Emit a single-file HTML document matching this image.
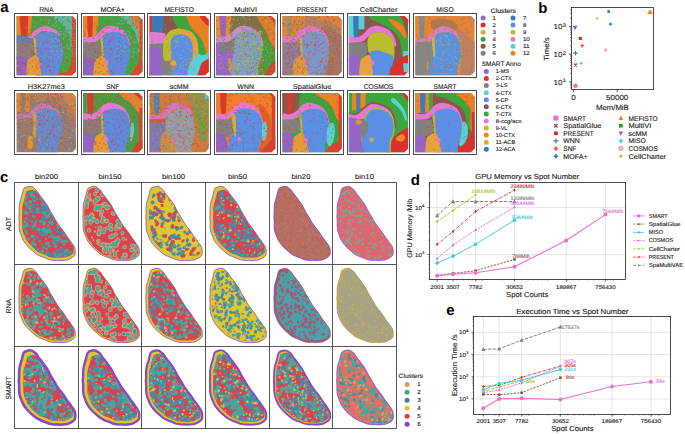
<!DOCTYPE html>
<html><head><meta charset="utf-8"><style>
html,body{margin:0;padding:0;background:#fff;width:685px;height:434px;overflow:hidden}
svg text{font-family:"Liberation Sans",sans-serif;text-rendering:geometricPrecision}
</style></head><body>
<svg width="685" height="434" viewBox="0 0 685 434" style="display:block">
<defs><clipPath id="octo"><path d="M0,0H56L60,4V56L56,60H0Z"/></clipPath></defs>
<text x="0.20" y="11.50" font-size="15.00" font-weight="bold" fill="#000">a</text>
<text x="46.30" y="11.60" font-size="6.97" text-anchor="middle" fill="#1a1a1a" stroke="#1a1a1a" stroke-width="0.12" textLength="14.25" lengthAdjust="spacingAndGlyphs">RNA</text>
<svg x="16.60" y="15.90" width="59.3" height="59.4" viewBox="17.6 19.7 402.1 402.8" preserveAspectRatio="none"><path d="M-20,-20H460V460H-20Z" fill="#46a447"/><path d="M230,-20C253,-35 422,-78 460,-20C498,38 471,287 460,330C449,373 410,272 395,240C380,208 382,168 370,140C358,112 343,97 320,70C297,43 207,-5 230,-20Z" fill="#5cb89c"/><path d="M392,-20 L460,-20 L460,460 L392,460Z" fill="#d84a30"/><path d="M330,460C315,447 358,402 370,380C382,358 385,338 400,330C415,322 450,308 460,330C470,352 482,438 460,460C438,482 345,473 330,460Z" fill="#d84a30"/><path d="M150,408 L460,400 L460,460 L150,460Z" fill="#d84a30"/><path d="M-20,-20C2,-47 90,-43 112,-20C134,3 114,93 112,120C110,147 105,135 100,140C95,145 88,148 80,150C72,152 67,152 50,150C33,148 -8,168 -20,140C-32,112 -42,7 -20,-20Z" fill="#e8862c"/><path d="M44,-20C52,-45 84,-45 92,-20C100,5 94,100 92,130C90,160 85,157 80,162C75,167 66,167 60,162C54,157 49,160 46,130C43,100 36,5 44,-20Z" fill="#d53c2c"/><path d="M-20,150 L110,160 L130,175 L140,200 L-20,205Z" fill="#6c78b8"/><path d="M100,160C102,151 124,129 140,118C156,107 178,96 195,92C212,88 229,91 245,96C261,101 279,111 290,120C301,129 311,142 312,148C313,154 308,157 298,154C288,151 270,133 255,128C240,123 220,120 205,122C190,124 178,130 165,138C152,146 141,166 130,170C119,174 98,169 100,160Z" fill="#e07ad0"/><path d="M150,170C152,155 151,153 160,146C169,139 188,133 205,130C222,127 244,127 260,130C276,133 290,140 300,150C310,160 317,172 322,188C327,204 329,224 330,245C331,266 330,293 326,315C322,337 312,351 306,375C300,399 313,446 290,460C267,474 191,477 170,460C149,443 164,387 162,360C160,333 158,321 156,300C154,279 149,257 148,235C147,213 148,185 150,170Z" fill="#6289db"/><path d="M-20,200 L140,200 L146,290 L110,298 L90,318 L-20,318Z" fill="#8a7c7e"/><path d="M-20,310C-8,283 36,298 55,300C74,302 86,307 92,320C98,333 91,357 92,380C93,403 115,447 96,460C77,473 -1,485 -20,460C-39,435 -32,337 -20,310Z" fill="#8d64c2"/><path d="M92,330C97,303 111,307 120,300C129,293 138,286 146,288C154,290 163,298 168,312C173,326 176,345 178,370C180,395 196,445 182,460C168,475 107,482 92,460C77,438 87,357 92,330Z" fill="#e29b3c"/><path d="M132,178C134,169 144,159 147,168C150,177 150,211 151,230C152,249 154,270 153,282C152,294 148,305 146,302C144,299 140,279 139,265C138,251 138,234 137,220C136,206 130,187 132,178Z" fill="#c9b23a"/><path d="M166,345a9,10 0 1,0 18,0a9,10 0 1,0 -18,0Z" fill="#d87ab8"/><path d="M141,274h0M79,266h0M121,284h0M341,216h0M285,188h0M20,30h0M180,259h0M380,379h0M312,232h0M393,173h0M148,135h0M408,49h0M242,328h0M24,379h0M407,395h0M369,148h0M364,325h0M369,265h0M96,139h0M404,116h0M270,24h0M116,142h0M121,132h0M192,30h0M48,347h0M321,397h0M148,237h0M385,197h0M259,54h0M221,345h0M302,245h0M233,198h0M260,225h0M228,360h0M146,163h0M156,45h0M144,280h0M44,377h0M296,140h0M253,46h0M399,375h0M53,262h0M76,350h0M237,317h0M318,179h0M57,378h0M350,102h0M329,33h0M196,60h0M301,213h0M332,140h0M46,415h0M72,220h0M350,258h0M90,57h0M204,345h0M267,211h0M125,27h0M374,221h0M152,356h0M285,298h0M192,379h0M179,332h0M91,309h0M228,64h0M316,381h0M46,33h0M394,87h0M22,387h0M158,240h0M252,32h0M260,302h0M262,328h0M359,363h0M128,272h0M312,182h0M354,202h0M329,111h0M331,299h0M414,400h0M383,235h0M50,327h0M185,310h0M178,89h0M133,118h0M209,251h0M317,196h0M52,54h0M329,69h0M398,286h0M138,39h0M163,245h0M157,261h0M335,180h0M357,287h0M27,380h0M358,165h0M418,298h0M347,249h0M128,207h0M162,418h0M354,259h0M247,136h0M196,208h0M36,139h0M353,322h0M216,110h0M205,60h0M245,165h0M368,44h0M257,30h0M364,120h0M62,185h0M226,199h0M292,260h0M404,319h0M304,30h0M45,300h0M158,109h0M137,159h0M55,408h0M273,160h0M187,71h0M137,111h0M401,49h0M328,222h0M188,107h0M339,321h0M344,299h0M247,390h0M316,268h0M38,40h0M98,267h0M390,179h0M294,166h0M25,336h0M394,71h0M304,330h0M361,203h0M263,211h0M244,365h0M325,188h0M369,248h0M63,209h0M117,138h0M43,238h0M95,210h0M379,59h0M384,166h0M98,381h0M158,171h0M327,213h0M159,41h0M202,199h0M197,328h0M235,278h0M22,345h0M394,335h0M101,118h0M46,370h0M131,80h0M271,416h0M94,402h0M285,244h0M71,342h0M400,130h0M185,270h0M131,215h0M367,58h0M243,26h0M74,347h0M52,264h0M403,38h0M93,197h0M231,366h0M181,330h0M139,276h0M56,339h0M343,92h0M387,204h0M342,340h0M225,309h0M343,257h0M175,364h0M293,92h0M143,313h0M257,407h0M34,388h0M219,184h0M154,370h0M116,153h0M242,391h0M157,346h0M277,274h0M221,368h0M335,249h0M390,310h0M221,242h0M366,33h0M324,197h0M205,65h0M194,366h0M304,405h0M272,46h0M125,325h0M119,257h0M341,24h0M42,217h0M292,45h0M75,39h0M122,274h0M209,398h0M162,376h0M265,102h0M65,341h0M24,249h0M267,71h0M56,134h0M86,225h0M107,341h0M64,49h0M416,26h0M373,173h0M304,63h0M290,205h0M355,331h0M59,107h0M125,365h0M213,28h0M189,128h0M245,246h0M316,420h0M310,250h0M327,110h0M294,44h0M41,399h0M303,205h0M24,389h0M268,367h0M190,276h0M233,353h0M168,327h0M167,196h0M207,141h0M243,266h0M333,149h0" stroke="#d83a30" stroke-width="5.5" stroke-linecap="square"/><path d="M258,61h0M273,174h0M240,51h0M402,174h0M280,72h0M264,258h0M329,42h0M347,20h0M250,300h0M365,229h0M239,113h0M277,283h0M318,57h0M257,138h0M319,285h0M387,98h0M302,132h0M278,45h0M353,152h0M401,258h0M401,225h0M231,127h0M354,108h0M263,217h0M363,214h0M266,83h0M309,246h0M287,89h0M415,205h0M356,126h0M335,171h0M249,84h0M352,299h0M313,213h0M375,246h0M290,180h0M267,229h0M315,146h0M381,199h0M414,278h0M383,108h0M364,243h0M314,261h0M375,240h0M379,227h0M377,35h0M285,54h0M372,177h0M262,222h0M319,125h0M331,18h0M389,43h0M285,229h0M321,254h0M287,27h0M285,22h0M310,30h0M250,255h0M307,185h0M352,159h0M234,63h0M341,149h0M300,296h0M278,38h0M259,24h0M289,261h0M400,243h0M270,93h0M390,88h0M236,125h0M333,180h0M346,120h0M295,188h0M315,105h0M319,68h0M331,256h0M249,262h0M328,267h0M400,108h0M395,69h0M381,290h0M318,59h0M404,44h0M247,232h0M264,195h0M293,256h0M245,160h0M407,88h0M396,272h0M291,62h0M372,131h0M405,187h0M324,214h0M381,227h0M388,255h0M297,74h0M242,47h0M238,18h0M338,143h0M311,186h0M233,71h0M364,222h0M375,19h0M385,215h0M284,171h0M376,71h0M291,228h0M303,100h0M393,140h0M253,175h0M323,143h0M339,143h0M299,127h0M274,225h0" stroke="#5ccfd6" stroke-width="5.5" stroke-linecap="square"/><path d="M315,53h0M313,172h0M337,210h0M339,107h0M274,230h0M316,213h0M289,101h0M307,164h0M412,28h0M355,205h0M330,187h0M314,122h0M389,287h0M303,173h0M362,44h0M296,38h0M326,109h0M231,162h0M237,81h0M239,159h0M328,58h0M360,90h0M263,149h0M301,169h0M414,130h0M259,64h0M372,263h0M373,279h0M283,186h0M375,293h0M327,110h0M287,111h0M262,50h0M342,163h0M355,273h0M402,278h0M379,72h0M348,257h0M306,235h0M363,51h0M301,135h0M268,138h0M256,94h0M238,79h0M410,23h0M328,101h0M318,172h0M344,183h0M250,85h0M265,98h0M261,162h0M411,112h0M233,250h0M251,149h0M382,128h0M383,151h0M377,56h0M383,113h0M374,170h0M364,227h0M346,252h0M402,139h0M374,118h0M334,125h0M273,225h0M318,242h0M295,69h0M314,188h0" stroke="#3ca63c" stroke-width="5.5" stroke-linecap="square"/><path d="M151,317h0M27,356h0M364,136h0M232,304h0M351,245h0M97,383h0M313,124h0M22,320h0M134,335h0M398,283h0M82,99h0M120,92h0M90,267h0M363,52h0M98,261h0M22,269h0M335,383h0M208,284h0M244,215h0M287,84h0M185,202h0M341,167h0M213,20h0M148,181h0M288,239h0M346,332h0M92,317h0M95,327h0M139,189h0M213,260h0M360,237h0M60,376h0M365,265h0M28,385h0M115,325h0M148,386h0M185,211h0M336,230h0M352,62h0M382,160h0M115,82h0M140,90h0M363,213h0M394,122h0M128,227h0M223,217h0M397,325h0M95,397h0M50,373h0M279,94h0M404,298h0M348,395h0" stroke="#ef8a2a" stroke-width="5.5" stroke-linecap="square"/></svg>
<path d="M71.90,15.40H76.40V19.90Z M76.40,71.30V75.80H71.90Z" fill="#fff"/>
<rect x="14.5" y="13.5" width="63.0" height="64.0" fill="none" stroke="#4a4a4a" stroke-width="1"/>
<text x="112.75" y="11.60" font-size="6.97" text-anchor="middle" fill="#1a1a1a" stroke="#1a1a1a" stroke-width="0.12" textLength="24.49" lengthAdjust="spacingAndGlyphs">MOFA+</text>
<svg x="83.05" y="15.90" width="59.3" height="59.4" viewBox="13.9 19.7 402.1 402.8" preserveAspectRatio="none"><path d="M-20,-20H460V460H-20Z" fill="#46a447"/><path d="M250,-20C275,-33 425,-73 460,-20C495,33 471,260 460,300C449,340 411,248 395,220C379,192 379,157 365,130C351,103 329,85 310,60C291,35 225,-7 250,-20Z" fill="#62b89a"/><path d="M330,-20C346,-37 438,-77 460,-20C482,37 470,275 460,320C450,365 412,278 400,250C388,222 396,178 390,150C384,122 375,108 365,80C355,52 314,-3 330,-20Z" fill="#e07a34"/><path d="M398,-20 L460,-20 L460,460 L398,460Z" fill="#d84a30"/><path d="M320,460C305,445 356,393 370,370C384,347 390,328 405,320C420,312 451,297 460,320C469,343 483,437 460,460C437,483 335,475 320,460Z" fill="#d84a30"/><path d="M-20,-20C1,-48 87,-45 108,-20C129,5 111,101 108,130C105,159 100,147 92,152C84,157 79,160 60,160C41,160 -7,180 -20,150C-33,120 -41,8 -20,-20Z" fill="#e8862c"/><path d="M44,-20C49,-45 72,-45 78,-20C84,5 79,100 78,130C77,160 74,155 70,160C66,165 59,165 55,160C51,155 48,160 46,130C44,100 39,5 44,-20Z" fill="#d53c2c"/><path d="M-20,150C-7,144 39,165 60,165C81,165 90,158 105,148C120,138 136,112 150,102C164,92 177,87 192,86C207,85 225,89 242,95C259,101 279,110 292,122C305,134 315,152 322,168C329,184 335,211 334,220C333,229 322,230 316,222C310,214 309,185 300,172C291,159 277,149 262,142C247,135 228,130 212,130C196,130 178,135 165,142C152,149 147,161 135,170C123,179 121,191 95,196C69,201 -1,210 -20,202C-39,194 -33,156 -20,150Z" fill="#e07ad0"/><path d="M142,170C145,155 150,153 160,146C170,139 188,133 205,130C222,127 244,127 260,130C276,133 290,140 300,150C310,160 317,172 322,188C327,204 329,224 330,245C331,266 330,293 326,315C322,337 312,351 306,375C300,399 313,446 290,460C267,474 191,477 170,460C149,443 166,387 162,360C158,333 152,321 148,300C144,279 141,257 140,235C139,213 139,185 142,170Z" fill="#6289db"/><path d="M-20,200 L130,200 L140,285 L110,298 L80,310 L-20,300Z" fill="#867f80"/><path d="M-20,300 L72,300 L96,332 L96,460 L-20,460Z" fill="#9060c4"/><path d="M92,335C96,309 109,310 118,302C127,294 137,287 146,290C155,293 164,303 170,318C176,333 180,354 184,378C188,402 207,446 192,460C177,474 109,481 92,460C75,439 88,361 92,335Z" fill="#e39b3a"/><path d="M132,178C134,169 144,159 147,168C150,177 150,211 151,230C152,249 154,270 153,282C152,294 148,305 146,302C144,299 140,279 139,265C138,251 138,234 137,220C136,206 130,187 132,178Z" fill="#c9b23a"/><path d="M161,337a13,16 0 1,0 26,0a13,16 0 1,0 -26,0Z" fill="#e07ad0"/><path d="M408,164h0M276,220h0M162,298h0M124,266h0M391,407h0M343,88h0M328,28h0M93,74h0M330,227h0M404,281h0M240,312h0M323,75h0M40,200h0M408,101h0M257,248h0M371,294h0M89,321h0M197,332h0M197,195h0M152,295h0M365,108h0M298,68h0M264,200h0M129,246h0M288,147h0M64,82h0M147,185h0M148,33h0M372,391h0M89,238h0M263,110h0M269,351h0M180,26h0M272,108h0M185,211h0M393,132h0M154,82h0M305,421h0M121,406h0M73,313h0M152,212h0M177,410h0M312,397h0M271,222h0M38,97h0M178,392h0M24,143h0M407,186h0M317,397h0M205,239h0M124,215h0M84,220h0M130,87h0M393,67h0M150,249h0M20,276h0M77,65h0M347,129h0M333,371h0M132,309h0M336,324h0M273,289h0M383,364h0M252,305h0M66,327h0M71,143h0M182,400h0M191,242h0M268,243h0M224,368h0M337,226h0M97,259h0M109,205h0M322,171h0M279,175h0M124,155h0M334,343h0M396,173h0M30,290h0M63,221h0M327,137h0M260,192h0M49,36h0M333,196h0M251,329h0M159,174h0M398,143h0M56,249h0M328,46h0M167,269h0M353,72h0M130,210h0M363,370h0M178,365h0M171,75h0M360,129h0M179,146h0M119,268h0M346,317h0M172,102h0M197,391h0M355,365h0M88,211h0M366,47h0M377,92h0M333,196h0M211,141h0M86,173h0M106,112h0M305,152h0M137,105h0M110,127h0M362,390h0M149,129h0M23,180h0M184,276h0M46,71h0M373,355h0M290,37h0M269,320h0M189,193h0M23,154h0M214,422h0M206,278h0M357,220h0M50,330h0M206,397h0M172,58h0M352,141h0M310,342h0M299,134h0M189,98h0M352,126h0M15,394h0M242,271h0M222,174h0M269,148h0M400,191h0M333,379h0M45,357h0M127,345h0M312,156h0M105,92h0M220,404h0M99,396h0M415,404h0M78,84h0M156,419h0M20,159h0M48,168h0M290,186h0M258,51h0M321,109h0M242,43h0M332,291h0M269,310h0M45,35h0M18,124h0M147,129h0M37,223h0M256,163h0M148,355h0M389,156h0M229,241h0M221,62h0M76,203h0M232,21h0M81,344h0M354,75h0M383,321h0M403,396h0M99,267h0M365,238h0M153,416h0M256,227h0M93,247h0M188,62h0M135,398h0M83,327h0M35,270h0M334,85h0M307,53h0M233,107h0M170,133h0M290,20h0M220,119h0M350,58h0M33,84h0M117,371h0M378,104h0M287,90h0M215,155h0M94,406h0M97,263h0M344,21h0M50,403h0M148,354h0M125,192h0M293,129h0M341,410h0M305,130h0M16,299h0M393,334h0M251,58h0M218,266h0M85,291h0M348,158h0M27,137h0M77,421h0M145,270h0M110,300h0M161,241h0M151,97h0M260,105h0M294,72h0M374,28h0M317,140h0M416,112h0M339,66h0M97,324h0M317,213h0M111,99h0M377,93h0M198,180h0M48,108h0M232,318h0M377,189h0M102,329h0M392,251h0M396,365h0M77,380h0M273,378h0M299,121h0M120,338h0M210,182h0M309,132h0M207,246h0M375,297h0M115,305h0M249,279h0M188,61h0M135,317h0M301,207h0M243,30h0M379,311h0M298,256h0" stroke="#d83a30" stroke-width="5.5" stroke-linecap="square"/><path d="M355,198h0M268,134h0M253,74h0M256,59h0M233,295h0M327,136h0M390,105h0M350,260h0M273,49h0M230,269h0M386,135h0M320,224h0M284,119h0M392,261h0M241,67h0M332,67h0M342,159h0M361,61h0M269,220h0M340,297h0M360,44h0M330,137h0M298,38h0M280,52h0M268,223h0M391,251h0M252,290h0M390,253h0M292,119h0M280,257h0M302,233h0M313,69h0M332,265h0M386,243h0M273,77h0M361,240h0M319,252h0M374,153h0M363,264h0M400,220h0M251,212h0M255,161h0M414,103h0M359,271h0M376,34h0M362,199h0M383,276h0M290,206h0M245,88h0M355,298h0M403,45h0M380,57h0M326,154h0M335,164h0M337,44h0M280,121h0M338,174h0M282,164h0M386,72h0M288,222h0M268,126h0M288,35h0M385,259h0M259,73h0M285,262h0M380,172h0M388,117h0M266,249h0M299,57h0M396,145h0M397,57h0M375,194h0M246,241h0M282,141h0M299,262h0M323,122h0M372,196h0M380,85h0M293,185h0M300,226h0M278,170h0M273,70h0M253,71h0M283,250h0M355,263h0M292,70h0M248,18h0M408,186h0M330,71h0M230,244h0M309,129h0" stroke="#5ccfd6" stroke-width="5.5" stroke-linecap="square"/><path d="M341,21h0M389,295h0M408,85h0M343,42h0M241,54h0M326,231h0M281,64h0M297,107h0M378,208h0M328,85h0M261,169h0M312,269h0M377,51h0M365,181h0M392,39h0M289,300h0M310,47h0M405,35h0M244,32h0M306,253h0M251,173h0M335,300h0M282,246h0M390,51h0M313,243h0M289,24h0M241,64h0M260,115h0M280,250h0M288,269h0M355,91h0M357,170h0M348,153h0M257,84h0M379,60h0M371,140h0M243,41h0M341,209h0M395,282h0M230,231h0M353,264h0M300,132h0M379,239h0M356,166h0M331,50h0M324,234h0M297,93h0M415,262h0M336,255h0M318,118h0M297,111h0M364,85h0M343,80h0M378,142h0M328,240h0M315,51h0M315,241h0" stroke="#3ca63c" stroke-width="5.5" stroke-linecap="square"/></svg>
<path d="M138.35,15.40H142.85V19.90Z M142.85,71.30V75.80H138.35Z" fill="#fff"/>
<rect x="81.5" y="13.5" width="63.0" height="64.0" fill="none" stroke="#4a4a4a" stroke-width="1"/>
<text x="179.20" y="11.60" font-size="6.97" text-anchor="middle" fill="#1a1a1a" stroke="#1a1a1a" stroke-width="0.12" textLength="29.46" lengthAdjust="spacingAndGlyphs">MEFISTO</text>
<svg x="149.50" y="15.90" width="59.3" height="59.4" viewBox="17.0 19.7 402.1 402.8" preserveAspectRatio="none"><path d="M-20,-20H460V460H-20Z" fill="#f07d22"/><path d="M350,-20C362,-34 442,-40 460,-20C478,0 472,86 460,100C448,114 403,82 385,62C367,42 338,-6 350,-20Z" fill="#d8312f"/><path d="M158,-20C168,-32 222,-32 241,-20C260,-8 266,31 275,50C284,69 289,82 298,95C307,108 320,119 330,130C340,141 347,148 355,160C363,172 373,185 380,200C387,215 391,233 395,250C399,267 404,286 405,300C406,314 408,329 400,335C392,341 367,347 358,338C349,329 350,301 345,280C340,259 338,229 330,212C322,195 309,189 300,180C291,171 286,167 276,158C266,149 251,136 240,125C229,114 219,107 209,95C199,83 188,74 180,55C172,36 148,-8 158,-20Z" fill="#3ca63c"/><path d="M100,-20C110,-49 146,-32 160,-20C174,-8 174,36 182,55C190,74 199,83 209,95C219,107 235,118 242,126C249,134 259,145 252,142C245,139 217,112 200,110C183,108 162,121 152,128C142,135 149,146 140,150C131,154 107,180 100,152C93,124 90,9 100,-20Z" fill="#8c564b"/><path d="M32,-20C44,-45 94,-45 106,-20C118,5 108,103 106,130C104,157 106,141 95,143C84,145 50,145 40,143C30,141 33,157 32,130C31,103 20,5 32,-20Z" fill="#3a7ab8"/><path d="M-20,-20H32V152H-20Z" fill="#d8312f"/><path d="M-20,136C2,122 88,132 112,136C136,140 124,147 125,160C126,173 144,202 120,212C96,222 3,230 -20,217C-43,204 -42,150 -20,136Z" fill="#e27ad0"/><path d="M-20,212 L125,206 L125,300 L160,322 L172,365 L172,460 L-20,460Z" fill="#808080"/><path d="M-20,238 L95,238 L100,460 L-20,460Z" fill="#9565c8"/><path d="M200,108C208,103 245,110 262,113C279,116 288,119 300,128C312,137 324,151 332,168C340,185 346,209 348,230C350,251 350,280 344,292C338,304 317,312 312,302C307,292 315,252 312,232C309,212 304,195 296,182C288,169 276,159 262,152C248,145 225,149 215,142C205,135 192,113 200,108Z" fill="#eda035"/><path d="M112,310C108,294 109,255 110,232C111,209 113,189 120,172C127,155 138,139 150,128C162,117 178,111 190,108C202,105 217,102 222,108C227,114 228,135 222,142C216,149 195,144 186,150C177,156 172,167 168,180C164,193 162,208 161,230C160,252 165,296 161,312C157,328 144,326 136,326C128,326 116,326 112,310Z" fill="#bcbd2e"/><path d="M165,180C171,166 184,156 198,150C212,144 234,142 250,146C266,150 282,162 292,176C302,190 307,212 310,230C313,248 313,265 310,282C307,299 297,315 292,332C287,349 282,361 278,382C274,403 286,447 268,460C250,473 187,476 172,460C157,444 177,389 176,362C175,335 168,322 166,300C164,278 162,252 162,232C162,212 159,194 165,180Z" fill="#5b8fe3"/><path d="M158,340a20,20 0 1,0 40,0a20,20 0 1,0 -40,0Z" fill="#e8a23c"/><path d="M270,460C261,445 279,393 285,370C291,347 296,336 305,320C314,304 328,281 340,275C352,269 360,288 380,285C400,282 447,258 460,260C473,262 473,288 460,300C447,312 397,317 380,330C363,343 367,358 360,380C353,402 355,447 340,460C325,473 279,475 270,460Z" fill="#5ccfd6"/><path d="M345,460C328,445 353,392 360,370C367,348 368,342 385,330C402,318 448,278 460,300C472,322 479,433 460,460C441,487 362,475 345,460Z" fill="#d8312f"/><path d="M179,145h0M127,364h0M327,263h0M184,214h0M398,130h0M197,400h0M221,387h0M417,293h0M296,262h0M330,281h0M108,297h0M66,273h0M143,208h0M329,83h0M294,310h0M270,68h0M203,169h0M25,332h0M324,138h0M414,23h0M296,289h0M172,354h0M306,106h0M43,56h0M164,187h0M251,339h0M279,273h0M97,111h0M271,45h0M151,253h0M129,235h0M247,328h0M315,204h0M127,277h0M268,124h0M38,197h0M284,133h0M122,78h0M271,258h0M171,223h0M350,277h0M85,225h0M260,183h0M203,337h0M42,254h0M394,88h0M212,137h0M101,300h0M66,250h0M371,164h0M365,287h0M322,374h0M316,384h0M35,380h0M344,142h0M210,293h0M134,180h0M370,231h0M239,22h0M59,224h0M116,393h0M322,195h0M366,154h0M37,31h0M192,417h0M43,385h0M192,313h0M139,230h0M247,319h0M353,103h0M124,113h0M314,152h0M145,412h0M43,114h0M376,71h0M302,20h0M210,340h0M328,72h0M45,232h0M403,240h0M381,221h0M99,350h0M163,221h0M168,369h0M178,33h0M32,196h0M86,175h0M107,294h0M269,387h0M291,260h0M215,414h0M271,362h0M200,261h0M307,189h0M160,38h0M278,315h0M372,137h0M170,332h0M148,352h0M314,152h0M378,224h0M90,380h0M148,422h0M299,365h0M64,320h0" stroke="#8a8a8a" stroke-width="5.5" stroke-linecap="square"/><path d="M174,381h0M185,379h0M178,238h0M229,413h0M278,397h0M188,191h0M233,164h0M194,230h0M236,410h0M266,206h0M199,411h0M248,333h0M244,255h0M264,348h0M206,202h0M207,185h0M274,211h0M202,196h0M164,371h0M203,350h0M292,310h0M221,373h0M226,361h0M229,287h0M163,258h0M269,194h0M188,189h0M229,353h0M285,339h0M249,154h0M265,383h0M196,365h0M260,315h0M247,160h0M208,173h0M246,359h0M290,313h0M292,362h0M166,267h0M235,310h0M278,243h0M297,254h0M172,279h0M203,281h0M223,306h0M240,375h0M290,413h0M209,203h0M160,403h0M213,405h0M204,223h0M308,358h0" stroke="#c8c040" stroke-width="5.5" stroke-linecap="square"/></svg>
<path d="M204.80,15.40H209.30V19.90Z M209.30,71.30V75.80H204.80Z" fill="#fff"/>
<rect x="147.5" y="13.5" width="63.0" height="64.0" fill="none" stroke="#4a4a4a" stroke-width="1"/>
<text x="245.65" y="11.60" font-size="6.97" text-anchor="middle" fill="#1a1a1a" stroke="#1a1a1a" stroke-width="0.12" textLength="22.94" lengthAdjust="spacingAndGlyphs">MultiVI</text>
<svg x="215.95" y="15.90" width="59.3" height="59.4" viewBox="13.2 19.7 402.1 402.8" preserveAspectRatio="none"><path d="M-20,-20H460V460H-20Z" fill="#68883e"/><path d="M110,-20C142,-42 283,-38 320,-20C357,-2 333,65 330,90C327,115 322,129 300,130C278,131 228,98 200,95C172,92 145,129 130,110C115,91 78,2 110,-20Z" fill="#7e7048"/><path d="M290,-20C315,-33 432,-67 460,-20C488,27 472,223 460,260C448,297 402,222 385,200C368,178 368,153 355,130C342,107 321,85 310,60C299,35 265,-7 290,-20Z" fill="#e27a32"/><path d="M327,-20 L460,-20 L460,119Z" fill="#d84030"/><path d="M318,200C322,178 349,186 362,196C375,206 392,231 398,262C404,293 406,357 400,380C394,403 370,408 360,400C350,392 345,363 338,330C331,297 314,222 318,200Z" fill="#44a040"/><path d="M330,460C315,447 358,402 370,380C382,358 385,338 400,330C415,322 450,308 460,330C470,352 482,438 460,460C438,482 345,473 330,460Z" fill="#d84030"/><path d="M-20,-20C1,-48 84,-48 105,-20C126,8 109,119 105,150C101,181 91,163 80,165C69,167 57,162 40,160C23,158 -10,180 -20,150C-30,120 -41,8 -20,-20Z" fill="#e98a2c"/><path d="M40,-20C46,-47 73,-47 80,-20C87,7 82,110 80,140C78,170 71,160 65,160C59,160 49,170 45,140C41,110 34,7 40,-20Z" fill="#9a62c4"/><path d="M-20,150C-7,144 39,165 60,165C81,165 90,158 105,148C120,138 136,112 150,102C164,92 177,87 192,86C207,85 225,89 242,95C259,101 279,110 292,122C305,134 315,152 322,168C329,184 335,211 334,220C333,229 322,230 316,222C310,214 309,185 300,172C291,159 277,149 262,142C247,135 228,130 212,130C196,130 178,135 165,142C152,149 147,161 135,170C123,179 121,191 95,196C69,201 -1,210 -20,202C-39,194 -33,156 -20,150Z" fill="#c98ad8"/><path d="M140,178C145,163 157,144 170,134C183,124 203,119 220,118C237,117 257,120 272,128C287,136 304,152 312,168C320,184 321,200 322,222C323,244 324,279 320,302C316,325 306,336 300,362C294,388 313,444 282,460C251,476 144,478 115,460C86,442 106,380 108,350C110,320 123,303 128,282C133,261 136,239 138,222C140,205 135,193 140,178Z" fill="#7e9cc4"/><path d="M-20,200 L132,200 L140,280 L112,330 L110,460 L-20,460Z" fill="#9a64c8"/><path d="M40,200 L130,200 L132,268 L40,268Z" fill="#867c88"/><path d="M96,320C97,306 106,298 110,310C114,322 123,376 122,390C121,404 108,407 104,395C100,383 95,334 96,320Z" fill="#e8902c"/><path d="M165,340a10,10 0 1,0 20,0a10,10 0 1,0 -20,0Z" fill="#5ccfd6"/><path d="M175,354h0M174,197h0M300,346h0M246,183h0M131,285h0M317,332h0M279,164h0M245,209h0M172,233h0M242,309h0M307,243h0M199,210h0M159,392h0M318,387h0M298,140h0M168,190h0M272,345h0M259,382h0M327,250h0M311,128h0M328,194h0M261,218h0M165,378h0M217,341h0M146,326h0M295,406h0M145,204h0M211,188h0M326,247h0M277,237h0M183,411h0M246,285h0M306,125h0M266,201h0M132,281h0M162,300h0M317,226h0M192,248h0M319,283h0M138,203h0M224,334h0M202,337h0M163,321h0M207,405h0M291,335h0M263,123h0M322,215h0M315,133h0M293,417h0M201,339h0M197,304h0M235,264h0M303,134h0M312,137h0M228,326h0M279,132h0M275,323h0M241,303h0M270,196h0M183,301h0M234,340h0M143,414h0M202,255h0M235,270h0M326,358h0M324,270h0M299,253h0M199,294h0M296,200h0M145,380h0M327,128h0M218,265h0M318,145h0M150,368h0M329,384h0M180,406h0M275,360h0M148,254h0M206,180h0M140,307h0M292,240h0M184,159h0M328,303h0M210,333h0M309,129h0M292,413h0M259,300h0M166,403h0M196,273h0M222,175h0M184,219h0M255,129h0M254,398h0M203,407h0M284,244h0M185,276h0M187,263h0M165,345h0M308,300h0M328,397h0M213,146h0M253,331h0M271,161h0M205,371h0M304,395h0M312,210h0M328,245h0M284,357h0M161,356h0M212,267h0M195,190h0M264,311h0M211,251h0M302,243h0M305,245h0M137,344h0M315,194h0M148,287h0M137,352h0M141,233h0M140,339h0M240,218h0M305,237h0M250,364h0M322,251h0M131,193h0M180,342h0M314,313h0M235,209h0M157,420h0M145,230h0M325,336h0M290,368h0M182,225h0M278,215h0M316,385h0M255,246h0M210,411h0M300,244h0M212,148h0M175,279h0M329,202h0M240,213h0M275,410h0M330,193h0M202,160h0M166,393h0M239,219h0M232,363h0M212,224h0M181,208h0M301,253h0M208,172h0M134,361h0M252,395h0M229,174h0M308,124h0M305,346h0M186,354h0M263,413h0M144,145h0M135,170h0M320,121h0M228,266h0M258,412h0M216,378h0M232,324h0M187,133h0M180,170h0M224,348h0M221,175h0M198,129h0M311,264h0M135,233h0M323,280h0M212,138h0M237,302h0M327,298h0M176,277h0M313,147h0M260,156h0M181,377h0M286,226h0M314,319h0M315,125h0M222,133h0M309,365h0M293,307h0M245,173h0M306,239h0M151,143h0M269,413h0M324,239h0M324,230h0M230,324h0M244,221h0M267,271h0M193,166h0M173,347h0M209,130h0M301,307h0M267,179h0M184,169h0M258,216h0M195,322h0M189,199h0M177,220h0M214,349h0" stroke="#bcbd2e" stroke-width="5.5" stroke-linecap="square"/><path d="M388,329h0M214,107h0M290,253h0M376,404h0M95,39h0M127,96h0M288,342h0M206,263h0M384,314h0M176,88h0M363,95h0M143,197h0M295,322h0M352,231h0M210,224h0M146,28h0M250,156h0M102,410h0M344,38h0M375,71h0M135,237h0M379,411h0M147,393h0M408,74h0M234,140h0M238,344h0M62,187h0M271,272h0M351,166h0M175,336h0M310,104h0M282,356h0M279,163h0M206,277h0M265,225h0M16,229h0M306,288h0M413,297h0M303,55h0M158,28h0M214,117h0M59,172h0M285,230h0M94,75h0M83,93h0M102,116h0M314,233h0M125,145h0M399,241h0M376,109h0M413,368h0M334,75h0M190,37h0M199,98h0M316,159h0M307,27h0M218,58h0M316,82h0M222,208h0M251,140h0M179,32h0M324,93h0M61,250h0M145,143h0M83,227h0M66,388h0M151,410h0M154,393h0M339,364h0M359,325h0M68,140h0M357,29h0M351,185h0M231,295h0M19,106h0M109,324h0M304,268h0M250,310h0M194,52h0M104,363h0M33,190h0M188,99h0M46,415h0M40,403h0M258,124h0M277,388h0M89,377h0M60,186h0M410,57h0M200,244h0M203,200h0M66,98h0M140,57h0M333,415h0M214,31h0M66,261h0M224,376h0M386,29h0M104,199h0M194,72h0M355,258h0M354,182h0M401,334h0M72,244h0M304,24h0M62,84h0M331,348h0M410,326h0M95,247h0M395,75h0M198,112h0M267,343h0M146,238h0M331,358h0M30,418h0M133,40h0M262,400h0M365,214h0M226,146h0M38,31h0M49,276h0M190,365h0M389,287h0M81,363h0M107,69h0M260,105h0M156,172h0M159,78h0M275,120h0M165,93h0M227,355h0M66,59h0M296,45h0M33,158h0M136,244h0M348,223h0M90,211h0M72,98h0M163,393h0M274,281h0M357,255h0M248,293h0M373,162h0M303,257h0M179,309h0M298,299h0M133,267h0M202,137h0M174,46h0M327,189h0M229,156h0M234,207h0M105,350h0M126,125h0M64,267h0M16,368h0M197,29h0M268,229h0M261,71h0M322,353h0M84,368h0M372,152h0M99,33h0M95,250h0M276,308h0M301,207h0M274,313h0M43,212h0M118,156h0M290,147h0M174,395h0M332,386h0M341,234h0M216,339h0M274,72h0M164,171h0" stroke="#3ca63c" stroke-width="5.5" stroke-linecap="square"/><path d="M235,226h0M383,271h0M398,372h0M238,409h0M360,372h0M250,401h0M176,234h0M365,114h0M137,66h0M312,359h0M33,106h0M294,216h0M118,146h0M255,374h0M193,115h0M44,268h0M103,194h0M112,68h0M68,353h0M263,113h0M171,226h0M77,207h0M199,181h0M227,198h0M415,86h0M105,261h0M414,153h0M262,147h0M290,127h0M359,214h0M409,30h0M219,33h0M188,76h0M196,159h0M345,148h0M113,269h0M111,66h0M334,50h0M368,395h0M19,178h0M351,266h0M364,289h0M50,141h0M305,209h0M143,394h0M392,63h0M240,366h0M93,58h0M218,279h0M121,183h0M382,116h0M160,406h0M207,133h0M72,177h0M263,143h0M125,111h0M105,114h0M212,220h0M240,20h0M244,256h0M223,400h0M102,263h0M123,163h0M181,345h0M347,31h0M162,336h0M138,176h0M259,396h0M362,313h0M337,371h0M279,409h0M68,79h0M305,334h0M120,390h0M384,236h0M150,54h0M322,26h0M347,327h0M84,267h0M19,222h0M266,369h0M198,33h0M247,242h0M189,293h0M88,217h0M113,197h0M408,136h0M324,47h0M114,421h0M398,184h0M412,88h0M288,340h0M203,168h0M306,82h0M207,133h0M405,140h0M281,160h0M19,51h0M329,319h0M405,175h0M84,46h0M212,158h0M73,414h0M119,43h0M292,372h0" stroke="#d83a30" stroke-width="5.5" stroke-linecap="square"/><path d="M124,401h0M224,308h0M162,51h0M202,226h0M162,118h0M56,216h0M32,348h0M127,138h0M27,285h0M332,319h0M121,73h0M173,155h0M119,237h0M190,188h0M389,31h0M364,58h0M415,95h0M286,143h0M350,287h0M327,137h0M262,348h0M203,21h0M119,83h0M120,36h0M204,252h0M115,93h0M401,25h0M143,227h0M207,87h0M255,125h0M41,289h0M409,417h0M240,24h0M99,263h0M31,213h0M202,215h0M145,250h0M389,407h0M83,118h0M328,322h0M161,243h0M67,421h0M58,74h0M314,34h0M202,347h0M377,347h0M207,157h0M406,103h0M262,350h0M157,49h0M328,238h0M32,371h0" stroke="#e27ad0" stroke-width="5.5" stroke-linecap="square"/><path d="M356,54h0M30,76h0M208,82h0M393,384h0M321,170h0M182,129h0M333,246h0M96,279h0M298,366h0M85,306h0M363,269h0M353,232h0M274,203h0M240,44h0M84,47h0M95,383h0M195,30h0M265,418h0M212,46h0M248,259h0M356,249h0M133,42h0M363,213h0M395,274h0M149,258h0M274,322h0M387,246h0M209,37h0M285,169h0M90,337h0M213,324h0M223,377h0M165,204h0M129,237h0M307,308h0M60,372h0M297,239h0M251,87h0M315,250h0M226,234h0M90,84h0M353,321h0M90,148h0M145,373h0M337,414h0M92,70h0M33,194h0M336,321h0M115,408h0M319,199h0M162,168h0M128,190h0M200,27h0M239,357h0M107,316h0M330,196h0M126,76h0M152,387h0M270,116h0M382,161h0M210,236h0M44,341h0M130,46h0M173,71h0M256,352h0M386,222h0M137,26h0M269,296h0M167,191h0M386,174h0M124,149h0M389,126h0M273,409h0M386,123h0M346,195h0M88,27h0M32,285h0M61,355h0M386,271h0M402,88h0M91,197h0M114,266h0M123,283h0M286,212h0M373,291h0M255,280h0M197,283h0M162,386h0M44,377h0M315,230h0M132,249h0M398,420h0M59,182h0M381,82h0M276,205h0M296,367h0M147,128h0M160,346h0M398,368h0M355,55h0M139,288h0M235,326h0M51,312h0M213,358h0M186,142h0" stroke="#bcbd2e" stroke-width="5.5" stroke-linecap="square"/></svg>
<path d="M271.25,15.40H275.75V19.90Z M275.75,71.30V75.80H271.25Z" fill="#fff"/>
<rect x="214.5" y="13.5" width="63.0" height="64.0" fill="none" stroke="#4a4a4a" stroke-width="1"/>
<text x="312.10" y="11.60" font-size="6.97" text-anchor="middle" fill="#1a1a1a" stroke="#1a1a1a" stroke-width="0.12" textLength="30.52" lengthAdjust="spacingAndGlyphs">PRESENT</text>
<svg x="282.40" y="15.90" width="59.3" height="59.4" viewBox="16.3 19.7 402.1 402.8" preserveAspectRatio="none"><path d="M-20,-20H460V460H-20Z" fill="#b4805e"/><path d="M190,-20C223,-30 415,-42 460,-20C505,2 482,96 460,110C438,124 363,74 330,62C297,50 283,54 260,40C237,26 157,-10 190,-20Z" fill="#e0843a"/><path d="M280,100C280,65 312,83 330,90C348,97 368,122 390,140C412,158 448,157 460,200C472,243 477,357 460,400C443,443 387,450 360,460C333,470 305,487 300,460C295,433 333,360 330,300C327,240 280,135 280,100Z" fill="#a87262"/><path d="M-20,-20C10,-48 130,-40 160,-20C190,0 167,72 160,100C153,128 137,139 120,150C103,161 83,165 60,165C37,165 -7,181 -20,150C-33,119 -50,8 -20,-20Z" fill="#e5862e"/><path d="M45,-20C50,-47 70,-47 75,-20C80,7 80,113 75,140C70,167 50,167 45,140C40,113 40,7 45,-20Z" fill="#a88a70"/><path d="M-20,150C-7,144 39,165 60,165C81,165 90,158 105,148C120,138 136,112 150,102C164,92 177,87 192,86C207,85 225,89 242,95C259,101 279,110 292,122C305,134 315,152 322,168C329,184 335,211 334,220C333,229 322,230 316,222C310,214 309,185 300,172C291,159 277,149 262,142C247,135 228,130 212,130C196,130 178,135 165,142C152,149 147,161 135,170C123,179 121,191 95,196C69,201 -1,210 -20,202C-39,194 -33,156 -20,150Z" fill="#de78c8"/><path d="M142,170C145,155 150,153 160,146C170,139 188,133 205,130C222,127 244,127 260,130C276,133 290,140 300,150C310,160 317,172 322,188C327,204 329,224 330,245C331,266 330,293 326,315C322,337 312,351 306,375C300,399 313,446 290,460C267,474 191,477 170,460C149,443 166,387 162,360C158,333 152,321 148,300C144,279 141,257 140,235C139,213 139,185 142,170Z" fill="#7c96cc"/><path d="M-20,200 L130,200 L140,290 L100,330 L96,460 L-20,460Z" fill="#8e7c98"/><path d="M92,335C96,309 109,310 118,302C127,294 137,287 146,290C155,293 164,303 170,318C176,333 180,354 184,378C188,402 207,446 192,460C177,474 109,481 92,460C75,439 88,361 92,335Z" fill="#e09840"/><path d="M132,178C134,169 144,159 147,168C150,177 150,211 151,230C152,249 154,270 153,282C152,294 148,305 146,302C144,299 140,279 139,265C138,251 138,234 137,220C136,206 130,187 132,178Z" fill="#c2b640"/><path d="M161,337a13,16 0 1,0 26,0a13,16 0 1,0 -26,0Z" fill="#e07ad0"/><path d="M198,196h0M33,329h0M287,290h0M206,291h0M371,298h0M155,381h0M144,53h0M117,220h0M363,160h0M282,128h0M27,413h0M246,206h0M288,73h0M369,141h0M402,88h0M203,144h0M264,44h0M39,150h0M40,347h0M64,143h0M226,66h0M399,137h0M244,105h0M115,273h0M301,340h0M399,395h0M195,27h0M79,374h0M409,240h0M20,129h0M313,95h0M121,193h0M301,321h0M176,167h0M223,206h0M411,59h0M172,154h0M219,363h0M339,268h0M164,263h0M343,246h0M380,31h0M219,389h0M242,343h0M159,419h0M92,234h0M321,415h0M188,338h0M278,318h0M360,195h0M159,332h0M162,81h0M101,216h0M217,95h0M395,79h0M334,158h0M361,371h0M104,25h0M231,373h0M345,291h0M129,422h0M165,296h0M279,158h0M309,294h0M359,177h0M139,83h0M171,341h0M325,91h0M224,29h0M312,228h0M375,324h0M151,229h0M38,319h0M94,89h0M80,303h0M89,171h0M228,138h0M298,418h0M99,320h0M173,393h0M348,207h0M346,132h0M28,228h0M24,306h0M260,367h0M66,81h0M231,159h0M103,74h0M43,203h0M102,272h0M78,330h0M117,70h0M264,395h0M352,26h0M103,111h0M360,207h0M56,61h0M324,405h0M271,361h0M176,323h0M272,332h0M281,293h0M42,83h0M297,85h0M59,31h0M84,100h0M299,291h0M138,42h0M409,124h0M303,330h0M288,91h0M150,287h0M52,372h0M133,407h0M378,375h0M351,36h0M118,269h0M292,332h0M21,380h0M273,247h0M377,415h0M182,164h0M217,28h0M404,265h0M19,218h0M146,143h0M414,273h0M250,314h0M216,150h0M142,40h0M87,50h0M20,357h0M166,100h0M412,313h0M163,191h0M364,92h0M18,50h0M68,253h0M22,216h0M185,298h0M329,289h0M334,116h0M186,83h0M112,405h0M401,243h0M77,412h0M341,381h0M253,285h0M218,264h0M294,81h0M314,76h0M310,255h0M380,27h0M160,376h0M370,78h0M113,114h0M127,281h0M274,28h0M258,310h0M151,93h0M46,174h0M337,90h0M55,292h0M172,128h0M80,204h0M27,354h0M405,46h0M306,196h0M347,212h0M80,422h0M295,113h0M206,215h0M218,272h0M75,377h0M131,375h0M226,222h0M30,251h0M197,99h0M339,120h0M102,144h0M18,157h0M203,318h0M151,410h0M347,342h0M140,217h0M286,232h0M344,154h0M202,171h0M193,225h0M147,272h0M24,118h0M322,299h0M226,186h0M156,211h0M57,405h0M178,92h0M73,373h0M200,403h0M265,357h0M352,283h0M266,311h0M159,27h0M63,164h0M408,60h0M51,389h0M44,164h0M383,124h0M292,337h0M34,22h0M49,36h0M194,337h0M365,374h0M95,73h0M363,295h0M235,233h0M348,216h0M30,216h0M179,65h0M365,303h0M230,275h0M218,34h0M52,375h0M156,305h0M243,260h0M281,123h0M69,351h0M292,26h0M320,110h0M187,402h0M217,115h0M313,252h0M24,174h0M235,84h0M118,386h0M149,162h0M62,101h0M152,413h0M369,294h0M266,207h0M166,289h0M135,327h0M133,139h0M154,381h0M282,306h0M162,298h0M328,338h0" stroke="#f07d22" stroke-width="5.5" stroke-linecap="square"/><path d="M261,101h0M311,269h0M345,334h0M402,285h0M341,275h0M307,69h0M140,304h0M88,272h0M30,186h0M331,43h0M147,318h0M253,252h0M129,96h0M398,222h0M84,137h0M120,173h0M281,70h0M335,358h0M160,57h0M145,77h0M357,96h0M171,346h0M347,285h0M356,297h0M127,29h0M365,379h0M393,262h0M141,312h0M57,236h0M229,145h0M376,417h0M329,402h0M69,70h0M245,398h0M352,348h0M319,367h0M330,202h0M326,340h0M103,81h0M155,295h0M263,253h0M270,414h0M114,101h0M400,309h0M172,88h0M95,375h0M356,182h0M267,176h0M202,36h0M367,392h0M87,329h0M87,304h0M151,370h0M48,207h0M368,117h0M22,373h0M365,408h0M327,357h0M383,105h0M305,327h0M260,229h0M340,204h0M268,361h0M351,325h0M263,261h0M53,101h0M377,415h0M346,73h0M245,283h0M282,239h0M293,418h0M315,119h0M309,71h0M313,53h0M232,180h0M166,212h0M270,31h0M217,361h0M307,52h0M151,162h0M208,97h0M126,47h0M217,139h0M235,39h0M369,184h0M259,193h0M55,251h0M133,186h0M149,48h0M137,258h0M414,226h0M372,311h0M138,50h0M289,310h0M405,327h0M273,258h0M289,311h0M71,219h0M44,153h0M300,349h0M46,331h0M302,196h0M85,193h0M324,402h0M67,213h0M181,90h0M386,387h0M290,268h0M203,312h0M414,26h0M84,391h0M217,36h0M291,132h0M80,126h0M31,209h0M228,271h0M226,35h0M222,174h0M349,414h0M392,163h0M100,98h0M140,68h0M397,188h0M49,238h0M186,120h0M384,269h0M110,158h0M193,320h0M108,376h0M360,174h0M241,204h0M142,35h0M40,219h0M263,32h0M76,370h0M167,213h0M200,58h0M372,86h0M309,41h0M291,240h0M353,217h0M264,155h0M83,181h0M406,403h0M67,46h0M187,323h0M305,363h0M260,362h0M374,212h0M110,254h0M414,47h0M360,265h0M109,40h0M243,421h0M154,74h0M116,351h0M394,29h0M301,192h0M342,33h0M368,173h0M189,269h0M122,140h0M416,326h0M42,236h0M84,395h0M117,111h0M27,349h0M171,314h0M156,63h0M204,25h0M404,298h0M372,42h0M289,390h0M304,40h0M257,170h0M28,76h0" stroke="#808080" stroke-width="5.5" stroke-linecap="square"/><path d="M212,198h0M192,62h0M120,103h0M197,109h0M233,278h0M356,196h0M81,410h0M387,421h0M126,237h0M58,238h0M384,246h0M285,308h0M239,214h0M383,86h0M167,292h0M42,412h0M127,370h0M388,241h0M57,22h0M413,414h0M343,107h0M186,133h0M181,345h0M406,406h0M26,292h0M193,281h0M391,160h0M272,339h0M260,220h0M124,255h0M105,328h0M283,108h0M92,263h0M207,268h0M137,370h0M32,82h0M358,171h0M112,26h0M119,397h0M188,24h0M153,70h0M165,370h0M388,342h0M142,209h0M223,403h0M300,361h0M115,265h0M251,195h0M74,189h0M340,66h0M369,276h0M55,270h0M182,381h0M96,390h0M303,152h0M221,153h0M52,172h0M307,374h0M236,65h0M28,412h0M245,173h0M366,47h0M122,342h0M39,340h0M417,339h0M117,82h0M152,353h0M350,220h0M294,54h0M33,309h0M131,243h0M193,305h0M209,127h0M329,332h0M117,82h0M140,271h0M61,298h0M344,407h0M18,70h0M44,346h0M377,169h0M365,132h0M315,324h0M349,371h0M95,137h0M94,288h0M246,154h0M403,215h0M160,194h0M65,250h0M322,26h0M395,225h0M249,370h0M359,49h0M240,204h0M210,214h0M329,410h0M351,165h0M295,411h0M381,412h0M65,292h0M366,51h0M99,214h0M94,212h0M47,271h0M176,50h0M183,235h0M348,331h0M199,366h0M260,389h0M255,31h0M100,55h0M267,27h0M24,71h0M97,62h0M289,335h0M185,227h0M240,221h0M323,87h0M399,192h0M356,316h0M414,272h0M179,307h0M161,35h0M66,267h0M125,274h0M287,208h0M67,220h0M311,62h0M194,352h0M132,23h0M400,395h0M332,57h0M365,374h0M279,411h0M39,299h0M126,183h0M291,200h0M178,22h0M112,118h0" stroke="#d83a30" stroke-width="5.5" stroke-linecap="square"/><path d="M372,218h0M149,315h0M58,336h0M80,79h0M326,347h0M252,228h0M275,121h0M141,102h0M382,347h0M301,216h0M41,245h0M197,240h0M83,98h0M61,199h0M118,292h0M174,212h0M314,234h0M117,406h0M120,204h0M83,130h0M155,278h0M313,287h0M250,217h0M392,399h0M367,236h0M27,26h0M340,273h0M199,158h0M92,80h0M119,241h0M331,77h0M123,115h0M94,293h0M179,241h0M284,143h0M243,110h0M171,195h0M125,357h0M43,203h0M310,261h0M357,291h0M386,282h0M60,222h0M122,310h0M250,127h0M107,330h0M241,278h0M136,79h0M67,121h0M85,264h0M211,248h0M30,195h0M351,111h0M294,109h0M350,142h0M330,219h0M280,71h0M393,160h0M389,268h0M264,147h0M224,130h0M55,363h0M351,170h0M376,49h0M111,46h0M280,146h0M254,341h0M114,416h0M25,277h0M109,236h0M376,282h0M130,143h0M314,218h0M316,270h0M161,212h0M181,116h0M80,158h0M333,147h0M84,75h0M51,330h0M252,160h0M269,248h0M81,171h0M295,105h0M135,216h0M408,208h0M84,84h0M260,102h0M166,387h0M162,210h0M358,124h0M107,420h0M38,26h0M257,87h0M294,97h0M237,256h0M234,371h0M117,74h0M145,400h0M136,335h0M42,167h0M60,326h0M109,106h0M91,51h0M170,53h0" stroke="#5b8fe3" stroke-width="5.5" stroke-linecap="square"/><path d="M255,408h0M32,47h0M93,83h0M274,353h0M357,28h0M45,375h0M365,43h0M134,282h0M358,300h0M105,337h0M40,404h0M80,23h0M154,405h0M402,20h0M402,270h0M350,394h0M144,108h0M49,205h0M153,63h0M84,362h0M280,322h0M90,176h0M182,222h0M373,166h0M34,285h0M82,233h0M144,79h0M159,157h0M327,30h0M107,153h0M60,113h0M184,329h0M99,60h0M339,124h0M68,320h0M78,285h0M394,289h0M56,81h0M155,105h0M188,212h0M19,87h0M93,161h0M235,81h0M149,312h0M66,223h0M311,54h0M203,260h0M239,166h0M78,116h0M93,305h0M57,343h0M213,410h0M405,34h0M16,399h0M163,222h0M401,148h0M305,374h0M186,213h0M153,395h0M195,218h0M271,126h0M277,330h0M65,129h0M33,89h0M243,407h0M120,364h0M92,402h0M179,210h0M67,76h0M241,247h0M357,60h0M100,181h0M402,110h0M324,117h0M391,259h0M337,387h0M277,406h0M277,211h0M338,369h0M224,284h0M336,344h0M69,116h0M326,287h0M178,94h0M50,281h0M115,80h0M366,188h0M63,146h0M233,219h0M68,367h0M305,301h0M336,160h0M317,23h0M338,160h0M376,116h0M148,130h0M394,217h0M126,58h0M237,141h0M289,268h0M396,46h0M83,103h0M144,301h0M211,201h0M273,212h0" stroke="#8c564b" stroke-width="5.5" stroke-linecap="square"/></svg>
<path d="M337.70,15.40H342.20V19.90Z M342.20,71.30V75.80H337.70Z" fill="#fff"/>
<rect x="280.5" y="13.5" width="63.0" height="64.0" fill="none" stroke="#4a4a4a" stroke-width="1"/>
<text x="378.55" y="11.60" font-size="6.97" text-anchor="middle" fill="#1a1a1a" stroke="#1a1a1a" stroke-width="0.12" textLength="37.81" lengthAdjust="spacingAndGlyphs">CellCharter</text>
<svg x="348.85" y="15.90" width="59.3" height="59.4" viewBox="12.5 19.7 402.1 402.8" preserveAspectRatio="none"><path d="M-20,-20H460V460H-20Z" fill="#8c564b"/><path d="M150,-20C179,-30 296,-35 335,-20C374,-5 371,45 382,70C393,95 389,102 402,132C415,162 463,222 460,250C457,278 398,310 382,302C366,294 370,229 362,202C354,175 345,159 332,142C319,125 302,115 282,102C262,89 232,72 212,62C192,52 172,56 162,42C152,28 121,-10 150,-20Z" fill="#3ca63c"/><path d="M280,40C283,34 323,49 340,58C357,67 372,78 382,92C392,106 400,129 402,142C404,155 399,174 392,172C385,170 374,145 362,132C350,119 336,107 322,92C308,77 277,46 280,40Z" fill="#f07d22"/><path d="M303,-20 L460,-20 L460,101Z" fill="#d8312f"/><path d="M380,258 L460,258 L460,302 L380,302Z" fill="#5ccfd6"/><path d="M282,460C254,449 287,415 295,395C303,375 318,356 330,340C342,324 348,308 370,300C392,292 445,263 460,290C475,317 490,432 460,460C430,488 310,471 282,460Z" fill="#d8312f"/><path d="M380,340 L460,340 L460,400 L385,400Z" fill="#5ccfd6"/><path d="M-20,-20 L118,-20 L118,110 L-20,110Z" fill="#5ccfd6"/><path d="M-20,-20 L48,-20 L48,165 L-20,165Z" fill="#5ccfd6"/><path d="M45,-20C50,-48 71,-48 76,-20C81,8 78,119 76,150C74,181 67,165 62,165C57,165 49,181 46,150C43,119 40,8 45,-20Z" fill="#3a7ab8"/><path d="M-20,150C-7,144 39,165 60,165C81,165 90,158 105,148C120,138 136,112 150,102C164,92 177,87 192,86C207,85 225,89 242,95C259,101 279,110 292,122C305,134 315,152 322,168C329,184 335,211 334,220C333,229 322,230 316,222C310,214 309,185 300,172C291,159 277,149 262,142C247,135 228,130 212,130C196,130 178,135 165,142C152,149 147,161 135,170C123,179 121,191 95,196C69,201 -1,210 -20,202C-39,194 -33,156 -20,150Z" fill="#e27ad0"/><path d="M140,182C143,168 148,154 160,145C172,136 193,131 210,130C227,129 247,133 262,140C277,147 292,158 302,172C312,186 317,200 320,222C323,244 323,284 320,302C317,320 312,333 300,330C288,327 268,293 250,282C232,271 207,264 190,262C173,260 158,277 150,272C142,267 142,247 140,232C138,217 137,196 140,182Z" fill="#bcbd2e"/><path d="M150,272C157,262 181,252 200,252C219,252 243,263 262,270C281,277 304,280 312,292C320,304 313,327 310,342C307,357 298,362 292,382C286,402 291,447 272,460C253,473 197,476 180,460C163,444 175,387 172,362C169,337 164,327 160,312C156,297 143,282 150,272Z" fill="#5b8fe3"/><path d="M-20,200 L132,200 L140,262 L120,300 L90,332 L-20,332Z" fill="#808080"/><path d="M-20,330C-8,300 31,282 50,282C69,282 84,302 92,332C100,362 115,439 96,460C77,481 -1,482 -20,460C-39,438 -32,360 -20,330Z" fill="#9565c8"/><path d="M90,332C95,305 110,304 120,296C130,288 142,282 150,286C158,290 162,293 166,322C170,351 185,437 172,460C159,483 104,481 90,460C76,439 85,359 90,332Z" fill="#e8a23c"/><path d="M161,337a13,16 0 1,0 26,0a13,16 0 1,0 -26,0Z" fill="#e27ad0"/></svg>
<path d="M404.15,15.40H408.65V19.90Z M408.65,71.30V75.80H404.15Z" fill="#fff"/>
<rect x="347.5" y="13.5" width="62.0" height="64.0" fill="none" stroke="#4a4a4a" stroke-width="1"/>
<text x="445.00" y="11.60" font-size="6.97" text-anchor="middle" fill="#1a1a1a" stroke="#1a1a1a" stroke-width="0.12" textLength="17.28" lengthAdjust="spacingAndGlyphs">MISO</text>
<svg x="415.30" y="15.90" width="59.3" height="59.4" viewBox="15.6 19.7 402.1 402.8" preserveAspectRatio="none"><path d="M-20,-20H460V460H-20Z" fill="#e48436"/><path d="M280,100C280,87 313,108 330,120C347,132 358,148 380,170C402,192 447,202 460,250C473,298 482,425 460,460C438,495 352,487 330,460C308,433 330,343 330,300C330,257 338,233 330,200C322,167 280,113 280,100Z" fill="#c08060"/><path d="M110,60C118,47 172,40 200,40C228,40 264,48 280,60C296,72 305,109 295,115C285,121 244,97 220,98C196,99 168,126 150,120C132,114 102,73 110,60Z" fill="#b4764e"/><path d="M353,-20 L460,-20 L460,114Z" fill="#8a8a8a"/><path d="M-20,-20 L120,-20 L120,140 L-20,160Z" fill="#e8862a"/><path d="M44,-20C49,-48 71,-48 76,-20C81,8 78,118 76,150C74,182 67,170 62,170C57,170 49,182 46,150C43,118 39,8 44,-20Z" fill="#7a8a98"/><path d="M-20,168C-7,166 40,181 60,180C80,179 87,170 100,160C113,150 125,131 140,120C155,109 173,96 190,92C207,88 227,91 242,96C257,101 270,111 282,122C294,133 309,154 312,162C315,170 307,175 300,172C293,169 283,149 270,142C257,135 237,128 220,128C203,128 183,134 170,140C157,146 150,157 140,165C130,173 137,185 110,190C83,195 2,199 -20,195C-42,191 -33,170 -20,168Z" fill="#d880c8"/><path d="M140,172C146,157 157,147 170,140C183,133 203,130 220,130C237,130 255,132 270,140C285,148 301,163 310,180C319,197 323,217 325,240C327,263 324,297 320,320C316,343 305,357 300,380C295,403 320,447 290,460C260,473 150,478 120,460C90,442 108,378 110,350C112,322 126,310 130,290C134,270 133,250 135,230C137,210 134,187 140,172Z" fill="#5c92dc"/><path d="M-20,195 L130,195 L135,290 L115,340 L110,460 L-20,460Z" fill="#868686"/><path d="M130,180C131,161 142,158 145,175C148,192 151,261 150,280C149,299 141,307 138,290C135,273 129,199 130,180Z" fill="#c9c03a"/><path d="M95,330C97,322 103,322 105,330C107,338 107,372 105,380C103,388 97,388 95,380C93,372 93,338 95,330Z" fill="#e8902c"/><path d="M237,176h0M222,231h0M372,136h0M158,171h0M94,170h0M369,198h0M376,181h0M89,177h0M41,168h0M136,384h0M255,302h0M414,47h0M237,141h0M90,396h0M320,329h0M414,356h0M366,120h0M166,33h0M69,111h0M287,409h0M44,202h0M41,403h0M301,249h0M130,96h0M175,122h0M21,397h0M147,61h0M74,77h0M168,113h0M310,121h0M400,369h0M379,414h0M415,194h0M210,311h0M371,312h0M238,190h0M318,291h0M240,402h0M34,188h0M31,221h0M44,207h0M35,181h0M124,182h0M209,420h0M162,154h0M245,353h0M166,372h0M232,55h0M150,279h0M30,161h0M337,35h0M313,154h0M108,36h0M186,30h0M313,342h0M369,339h0M356,406h0M296,380h0M51,375h0M327,361h0M51,272h0M398,195h0M248,115h0M389,261h0M399,395h0M244,346h0M369,137h0M164,59h0M58,106h0M223,22h0M376,132h0M365,393h0M248,353h0M284,114h0M23,152h0M113,375h0M177,198h0M411,107h0M265,125h0M271,122h0M187,385h0M301,81h0M304,156h0M109,71h0M393,389h0M245,84h0M361,260h0M326,412h0M223,181h0M18,264h0M213,365h0M17,267h0M196,246h0M403,286h0M131,330h0M351,282h0M51,272h0M389,131h0M368,286h0M296,47h0M218,264h0M412,237h0M222,286h0M171,102h0M151,183h0M107,264h0M105,346h0M342,300h0M253,69h0M163,91h0M396,350h0M347,309h0M417,333h0M38,177h0M352,138h0M300,78h0M89,187h0M210,244h0M71,96h0M361,107h0M137,265h0M207,71h0M34,240h0M58,399h0M229,134h0M266,132h0M382,35h0M298,88h0M276,147h0M184,369h0M274,78h0M104,346h0M34,67h0M84,164h0M118,39h0M338,242h0M346,37h0M410,306h0M142,128h0M403,403h0M328,47h0M193,348h0M46,209h0M155,227h0M116,210h0M256,417h0M70,304h0M40,25h0M327,149h0M134,390h0M244,328h0M363,130h0M332,287h0M100,171h0M201,278h0M95,218h0M395,92h0M295,376h0M403,195h0M210,43h0M210,177h0M222,101h0M96,77h0M271,206h0M414,81h0M161,407h0M87,23h0M256,195h0M172,131h0M361,111h0M336,76h0M346,68h0M169,267h0M142,111h0M68,233h0M125,92h0M215,27h0M331,297h0M343,388h0M151,375h0M42,230h0M404,420h0M183,74h0M300,199h0M408,23h0M107,227h0M291,254h0M71,263h0M52,99h0M358,228h0M198,354h0M99,258h0M339,208h0M288,324h0M202,346h0M393,321h0M385,404h0M227,353h0M336,331h0M164,95h0M215,403h0M42,26h0M395,82h0M298,364h0M321,85h0M300,237h0M72,205h0M130,276h0M206,115h0M66,260h0M256,121h0M364,248h0M207,34h0M89,96h0M367,106h0M104,275h0M278,192h0M180,394h0M125,356h0M192,320h0M129,316h0M49,387h0M265,365h0M87,235h0M208,289h0M326,133h0M236,143h0M335,391h0M99,53h0M64,215h0M222,114h0M132,349h0M83,333h0M387,381h0M71,396h0M229,368h0M395,381h0M107,24h0M297,239h0M224,372h0M67,365h0M339,197h0M120,202h0M258,355h0M244,80h0M326,361h0" stroke="#808080" stroke-width="5.5" stroke-linecap="square"/><path d="M201,312h0M386,31h0M22,218h0M99,406h0M174,413h0M75,392h0M207,225h0M298,199h0M91,303h0M293,347h0M306,34h0M324,215h0M34,248h0M50,170h0M154,158h0M214,136h0M238,227h0M77,276h0M229,218h0M110,83h0M223,409h0M184,359h0M192,29h0M399,89h0M212,380h0M137,134h0M338,46h0M24,211h0M142,346h0M334,312h0M406,303h0M201,155h0M45,300h0M315,74h0M239,352h0M69,187h0M42,147h0M58,79h0M240,106h0M154,200h0M236,193h0M212,63h0M24,100h0M354,52h0M198,102h0M17,242h0M411,262h0M54,51h0M138,141h0M93,162h0M302,340h0M136,348h0M137,364h0M324,147h0M86,111h0M326,415h0M306,343h0M140,198h0M321,362h0M382,301h0M368,297h0M88,97h0M185,129h0M316,118h0M305,184h0M172,189h0M77,153h0M84,320h0M384,277h0M361,271h0M316,325h0M117,93h0M386,352h0M229,213h0M179,309h0M156,308h0M158,54h0M138,234h0M228,78h0M37,60h0M334,91h0M366,105h0M318,330h0M408,175h0M70,53h0M36,95h0M313,209h0M78,362h0M79,417h0M113,158h0M244,226h0M188,299h0M342,87h0M195,172h0M382,287h0M364,155h0M208,222h0M93,56h0M223,258h0M60,23h0M267,414h0M167,403h0M135,161h0M403,235h0M322,65h0M201,320h0M336,191h0M20,366h0M321,225h0M184,228h0M410,254h0M383,192h0M216,36h0M295,304h0M91,144h0M297,242h0M282,370h0M102,418h0M214,67h0M76,111h0M386,57h0M24,45h0M342,85h0M160,193h0M112,278h0M73,84h0M283,216h0M240,363h0M337,411h0M80,36h0M39,63h0M320,31h0M320,171h0M339,377h0M319,322h0M136,149h0M357,279h0M349,152h0M386,243h0M235,342h0" stroke="#f07d22" stroke-width="5.5" stroke-linecap="square"/><path d="M241,213h0M153,274h0M281,255h0M308,358h0M287,216h0M208,418h0M147,168h0M190,314h0M329,189h0M177,218h0M192,341h0M160,186h0M165,197h0M215,153h0M226,161h0M330,388h0M306,397h0M242,183h0M245,205h0M153,176h0M270,321h0M153,372h0M287,297h0M231,377h0M229,156h0M229,165h0M222,183h0M317,364h0M250,388h0M195,216h0M147,319h0M260,383h0M208,266h0M229,152h0M203,284h0M167,302h0M203,175h0M323,315h0M144,216h0M197,366h0M284,340h0M255,140h0M203,354h0M232,315h0M224,245h0M178,131h0M165,260h0M243,282h0M314,189h0M311,350h0M323,259h0M184,183h0M247,336h0M186,169h0M202,272h0M144,243h0M202,217h0M232,212h0M320,148h0M158,227h0M298,307h0M315,233h0M153,293h0M297,344h0M211,222h0M187,196h0M243,182h0M320,327h0M189,377h0M304,262h0M191,326h0" stroke="#5ccfd6" stroke-width="5.5" stroke-linecap="square"/></svg>
<path d="M470.60,15.40H475.10V19.90Z M475.10,71.30V75.80H470.60Z" fill="#fff"/>
<rect x="413.5" y="13.5" width="63.0" height="64.0" fill="none" stroke="#4a4a4a" stroke-width="1"/>
<text x="46.30" y="88.70" font-size="6.97" text-anchor="middle" fill="#1a1a1a" stroke="#1a1a1a" stroke-width="0.12" textLength="37.13" lengthAdjust="spacingAndGlyphs">H3K27me3</text>
<svg x="16.60" y="92.90" width="59.3" height="59.4" viewBox="17.6 19.7 402.1 402.8" preserveAspectRatio="none"><path d="M-20,-20H460V460H-20Z" fill="#977a72"/><path d="M120,-20C172,-37 403,-60 460,-20C517,20 473,187 460,220C447,253 402,198 380,180C358,162 352,128 330,110C308,92 280,75 250,70C220,65 172,95 150,80C128,65 68,-3 120,-20Z" fill="#b47c5e"/><path d="M300,-20C313,-43 433,-57 460,-20C487,17 473,177 460,200C447,223 407,157 380,120C353,83 287,3 300,-20Z" fill="#d48246"/><path d="M-20,-20 L45,-20 L45,150 L-20,150Z" fill="#e3862e"/><path d="M80,-20 L106,-20 L106,150 L80,150Z" fill="#e3862e"/><path d="M-20,158C-3,154 57,168 80,165C103,162 107,151 120,140C133,129 147,108 160,100C173,92 183,88 200,90C217,92 243,102 260,110C277,118 290,128 300,140C310,152 321,173 322,182C323,191 312,197 305,192C298,187 292,162 280,152C268,142 247,135 230,132C213,129 193,131 180,136C167,141 160,152 150,160C140,168 148,181 120,186C92,191 3,197 -20,192C-43,187 -37,162 -20,158Z" fill="#c87ab4"/><path d="M145,180C149,163 158,149 170,140C182,131 202,125 220,125C238,125 264,131 280,140C296,149 307,163 315,180C323,197 328,218 330,240C332,262 330,288 325,310C320,332 307,345 300,370C293,395 308,445 285,460C262,475 186,477 165,460C144,443 162,387 160,360C158,333 152,320 150,300C148,280 146,260 145,240C144,220 141,197 145,180Z" fill="#6689d2"/><path d="M128,176C131,164 146,149 150,170C154,191 152,273 150,300C148,327 144,330 140,330C136,330 126,315 125,300C124,285 132,261 132,240C132,219 125,188 128,176Z" fill="#d8a03c"/><path d="M95,320C100,308 120,308 125,320C130,332 130,378 125,390C120,402 100,402 95,390C90,378 90,332 95,320Z" fill="#e3962e"/><path d="M164,336a12,14 0 1,0 24,0a12,14 0 1,0 -24,0Z" fill="#c87ab4"/><path d="M183,337h0M39,95h0M92,55h0M248,105h0M418,350h0M305,180h0M20,229h0M306,398h0M320,210h0M265,190h0M305,234h0M253,301h0M134,43h0M271,307h0M206,232h0M352,294h0M417,96h0M274,238h0M79,355h0M29,254h0M410,360h0M272,311h0M187,336h0M202,378h0M310,406h0M223,388h0M351,351h0M28,227h0M268,60h0M209,330h0M154,286h0M274,416h0M415,328h0M106,32h0M50,377h0M109,291h0M320,362h0M46,238h0M381,231h0M392,167h0M376,283h0M318,379h0M228,205h0M328,282h0M118,307h0M320,21h0M332,43h0M156,351h0M377,279h0M297,214h0M173,72h0M415,376h0M177,228h0M214,27h0M57,315h0M132,311h0M96,212h0M237,303h0M137,406h0M275,65h0M176,106h0M247,282h0M188,105h0M36,80h0M269,305h0M227,298h0M361,225h0M138,213h0M228,151h0M295,52h0M64,59h0M393,106h0M313,117h0M338,24h0M83,303h0M268,109h0M72,331h0M163,369h0M165,233h0M266,252h0M227,54h0M187,44h0M244,294h0M317,165h0M338,297h0M78,369h0M88,63h0M247,193h0M50,28h0M346,377h0M412,381h0M257,198h0M94,237h0M189,206h0M135,229h0M183,101h0M228,143h0M127,68h0M19,80h0M322,227h0M334,170h0M116,223h0M377,350h0M334,20h0M395,25h0M100,74h0M93,121h0M287,84h0M205,255h0M202,182h0M417,358h0M147,144h0M292,322h0M193,363h0M214,86h0M90,369h0M386,342h0M264,118h0M84,238h0M166,170h0M347,126h0M356,103h0M201,20h0M261,392h0M28,102h0M253,338h0M74,234h0M164,116h0M224,208h0M205,86h0M229,389h0M342,209h0M30,339h0M353,148h0M274,74h0M416,246h0M185,283h0M348,262h0M53,24h0M348,176h0M171,130h0M236,48h0M219,212h0M98,419h0M310,104h0M271,271h0M343,196h0M232,144h0M124,309h0M387,204h0M312,130h0M34,153h0M280,337h0M235,56h0M168,191h0M92,63h0M237,81h0M225,69h0M168,88h0M395,385h0M206,228h0M209,349h0M209,184h0M318,291h0M64,110h0M220,61h0M251,270h0M263,49h0M404,24h0M237,373h0M46,183h0M163,215h0M23,186h0M266,112h0M60,329h0M51,98h0M179,236h0M42,206h0M222,103h0M83,165h0M380,29h0M323,52h0M120,43h0M174,247h0M280,77h0M225,326h0M298,397h0M342,152h0M194,281h0M396,345h0M96,346h0M315,326h0M253,54h0M401,138h0M224,317h0M162,59h0M29,157h0M300,65h0M148,279h0M112,166h0M175,167h0M350,394h0M183,75h0M229,271h0M192,173h0M237,357h0M24,159h0M128,408h0M61,50h0M313,116h0M281,63h0M215,129h0M304,68h0M119,339h0M178,216h0M24,69h0M394,358h0M115,226h0M313,162h0M193,224h0M324,347h0M142,66h0M386,125h0M282,30h0M297,199h0M370,273h0M162,143h0M374,263h0M273,322h0M331,185h0M73,373h0M70,262h0M242,96h0M347,389h0M282,25h0M312,192h0M417,236h0M117,292h0M180,389h0M326,320h0M171,235h0M26,149h0M94,112h0M312,324h0M262,395h0M279,100h0" stroke="#d83a30" stroke-width="5.5" stroke-linecap="square"/><path d="M124,180h0M407,378h0M242,388h0M273,76h0M202,280h0M77,107h0M37,44h0M299,403h0M401,329h0M370,71h0M374,140h0M247,133h0M320,385h0M359,323h0M408,257h0M164,254h0M245,202h0M86,197h0M365,135h0M127,193h0M220,182h0M338,405h0M137,351h0M346,274h0M112,290h0M73,127h0M19,161h0M238,327h0M150,83h0M243,361h0M176,57h0M24,406h0M360,286h0M212,56h0M281,271h0M306,152h0M334,385h0M401,228h0M102,359h0M85,238h0M219,32h0M309,256h0M315,416h0M34,346h0M146,326h0M92,122h0M130,307h0M326,379h0M174,69h0M417,214h0M300,83h0M319,279h0M277,377h0M97,168h0M78,103h0M143,320h0M259,39h0M316,397h0M260,172h0M113,416h0M57,393h0M297,285h0M130,371h0M98,398h0M82,264h0M217,358h0M121,365h0M228,360h0M217,150h0M272,265h0M375,398h0M23,268h0M295,287h0M288,189h0M251,134h0M148,238h0M85,414h0M64,275h0M151,36h0M331,346h0M117,139h0M350,293h0M72,42h0M321,343h0M44,80h0M265,95h0M380,297h0M91,262h0M322,105h0M95,210h0M293,97h0M414,76h0M101,236h0M390,117h0M293,129h0M167,144h0M353,196h0M46,140h0M188,224h0M229,229h0M162,420h0M209,251h0M261,228h0M398,408h0M33,185h0M194,188h0M56,208h0M94,399h0M384,193h0M330,154h0M30,338h0M217,316h0M225,167h0M403,277h0M393,79h0M302,266h0M75,412h0M169,246h0M243,105h0M126,72h0M214,56h0M272,249h0M367,52h0M119,183h0M97,177h0M346,158h0M134,149h0M74,155h0M315,244h0M322,257h0M252,259h0M143,57h0M202,112h0M96,221h0M324,348h0M77,160h0M279,45h0M19,330h0M97,124h0M45,79h0M96,339h0M67,263h0M191,79h0M286,220h0M382,130h0M234,283h0M203,407h0M384,221h0M57,410h0M61,166h0M385,49h0M139,411h0M94,47h0M173,406h0M209,256h0M163,313h0M404,26h0M411,186h0M247,411h0M131,287h0M309,159h0M30,278h0M132,354h0M348,232h0M216,323h0M366,254h0M320,311h0M229,25h0M299,23h0M382,217h0M149,110h0M24,307h0M119,69h0M85,307h0M68,266h0M275,100h0" stroke="#f07d22" stroke-width="5.5" stroke-linecap="square"/><path d="M329,327h0M282,247h0M190,333h0M215,325h0M126,347h0M333,213h0M61,277h0M211,276h0M184,336h0M43,129h0M171,211h0M237,328h0M286,119h0M59,141h0M311,295h0M195,350h0M155,66h0M360,402h0M268,252h0M39,250h0M395,187h0M414,109h0M415,275h0M380,69h0M396,366h0M171,169h0M374,156h0M234,383h0M91,364h0M204,384h0M130,372h0M137,32h0M194,337h0M262,281h0M36,173h0M49,174h0M120,32h0M142,324h0M214,24h0M34,232h0M206,333h0M29,111h0M120,175h0M359,196h0M286,130h0M318,43h0M266,247h0M239,291h0M198,212h0M238,187h0M56,393h0M53,176h0M291,275h0M254,412h0M411,82h0M270,238h0M89,80h0M93,247h0M26,348h0M405,336h0M135,64h0M40,378h0M83,112h0M161,325h0M59,309h0M45,340h0M219,313h0M180,130h0M409,104h0M130,219h0M203,379h0M341,152h0M392,356h0M212,165h0M151,193h0M102,363h0M167,156h0M312,295h0M60,413h0M336,98h0M374,305h0M220,21h0M309,133h0M225,318h0M408,102h0M122,100h0M130,55h0M231,348h0M290,350h0M193,412h0M72,63h0M34,72h0M234,33h0M90,269h0M249,153h0M27,250h0M134,327h0M312,138h0M215,293h0M390,112h0M20,71h0M111,296h0M281,145h0M196,239h0M330,278h0M316,144h0M183,100h0M110,202h0M166,95h0M146,95h0M197,129h0M172,408h0M90,47h0M339,415h0M212,202h0M95,25h0M216,330h0M210,401h0M22,311h0M110,168h0M324,200h0M298,338h0M83,115h0" stroke="#3ca63c" stroke-width="5.5" stroke-linecap="square"/><path d="M126,240h0M142,245h0M343,214h0M32,301h0M32,354h0M46,187h0M411,355h0M246,84h0M228,399h0M294,37h0M247,219h0M256,411h0M188,53h0M267,24h0M85,190h0M376,282h0M256,249h0M289,86h0M290,250h0M211,37h0M220,322h0M36,173h0M164,309h0M393,61h0M356,123h0M222,110h0M202,378h0M322,46h0M284,185h0M170,295h0M250,329h0M92,263h0M401,157h0M216,245h0M98,53h0M270,223h0M291,181h0M365,250h0M359,284h0M340,266h0M222,394h0M31,381h0M269,119h0M409,301h0M51,339h0M417,389h0M294,351h0M84,241h0M189,322h0M146,221h0M409,71h0M339,362h0M266,95h0M334,195h0M355,328h0M184,209h0M258,364h0M73,327h0M334,172h0M138,104h0M22,277h0M149,141h0M293,182h0M144,229h0M398,107h0M204,22h0M131,182h0M230,94h0M337,189h0M30,111h0M201,418h0M47,394h0M362,102h0M92,336h0M408,80h0M194,282h0M242,79h0M239,213h0M200,421h0M352,55h0M238,309h0M51,336h0M335,357h0M177,224h0M403,339h0M333,226h0M170,378h0M35,383h0M256,392h0M332,274h0M36,173h0M181,188h0M385,416h0M188,77h0M28,174h0M292,288h0M371,367h0M399,292h0M50,252h0M332,137h0M172,240h0M186,298h0M386,422h0M276,60h0M176,357h0M349,46h0M410,31h0M104,299h0M417,319h0M341,74h0M198,272h0M158,257h0M345,136h0M163,163h0M402,326h0M136,230h0M191,354h0M388,331h0M367,351h0M416,24h0M199,306h0M277,419h0M207,55h0" stroke="#808080" stroke-width="5.5" stroke-linecap="square"/><path d="M283,49h0M333,296h0M197,336h0M404,367h0M371,190h0M359,238h0M101,317h0M418,311h0M267,151h0M57,180h0M217,411h0M199,313h0M133,126h0M330,204h0M172,247h0M323,254h0M205,35h0M334,86h0M57,366h0M247,24h0M359,271h0M234,151h0M114,127h0M195,240h0M148,363h0M208,322h0M139,377h0M335,383h0M330,171h0M22,118h0M338,50h0M131,352h0M139,114h0M146,417h0M56,163h0M357,88h0M367,143h0M301,352h0M265,111h0M357,83h0M302,309h0M283,408h0M181,400h0M87,152h0M132,298h0M148,251h0M134,200h0M117,24h0M278,91h0M41,70h0M386,234h0M393,345h0M92,349h0M226,182h0M364,356h0M352,384h0M322,293h0M375,359h0M126,350h0M162,146h0M273,341h0M31,260h0M73,233h0M22,367h0M142,296h0M112,239h0M385,258h0M201,143h0M37,143h0M193,146h0M132,273h0M399,369h0M283,421h0M377,367h0M111,280h0M199,249h0M337,291h0M369,114h0M145,32h0M381,262h0M408,273h0M414,296h0M95,313h0M387,293h0M191,383h0M52,145h0M210,112h0M125,307h0" stroke="#5b8fe3" stroke-width="5.5" stroke-linecap="square"/><path d="M161,71h0M302,251h0M226,372h0M321,235h0M396,96h0M31,349h0M379,408h0M380,30h0M377,396h0M146,39h0M390,360h0M203,394h0M244,105h0M386,321h0M48,209h0M172,150h0M188,146h0M159,216h0M253,160h0M62,310h0M56,373h0M54,315h0M229,337h0M262,309h0M362,173h0M249,191h0M114,107h0M367,143h0M76,125h0M397,97h0M418,419h0M73,205h0M110,20h0M77,115h0M240,53h0M20,410h0M39,290h0M374,323h0M50,54h0M335,153h0M316,349h0M378,197h0M73,308h0M398,276h0M336,141h0M197,402h0M330,222h0M215,189h0M188,62h0M139,159h0M121,121h0M181,101h0" stroke="#5ccfd6" stroke-width="5.5" stroke-linecap="square"/></svg>
<path d="M71.90,92.40H76.40V96.90Z M76.40,148.30V152.80H71.90Z" fill="#fff"/>
<rect x="14.5" y="90.5" width="63.0" height="64.0" fill="none" stroke="#4a4a4a" stroke-width="1"/>
<text x="112.75" y="88.70" font-size="6.97" text-anchor="middle" fill="#1a1a1a" stroke="#1a1a1a" stroke-width="0.12" textLength="13.12" lengthAdjust="spacingAndGlyphs">SNF</text>
<svg x="83.05" y="92.90" width="59.3" height="59.4" viewBox="13.9 19.7 402.1 402.8" preserveAspectRatio="none"><path d="M-20,-20H460V460H-20Z" fill="#4e9c42"/><path d="M240,-20C252,-32 333,-33 360,-20C387,-7 383,40 400,60C417,80 450,75 460,100C470,125 472,202 460,210C448,218 406,171 385,150C364,129 352,101 335,85C318,69 301,70 285,52C269,34 228,-8 240,-20Z" fill="#e6802c"/><path d="M294,-20 L460,-20 L460,99Z" fill="#d84030"/><path d="M396,120 L460,120 L460,460 L396,460Z" fill="#d84030"/><path d="M330,460C313,449 348,415 360,395C372,375 383,349 400,340C417,331 450,320 460,340C470,360 482,440 460,460C438,480 347,471 330,460Z" fill="#d84030"/><path d="M45,-20C51,-45 76,-45 82,-20C88,5 84,99 82,130C80,161 76,162 72,168C68,174 59,174 55,168C51,162 48,161 46,130C44,99 39,5 45,-20Z" fill="#d53c2c"/><path d="M-20,150C-7,144 39,165 60,165C81,165 90,158 105,148C120,138 136,112 150,102C164,92 177,87 192,86C207,85 225,89 242,95C259,101 279,110 292,122C305,134 315,152 322,168C329,184 335,211 334,220C333,229 322,230 316,222C310,214 309,185 300,172C291,159 277,149 262,142C247,135 228,130 212,130C196,130 178,135 165,142C152,149 147,161 135,170C123,179 121,191 95,196C69,201 -1,210 -20,202C-39,194 -33,156 -20,150Z" fill="#e27ad0"/><path d="M142,170C145,155 150,153 160,146C170,139 188,133 205,130C222,127 244,127 260,130C276,133 290,140 300,150C310,160 317,172 322,188C327,204 329,224 330,245C331,266 330,293 326,315C322,337 312,351 306,375C300,399 313,446 290,460C267,474 191,477 170,460C149,443 166,387 162,360C158,333 152,321 148,300C144,279 141,257 140,235C139,213 139,185 142,170Z" fill="#6189db"/><path d="M-20,200 L130,200 L140,285 L110,298 L80,310 L-20,300Z" fill="#8a7c7e"/><path d="M-20,300 L72,300 L96,332 L96,460 L-20,460Z" fill="#9065c4"/><path d="M92,335C96,309 109,310 118,302C127,294 137,287 146,290C155,293 164,303 170,318C176,333 180,354 184,378C188,402 207,446 192,460C177,474 109,481 92,460C75,439 88,361 92,335Z" fill="#e39b3a"/><path d="M335,232C338,224 348,217 352,222C356,227 360,247 360,262C360,277 357,297 354,312C351,327 344,349 340,350C336,351 331,333 330,320C329,307 333,287 334,272C335,257 332,240 335,232Z" fill="#6cc4c0"/><path d="M132,178C134,169 144,159 147,168C150,177 150,211 151,230C152,249 154,270 153,282C152,294 148,305 146,302C144,299 140,279 139,265C138,251 138,234 137,220C136,206 130,187 132,178Z" fill="#c9b23a"/><path d="M161,337a13,16 0 1,0 26,0a13,16 0 1,0 -26,0Z" fill="#e07ad0"/><path d="M55,195h0M181,145h0M78,213h0M215,111h0M286,206h0M239,42h0M395,42h0M304,52h0M50,200h0M335,222h0M334,238h0M395,207h0M291,347h0M181,364h0M116,249h0M327,68h0M360,421h0M405,320h0M185,299h0M359,323h0M217,200h0M130,112h0M54,238h0M156,152h0M62,84h0M99,362h0M90,354h0M206,353h0M120,297h0M21,267h0M229,73h0M403,371h0M152,73h0M24,108h0M175,400h0M326,324h0M206,46h0M170,83h0M222,239h0M17,401h0M334,234h0M149,268h0M384,29h0M205,29h0M286,22h0M285,420h0M126,195h0M94,230h0M243,173h0M71,167h0M336,23h0M415,54h0M193,226h0M154,322h0M259,160h0M126,359h0M233,158h0M416,26h0M224,187h0M70,377h0M410,233h0M257,376h0M132,206h0M406,280h0M160,143h0M330,121h0M140,34h0M74,29h0M167,372h0M271,289h0M378,361h0M211,355h0M75,239h0M362,182h0M75,208h0M348,189h0M404,163h0M94,119h0M308,220h0M278,201h0M393,214h0M144,335h0M142,201h0M86,246h0M98,368h0M245,87h0M253,47h0M377,151h0M239,293h0M320,31h0M191,391h0M262,335h0M67,197h0M219,301h0M133,181h0M242,329h0M394,150h0M244,203h0M414,215h0M204,391h0M170,86h0M381,219h0M102,367h0M271,280h0M21,365h0M87,247h0M250,27h0M328,305h0M91,123h0M153,199h0M193,73h0M212,338h0M32,68h0M148,66h0M36,293h0M139,394h0M281,58h0M65,223h0M234,349h0M239,43h0M290,173h0M195,306h0M194,154h0M257,144h0M100,348h0M111,179h0M410,101h0M361,195h0M405,285h0M123,90h0M91,348h0M147,203h0M316,152h0M254,306h0M232,264h0M108,180h0M191,378h0M223,334h0M317,109h0M321,387h0M316,85h0M110,148h0M285,21h0M313,390h0M125,27h0M149,30h0M75,64h0M265,239h0M114,384h0M117,203h0M405,74h0M407,343h0M411,200h0M93,327h0M272,95h0M385,171h0M82,112h0M198,55h0M261,254h0M180,222h0M335,324h0M318,257h0M290,217h0M414,247h0M102,44h0M286,275h0M395,193h0M379,386h0M336,247h0M38,285h0M224,370h0M149,244h0M360,176h0M372,154h0M140,103h0M177,151h0M118,406h0M415,355h0M232,403h0M94,132h0M127,192h0M331,284h0M23,38h0M412,249h0M386,244h0M37,334h0M283,156h0M266,48h0M337,53h0M233,65h0M121,34h0M153,245h0M177,218h0M389,62h0M311,328h0M317,360h0M121,30h0M57,340h0M187,294h0M387,401h0M93,114h0M415,196h0M71,268h0M72,53h0M349,135h0M155,366h0M34,152h0M164,57h0M211,345h0M269,182h0M214,414h0M229,66h0M371,112h0M114,100h0M330,122h0M100,240h0M238,365h0M389,39h0M294,359h0M259,82h0M315,137h0M103,291h0M340,327h0M375,320h0M395,265h0M310,294h0M224,133h0M125,155h0M292,377h0M91,55h0M253,378h0M166,88h0M355,185h0M71,172h0M318,92h0M112,264h0M273,55h0M379,420h0M396,214h0M162,37h0M80,45h0M111,73h0M53,229h0M160,242h0M130,132h0M371,390h0" stroke="#d83a30" stroke-width="5.5" stroke-linecap="square"/></svg>
<path d="M138.35,92.40H142.85V96.90Z M142.85,148.30V152.80H138.35Z" fill="#fff"/>
<rect x="81.5" y="90.5" width="63.0" height="64.0" fill="none" stroke="#4a4a4a" stroke-width="1"/>
<text x="179.20" y="88.70" font-size="6.97" text-anchor="middle" fill="#1a1a1a" stroke="#1a1a1a" stroke-width="0.12" textLength="18.74" lengthAdjust="spacingAndGlyphs">scMM</text>
<svg x="149.50" y="92.90" width="59.3" height="59.4" viewBox="17.0 19.7 402.1 402.8" preserveAspectRatio="none"><path d="M-20,-20H460V460H-20Z" fill="#d27a3a"/><path d="M250,-20C258,-48 345,-30 380,-20C415,-10 447,-13 460,40C473,93 473,265 460,300C447,335 402,275 380,250C358,225 352,195 330,150C308,105 242,8 250,-20Z" fill="#9a9242"/><path d="M310,120C313,108 345,128 360,150C375,172 393,217 400,250C407,283 407,337 400,350C393,363 370,352 360,330C350,308 348,255 340,220C332,185 307,132 310,120Z" fill="#7c9a42"/><path d="M48,-20C53,-48 76,-47 82,-20C88,7 84,109 82,140C80,171 75,163 70,165C65,167 56,181 52,150C48,119 43,8 48,-20Z" fill="#5080c0"/><path d="M-20,160C-5,156 48,177 70,175C92,173 97,162 110,150C123,138 137,110 150,100C163,90 175,90 190,90C205,90 223,94 240,100C257,106 278,115 290,125C302,135 311,155 312,162C313,169 305,172 296,168C287,164 274,144 260,137C246,130 225,126 210,127C195,128 182,135 170,142C158,149 150,162 140,170C130,178 137,187 110,192C83,197 2,205 -20,200C-42,195 -35,164 -20,160Z" fill="#e070c8"/><path d="M-20,198 L130,198 L120,222 L-20,226Z" fill="#d05a38"/><path d="M135,180C141,164 152,153 165,145C178,137 198,131 215,130C232,129 254,132 270,140C286,148 301,163 310,180C319,197 323,217 325,240C327,263 324,297 320,320C316,343 305,357 300,380C295,403 322,447 290,460C258,473 142,477 110,460C78,443 98,387 100,360C102,333 115,320 120,300C125,280 128,260 130,240C132,220 129,196 135,180Z" fill="#9c9ca6"/><path d="M-20,222 L128,222 L120,300 L100,350 L110,460 L-20,460Z" fill="#7c78bc"/><path d="M100,300C108,273 135,287 150,300C165,313 182,353 190,380C198,407 215,447 200,460C185,473 117,487 100,460C83,433 92,327 100,300Z" fill="#c69248"/><path d="M164,338a12,16 0 1,0 24,0a12,16 0 1,0 -24,0Z" fill="#e070c8"/><path d="M385,25 L460,25 L460,60 L395,60Z" fill="#5ccfd6"/><path d="M319,421h0M239,205h0M278,344h0M35,93h0M348,243h0M68,338h0M184,293h0M90,270h0M267,300h0M31,267h0M322,49h0M280,394h0M418,364h0M247,135h0M308,176h0M279,111h0M95,115h0M125,178h0M268,146h0M26,229h0M137,146h0M319,414h0M38,393h0M131,196h0M354,348h0M146,173h0M248,235h0M398,412h0M153,330h0M104,155h0M46,95h0M207,50h0M67,77h0M396,175h0M280,173h0M170,305h0M134,37h0M83,140h0M256,346h0M44,280h0M67,189h0M141,181h0M260,141h0M363,392h0M61,265h0M261,278h0M378,179h0M142,334h0M375,148h0M20,315h0M121,362h0M406,269h0M183,151h0M151,404h0M415,114h0M396,133h0M229,190h0M379,348h0M162,132h0M235,69h0M406,31h0M342,154h0M377,268h0M362,311h0M238,189h0M211,173h0M368,278h0M223,327h0M66,342h0M69,188h0M230,417h0M45,96h0M210,225h0M349,117h0M321,232h0M194,192h0M249,323h0M88,336h0M267,419h0M335,304h0M302,181h0M329,275h0M277,325h0M410,119h0M273,416h0M294,292h0M98,49h0M177,390h0M310,405h0M34,222h0M339,261h0M249,359h0M246,316h0M355,354h0M107,219h0M18,392h0M67,69h0M90,372h0M90,172h0M202,229h0M312,326h0M72,299h0M75,314h0M197,292h0M372,118h0M107,247h0M141,215h0M256,169h0M319,240h0M316,290h0M266,257h0M79,46h0M416,229h0M363,128h0M163,359h0M236,175h0M130,331h0M350,214h0M198,191h0M92,276h0M387,303h0M50,381h0M88,369h0M415,206h0M295,100h0M314,59h0M50,37h0M362,385h0M182,103h0M392,420h0M325,165h0M332,335h0M330,383h0M79,212h0M36,304h0M349,63h0M264,243h0M140,270h0M63,305h0M305,273h0M68,111h0M94,179h0M292,419h0M380,317h0M60,414h0M189,58h0M102,391h0M217,279h0M301,179h0M108,402h0M212,206h0M380,87h0M159,149h0M317,214h0M47,252h0M400,73h0M292,305h0M97,357h0M145,323h0M222,413h0M343,200h0M48,20h0M362,20h0M382,56h0M108,83h0M309,244h0M129,268h0M116,414h0M226,376h0M409,347h0M192,151h0M353,100h0M32,379h0M219,327h0M102,387h0M71,291h0M187,313h0M233,68h0M133,164h0M20,417h0M392,403h0M72,234h0M306,373h0M353,138h0M389,99h0M414,86h0M264,28h0M99,146h0M205,84h0M56,417h0M46,114h0M102,92h0M108,58h0M167,192h0M55,212h0M186,134h0M99,358h0M392,160h0M401,257h0M158,230h0M48,324h0M378,28h0M378,112h0M76,234h0M41,181h0M175,134h0M43,145h0M158,103h0M168,140h0M369,44h0M29,183h0M26,388h0M318,139h0M323,162h0M373,144h0M22,75h0M283,252h0M92,264h0M217,396h0M66,37h0M220,101h0M77,256h0M369,200h0M244,219h0M95,401h0M185,325h0M18,250h0M101,32h0M180,419h0M278,162h0M416,80h0M225,394h0M250,52h0M208,90h0M352,140h0M160,353h0M48,28h0M23,200h0M23,313h0M40,414h0M174,56h0M216,312h0M418,302h0M119,250h0M407,309h0M37,334h0" stroke="#f07d22" stroke-width="5.5" stroke-linecap="square"/><path d="M188,374h0M33,224h0M157,43h0M273,187h0M259,203h0M314,270h0M269,60h0M337,219h0M114,410h0M43,181h0M277,325h0M183,142h0M337,74h0M278,258h0M358,127h0M244,122h0M247,365h0M20,147h0M226,357h0M206,311h0M275,152h0M323,340h0M18,46h0M418,240h0M28,34h0M130,276h0M336,253h0M248,244h0M386,253h0M195,162h0M231,60h0M338,361h0M347,171h0M329,288h0M67,339h0M177,414h0M155,65h0M157,356h0M339,383h0M129,394h0M287,293h0M268,238h0M78,25h0M237,319h0M245,104h0M49,278h0M161,233h0M227,149h0M191,346h0M103,380h0M169,213h0M93,406h0M214,234h0M395,182h0M131,401h0M221,304h0M22,98h0M360,194h0M254,397h0M76,154h0M408,175h0M137,124h0M180,152h0M274,29h0M115,377h0M222,153h0M218,71h0M68,25h0M41,154h0M300,265h0M63,312h0M268,35h0M293,109h0M409,388h0M270,112h0M311,139h0M294,175h0M130,309h0M73,340h0M17,86h0M44,29h0M342,140h0M101,136h0M217,189h0M366,73h0M220,172h0M162,45h0M106,301h0M283,297h0M391,289h0M128,129h0M48,45h0M263,176h0M78,230h0M159,96h0M217,297h0M407,150h0M17,42h0M229,114h0M125,343h0M162,86h0M245,361h0M209,393h0M312,117h0M73,60h0M417,372h0M229,277h0M259,384h0M99,224h0M18,68h0M29,266h0M409,281h0M351,379h0M268,179h0M296,376h0M159,314h0M214,50h0M186,264h0M238,381h0M402,229h0M216,275h0M92,240h0M140,197h0M345,272h0M60,398h0M123,318h0M244,414h0M105,249h0M68,239h0M53,25h0M213,50h0M374,75h0M326,247h0M81,125h0M291,59h0M79,400h0M125,50h0M373,222h0M245,351h0M202,172h0M409,49h0M67,259h0M312,373h0M387,32h0M33,301h0M390,411h0M59,422h0M87,119h0M382,296h0M208,238h0M224,316h0M233,126h0M205,274h0M319,221h0M107,254h0M393,93h0M393,203h0M305,130h0M341,371h0M351,287h0M380,290h0M263,207h0M223,146h0M215,43h0M338,85h0M266,405h0M299,172h0M319,365h0M308,166h0M46,130h0M357,98h0M395,193h0M123,94h0M42,364h0M391,378h0M264,320h0" stroke="#d83a30" stroke-width="5.5" stroke-linecap="square"/><path d="M226,386h0M235,165h0M360,318h0M175,47h0M238,297h0M92,383h0M177,301h0M194,211h0M131,311h0M402,274h0M253,118h0M292,57h0M20,257h0M98,182h0M25,61h0M218,44h0M393,47h0M408,412h0M263,287h0M314,180h0M348,281h0M373,130h0M367,54h0M232,91h0M292,205h0M358,188h0M179,174h0M214,236h0M179,267h0M278,76h0M417,154h0M402,322h0M53,377h0M78,339h0M236,167h0M310,325h0M40,331h0M152,419h0M361,218h0M328,150h0M199,126h0M199,260h0M156,234h0M415,369h0M352,61h0M274,27h0M176,183h0M320,113h0M209,196h0M192,187h0M66,47h0M82,108h0M408,332h0M39,340h0M167,252h0M106,395h0M329,420h0M18,419h0M199,151h0M81,250h0M362,148h0M97,269h0M76,37h0M187,413h0M100,301h0M235,99h0M410,381h0M56,372h0M229,115h0M308,204h0M291,105h0M160,422h0M46,180h0M114,400h0M253,60h0M258,329h0M316,255h0M238,257h0M222,179h0M115,311h0M215,229h0M102,300h0M208,294h0M394,376h0M69,199h0M306,55h0M25,181h0M106,122h0M340,36h0M347,130h0M334,298h0M417,384h0M23,216h0M404,139h0M39,112h0M269,260h0M381,73h0M69,100h0M246,331h0M356,397h0M319,204h0M54,387h0M126,378h0M392,200h0M354,59h0M125,97h0M355,36h0M167,306h0M220,117h0M83,287h0M30,93h0M154,206h0M192,306h0M192,333h0M305,395h0M99,118h0M364,57h0M312,137h0M225,84h0M126,206h0M70,357h0M370,159h0M219,321h0M132,147h0M37,303h0M393,397h0M62,135h0M32,46h0M383,67h0M155,27h0M64,36h0M199,226h0M404,95h0M145,420h0M368,189h0M241,281h0M114,160h0M106,216h0M190,192h0M78,136h0M129,118h0M295,54h0M387,114h0M47,368h0M286,263h0M388,299h0M299,348h0M256,350h0M160,264h0M70,159h0M88,288h0M405,338h0M199,161h0M141,164h0M334,66h0M160,58h0M167,155h0M161,96h0M107,126h0M85,309h0M335,105h0M71,26h0M170,25h0M251,271h0M244,32h0M215,351h0M187,229h0M302,188h0M75,39h0M181,391h0M364,311h0M43,380h0M308,302h0M190,245h0M144,100h0M291,422h0" stroke="#5b8fe3" stroke-width="5.5" stroke-linecap="square"/><path d="M229,79h0M84,313h0M326,162h0M55,126h0M65,251h0M254,116h0M88,406h0M235,146h0M64,49h0M95,218h0M183,305h0M206,380h0M363,155h0M149,123h0M78,59h0M158,421h0M230,95h0M388,402h0M376,83h0M352,198h0M347,271h0M130,321h0M331,264h0M201,376h0M131,363h0M170,273h0M50,310h0M359,39h0M109,27h0M21,87h0M278,124h0M400,148h0M158,69h0M229,162h0M149,286h0M360,81h0M23,93h0M348,141h0M117,264h0M329,123h0M222,384h0M252,370h0M278,185h0M139,213h0M276,302h0M172,325h0M408,181h0M316,153h0M338,56h0M283,332h0M411,136h0M216,278h0M71,251h0M257,270h0M184,82h0M161,69h0M250,62h0M294,55h0M357,196h0M381,189h0M40,382h0M378,133h0M416,70h0M197,177h0M231,226h0M168,148h0M28,163h0M123,151h0M418,362h0M166,104h0M281,287h0M362,27h0M143,191h0M32,104h0M50,408h0M419,155h0M354,189h0M23,74h0M159,206h0M127,30h0M329,288h0M44,74h0M30,45h0M25,29h0M177,220h0M256,314h0M375,235h0M82,252h0M406,67h0M417,30h0M33,111h0M328,254h0M59,259h0M282,273h0M62,119h0M82,280h0M322,205h0M252,233h0M222,310h0M337,156h0M77,213h0M295,306h0M109,198h0M202,110h0M190,253h0M129,192h0M310,366h0M210,346h0M144,258h0M289,350h0M85,127h0M153,56h0M78,338h0M209,137h0M287,22h0M411,259h0M339,175h0M374,87h0M215,194h0M382,81h0M118,381h0M94,145h0M301,170h0" stroke="#3ca63c" stroke-width="5.5" stroke-linecap="square"/><path d="M361,316h0M226,180h0M71,219h0M49,253h0M306,44h0M321,305h0M122,146h0M226,119h0M246,330h0M387,322h0M397,269h0M266,383h0M222,411h0M69,368h0M412,20h0M219,24h0M218,100h0M97,260h0M397,240h0M84,235h0M106,265h0M229,266h0M109,235h0M350,322h0M236,417h0M135,101h0M285,393h0M363,403h0M244,332h0M399,35h0M229,172h0M181,327h0M412,267h0M240,309h0M140,182h0M107,168h0M157,335h0M228,281h0M196,257h0M213,249h0M76,195h0M298,271h0M332,395h0M151,100h0M332,24h0M341,123h0M272,386h0M306,338h0M114,245h0M300,323h0M303,71h0M347,107h0M386,44h0M215,35h0M306,163h0M74,312h0M93,129h0M122,267h0M372,124h0M336,417h0M59,208h0M359,262h0M78,51h0M310,63h0M153,163h0M342,137h0M361,121h0M133,26h0M166,302h0M225,213h0M20,78h0M306,370h0M118,328h0M409,303h0M156,283h0M139,23h0M140,236h0M40,188h0M357,20h0M149,387h0M79,91h0M142,372h0M232,324h0M325,363h0M176,78h0M112,288h0M118,202h0M256,337h0" stroke="#808080" stroke-width="5.5" stroke-linecap="square"/></svg>
<path d="M204.80,92.40H209.30V96.90Z M209.30,148.30V152.80H204.80Z" fill="#fff"/>
<rect x="147.5" y="90.5" width="63.0" height="64.0" fill="none" stroke="#4a4a4a" stroke-width="1"/>
<text x="245.65" y="88.70" font-size="6.97" text-anchor="middle" fill="#1a1a1a" stroke="#1a1a1a" stroke-width="0.12" textLength="16.65" lengthAdjust="spacingAndGlyphs">WNN</text>
<svg x="215.95" y="92.90" width="59.3" height="59.4" viewBox="13.2 19.7 402.1 402.8" preserveAspectRatio="none"><path d="M-20,-20H460V460H-20Z" fill="#ee7e2a"/><path d="M300,100C302,80 335,110 350,130C365,150 383,178 390,220C397,262 400,340 390,380C380,420 347,447 330,460C313,473 292,478 290,460C288,442 312,385 320,350C328,315 343,292 340,250C337,208 298,120 300,100Z" fill="#e0602c"/><path d="M392,50 L460,50 L460,460 L392,460Z" fill="#d84030"/><path d="M336,-20 L460,-20 L460,125Z" fill="#d84030"/><path d="M300,460C283,445 343,392 360,370C377,348 383,337 400,330C417,323 450,308 460,330C470,352 487,438 460,460C433,482 317,475 300,460Z" fill="#d84030"/><path d="M45,-20C51,-45 76,-45 82,-20C88,5 84,99 82,130C80,161 76,162 72,168C68,174 59,174 55,168C51,162 48,161 46,130C44,99 39,5 45,-20Z" fill="#d53c2c"/><path d="M-20,150C-7,144 38,165 60,165C82,165 95,161 110,150C125,139 137,111 150,100C163,89 175,86 190,85C205,84 223,88 240,95C257,102 277,112 290,125C303,138 313,154 320,170C327,186 333,213 332,222C331,231 320,230 315,222C310,214 309,185 300,172C291,159 275,149 260,142C245,135 227,132 210,132C193,132 173,135 160,142C147,149 142,163 130,172C118,181 115,190 90,195C65,200 -2,210 -20,202C-38,194 -33,156 -20,150Z" fill="#e27ad0"/><path d="M130,176C136,158 151,144 165,135C179,126 197,124 215,125C233,126 258,131 275,140C292,149 306,163 315,180C324,197 328,217 330,240C332,263 329,297 325,320C321,343 311,357 305,380C299,403 322,447 290,460C258,473 142,477 110,460C78,443 99,387 100,360C101,333 110,320 115,300C120,280 128,261 130,240C132,219 124,194 130,176Z" fill="#5b8fe3"/><path d="M-20,200 L130,200 L130,280 L100,320 L80,320 L-20,310Z" fill="#858080"/><path d="M-20,300 L70,300 L90,360 L95,460 L-20,460Z" fill="#9065c4"/><path d="M330,230C335,218 350,213 355,220C360,227 361,252 360,270C359,288 355,318 350,330C345,342 334,347 330,340C326,333 325,308 325,290C325,272 325,242 330,230Z" fill="#5ccfd6"/><path d="M125,175C128,159 141,144 145,165C149,186 151,276 150,300C149,324 144,317 140,310C136,303 130,282 128,260C126,238 122,191 125,175Z" fill="#c9b23a"/><path d="M160,338a12,16 0 1,0 24,0a12,16 0 1,0 -24,0Z" fill="#e07ad0"/><path d="M62,279h0M130,314h0M391,112h0M212,58h0M350,51h0M362,224h0M178,272h0M88,256h0M43,93h0M168,289h0M69,128h0M239,41h0M337,198h0M79,358h0M19,298h0M63,131h0M81,234h0M122,181h0M210,159h0M204,330h0M123,400h0M111,75h0M268,334h0M83,99h0M46,112h0M246,205h0M389,355h0M147,289h0M72,92h0M98,102h0M247,118h0M106,65h0M58,127h0M79,173h0M40,276h0M186,302h0M52,61h0M342,416h0M325,355h0M193,285h0M389,277h0M330,191h0M114,348h0M237,130h0M93,345h0M163,261h0M405,222h0M264,257h0M154,353h0M410,87h0M127,34h0M67,340h0M89,235h0M394,109h0M241,399h0M128,240h0M24,359h0M175,343h0M345,401h0M263,355h0M108,297h0M408,391h0M235,159h0M57,230h0M361,394h0M40,222h0M220,350h0M151,138h0M413,384h0M153,25h0M370,55h0M270,311h0M109,32h0M154,250h0M183,295h0M403,102h0M216,212h0M139,153h0M19,400h0M350,279h0M308,299h0M304,223h0M296,365h0M125,121h0M108,42h0M162,95h0M141,171h0M199,146h0M173,227h0M91,38h0M286,137h0M96,131h0M409,227h0M64,125h0M84,175h0M398,309h0M152,214h0M49,312h0M362,118h0M135,137h0M267,246h0M203,109h0M69,60h0M111,198h0M205,213h0M251,244h0M172,151h0M414,132h0M217,148h0M82,304h0M203,292h0M51,25h0M286,397h0M222,410h0M344,125h0M202,419h0M360,169h0M389,406h0M270,225h0M190,157h0M247,165h0M255,330h0M365,105h0M129,376h0M129,267h0M351,244h0M373,378h0M280,409h0M339,319h0M326,131h0M91,382h0M158,233h0M170,121h0M175,308h0M38,26h0M126,280h0M261,56h0M400,391h0M251,79h0M43,226h0M361,92h0M363,234h0M367,262h0M226,198h0M405,123h0M133,289h0M379,417h0M277,365h0M319,136h0M184,156h0M161,138h0M317,400h0M151,101h0M257,319h0M222,185h0M300,312h0M151,374h0M331,351h0M110,193h0M55,391h0M200,379h0M395,179h0M232,30h0M286,21h0M391,36h0M109,334h0M384,70h0M157,297h0M288,111h0M397,169h0M118,253h0M359,281h0M236,160h0M166,102h0M396,30h0M24,383h0M397,74h0M274,263h0M143,363h0M342,259h0M308,200h0M321,26h0M299,326h0M104,398h0M195,22h0M382,59h0M200,398h0M255,68h0M41,195h0M123,372h0M228,79h0M335,48h0M334,148h0M159,304h0M175,419h0M266,399h0M303,27h0M268,81h0M76,380h0M72,78h0M413,269h0M339,260h0M337,141h0M410,38h0M80,115h0M213,227h0M102,405h0M314,72h0M202,358h0M145,163h0M62,204h0" stroke="#d83a30" stroke-width="5.5" stroke-linecap="square"/></svg>
<path d="M271.25,92.40H275.75V96.90Z M275.75,148.30V152.80H271.25Z" fill="#fff"/>
<rect x="214.5" y="90.5" width="63.0" height="64.0" fill="none" stroke="#4a4a4a" stroke-width="1"/>
<text x="312.10" y="88.70" font-size="6.97" text-anchor="middle" fill="#1a1a1a" stroke="#1a1a1a" stroke-width="0.12" textLength="38.49" lengthAdjust="spacingAndGlyphs">SpatialGlue</text>
<svg x="282.40" y="92.90" width="59.3" height="59.4" viewBox="16.3 19.7 402.1 402.8" preserveAspectRatio="none"><path d="M-20,-20H460V460H-20Z" fill="#3ca63c"/><path d="M220,-20C240,-30 340,-32 380,-20C420,-8 447,5 460,50C473,95 472,225 460,250C448,275 407,220 390,200C373,180 373,152 360,130C347,108 327,85 310,70C293,55 275,55 260,40C245,25 200,-10 220,-20Z" fill="#ef7e25"/><path d="M398,-20 L460,-20 L460,460 L398,460Z" fill="#d8402f"/><path d="M290,460C268,448 317,407 330,390C343,373 348,370 370,360C392,350 445,313 460,330C475,347 488,438 460,460C432,482 312,472 290,460Z" fill="#d8402f"/><path d="M-20,-20C4,-48 98,-43 122,-20C146,3 130,92 126,120C122,148 111,142 100,150C89,158 80,168 60,168C40,168 -7,181 -20,150C-33,119 -44,8 -20,-20Z" fill="#8c564b"/><path d="M50,-20C55,-45 77,-45 82,-20C87,5 84,100 82,130C80,160 76,157 72,162C68,167 60,167 56,162C52,157 51,160 50,130C49,100 45,5 50,-20Z" fill="#d53c2c"/><path d="M-20,150C-7,144 39,165 60,165C81,165 90,158 105,148C120,138 136,112 150,102C164,92 177,87 192,86C207,85 225,89 242,95C259,101 279,110 292,122C305,134 315,152 322,168C329,184 335,211 334,220C333,229 322,230 316,222C310,214 309,185 300,172C291,159 277,149 262,142C247,135 228,130 212,130C196,130 178,135 165,142C152,149 147,161 135,170C123,179 121,191 95,196C69,201 -1,210 -20,202C-39,194 -33,156 -20,150Z" fill="#e27ad0"/><path d="M142,170C145,155 150,153 160,146C170,139 188,133 205,130C222,127 244,127 260,130C276,133 290,140 300,150C310,160 317,172 322,188C327,204 329,224 330,245C331,266 330,293 326,315C322,337 312,351 306,375C300,399 313,446 290,460C267,474 191,477 170,460C149,443 166,387 162,360C158,333 152,321 148,300C144,279 141,257 140,235C139,213 139,185 142,170Z" fill="#5b8fe3"/><path d="M-20,200 L130,200 L140,270 L100,292 L-20,292Z" fill="#858080"/><path d="M-20,290 L72,290 L96,332 L96,460 L-20,460Z" fill="#9065c4"/><path d="M92,335C96,309 109,310 118,302C127,294 137,287 146,290C155,293 164,303 170,318C176,333 180,354 184,378C188,402 207,446 192,460C177,474 109,481 92,460C75,439 88,361 92,335Z" fill="#e39b3a"/><path d="M322,252C328,230 347,220 355,222C363,224 370,244 372,262C374,280 370,312 365,332C360,352 348,379 340,382C332,385 321,374 318,352C315,330 316,274 322,252Z" fill="#5ccfd6"/><path d="M132,178C134,169 144,159 147,168C150,177 150,211 151,230C152,249 154,270 153,282C152,294 148,305 146,302C144,299 140,279 139,265C138,251 138,234 137,220C136,206 130,187 132,178Z" fill="#c9b23a"/><path d="M161,337a13,16 0 1,0 26,0a13,16 0 1,0 -26,0Z" fill="#e07ad0"/><path d="M281,61h0M346,238h0M164,321h0M290,223h0M45,252h0M335,386h0M384,225h0M201,107h0M103,184h0M100,138h0M319,249h0M348,290h0M107,77h0M163,353h0M58,256h0M390,94h0M120,197h0M80,403h0M325,85h0M42,343h0M305,156h0M28,46h0M164,404h0M230,88h0M111,270h0M140,162h0M408,255h0M168,63h0M201,105h0M385,169h0M292,334h0M64,268h0M413,49h0M65,140h0M317,197h0M254,215h0M408,57h0M260,49h0M53,146h0M338,111h0M269,172h0M17,348h0M199,62h0M113,122h0M180,398h0M245,88h0M109,242h0M115,407h0M223,294h0M84,308h0M326,193h0M393,259h0M227,36h0M47,352h0M348,118h0M171,355h0M153,260h0M322,201h0M227,158h0M200,372h0M150,417h0M403,110h0M119,167h0M201,216h0M123,129h0M132,30h0M100,303h0M209,135h0M300,301h0M83,228h0M315,371h0M384,206h0M177,326h0M41,154h0M206,323h0M326,312h0M206,106h0M347,395h0M285,182h0M381,136h0M338,127h0M374,29h0M143,181h0M82,373h0M34,263h0M65,268h0M350,323h0M206,339h0M275,262h0M131,140h0M64,368h0M30,259h0M185,144h0M170,286h0M250,294h0M75,342h0M19,41h0M331,248h0M296,104h0M62,24h0M230,194h0M126,109h0M210,205h0M19,164h0M395,178h0M141,27h0M230,408h0M101,348h0M30,345h0M358,266h0M389,80h0M409,294h0M404,302h0M141,96h0M208,351h0M72,411h0M316,247h0M109,115h0M83,404h0M145,191h0M331,120h0M350,115h0M353,169h0" stroke="#d83a30" stroke-width="5.5" stroke-linecap="square"/></svg>
<path d="M337.70,92.40H342.20V96.90Z M342.20,148.30V152.80H337.70Z" fill="#fff"/>
<rect x="280.5" y="90.5" width="63.0" height="64.0" fill="none" stroke="#4a4a4a" stroke-width="1"/>
<text x="378.55" y="88.70" font-size="6.97" text-anchor="middle" fill="#1a1a1a" stroke="#1a1a1a" stroke-width="0.12" textLength="29.51" lengthAdjust="spacingAndGlyphs">COSMOS</text>
<svg x="348.85" y="92.90" width="59.3" height="59.4" viewBox="12.5 19.7 402.1 402.8" preserveAspectRatio="none"><path d="M-20,-20H460V460H-20Z" fill="#3ca63c"/><path d="M268,460C240,448 285,412 292,390C299,368 302,347 312,330C322,313 337,301 352,290C367,279 382,267 400,262C418,257 450,229 460,262C470,295 492,427 460,460C428,493 296,472 268,460Z" fill="#d8312f"/><path d="M330,330C330,322 359,302 370,300C381,298 395,312 395,320C395,328 381,348 370,350C359,352 330,338 330,330Z" fill="#ec8a2c"/><path d="M341,-20 L460,-20 L460,146Z" fill="#d8312f"/><path d="M300,60C303,56 312,52 322,58C332,64 350,84 362,98C374,112 384,123 392,140C400,157 408,189 408,200C408,211 400,212 394,204C388,196 383,167 374,152C365,137 352,124 340,112C328,100 311,91 304,82C297,73 297,64 300,60Z" fill="#5ccfd6"/><path d="M34,-20 L126,-20 L126,112 L34,140Z" fill="#e8862a"/><path d="M62,-20 L90,-20 L90,125 L62,130Z" fill="#3ca63c"/><path d="M66,-20C69,-47 84,-47 88,-20C92,7 90,109 88,140C86,171 81,165 78,165C75,165 70,171 68,140C66,109 63,7 66,-20Z" fill="#5a72b8"/><path d="M-20,150C-7,142 39,164 60,160C81,156 89,136 105,124C121,112 139,93 155,86C171,79 183,81 200,84C217,87 241,96 258,104C275,112 289,122 300,134C311,146 316,159 322,178C328,197 335,238 334,250C333,262 324,264 318,252C312,240 310,198 300,180C290,162 275,153 260,145C245,137 225,132 210,132C195,132 182,136 170,142C158,148 150,161 140,170C130,179 137,192 110,198C83,204 2,216 -20,208C-42,200 -33,158 -20,150Z" fill="#8c564b"/><path d="M-20,160C-7,154 38,174 60,170C82,166 93,146 110,134C127,122 145,103 160,97C175,91 184,93 200,96C216,99 239,108 254,116C269,124 282,134 292,146C302,158 308,172 312,186C316,200 319,224 318,232C317,240 309,241 304,232C299,223 298,194 290,180C282,166 268,153 255,145C242,137 224,131 210,130C196,129 182,134 170,140C158,146 150,158 140,167C130,176 137,190 110,197C83,204 2,213 -20,207C-42,201 -33,166 -20,160Z" fill="#e27ad0"/><path d="M124,172C130,159 142,142 156,134C170,126 191,121 210,122C229,123 252,129 268,138C284,147 297,161 306,176C315,191 320,209 322,230C324,251 322,282 318,302C314,322 305,326 298,352C291,378 311,442 278,460C245,478 133,477 102,460C71,443 94,387 92,360C90,333 88,318 92,300C96,282 110,265 114,250C118,235 116,223 118,210C120,197 118,185 124,172Z" fill="#bcbd2e"/><path d="M130,176C136,164 147,148 160,140C173,132 192,129 210,130C228,131 250,137 265,145C280,153 292,166 300,180C308,194 313,210 315,230C317,250 314,280 310,300C306,320 297,323 290,350C283,377 300,442 270,460C240,478 138,477 110,460C82,443 102,387 100,360C98,333 97,318 100,300C103,282 116,265 120,250C124,235 123,222 125,210C127,198 124,188 130,176Z" fill="#5b8fe3"/><path d="M-20,206C-1,164 74,199 95,206C116,213 106,234 105,250C104,266 93,283 92,300C91,317 95,323 98,350C101,377 128,442 108,460C88,478 1,502 -20,460C-41,418 -39,248 -20,206Z" fill="#9565c8"/><path d="M100,214C108,206 130,203 138,212C146,221 147,253 145,268C143,283 135,291 128,300C121,309 108,328 102,322C96,316 92,280 92,262C92,244 92,222 100,214Z" fill="#808080"/><path d="M62,208C67,204 89,203 95,206C101,209 103,224 98,228C93,232 72,235 66,232C60,229 57,212 62,208Z" fill="#e8902c"/><path d="M150,338a16,16 0 1,0 32,0a16,16 0 1,0 -32,0Z" fill="#bcbd2e"/><path d="M158,338a8,9 0 1,0 16,0a8,9 0 1,0 -16,0Z" fill="#e27ad0"/></svg>
<path d="M404.15,92.40H408.65V96.90Z M408.65,148.30V152.80H404.15Z" fill="#fff"/>
<rect x="347.5" y="90.5" width="62.0" height="64.0" fill="none" stroke="#4a4a4a" stroke-width="1"/>
<text x="445.00" y="88.70" font-size="6.97" text-anchor="middle" fill="#1a1a1a" stroke="#1a1a1a" stroke-width="0.12" textLength="22.88" lengthAdjust="spacingAndGlyphs">SMART</text>
<svg x="415.30" y="92.90" width="59.3" height="59.4" viewBox="15.6 19.7 402.1 402.8" preserveAspectRatio="none"><path d="M-20,-20H460V460H-20Z" fill="#8c564b"/><path d="M150,-20C167,-30 233,-32 262,-20C291,-8 304,30 322,50C340,70 360,83 372,100C384,117 388,125 392,150C396,175 401,233 398,252C395,271 379,274 372,262C365,250 365,205 358,182C351,159 343,139 328,122C313,105 288,94 268,82C248,70 226,59 208,52C190,45 170,52 160,40C150,28 133,-10 150,-20Z" fill="#3ca63c"/><path d="M250,-20C262,-32 355,-30 390,-20C425,-10 448,-18 460,40C472,98 471,290 460,330C449,370 407,310 395,280C383,250 394,180 390,150C386,120 382,117 370,100C358,83 340,70 320,50C300,30 238,-8 250,-20Z" fill="#f07d22"/><path d="M398,150 L460,150 L460,460 L398,460Z" fill="#d8312f"/><path d="M282,460C254,450 282,415 292,400C302,385 324,383 340,370C356,357 370,332 390,320C410,308 448,277 460,300C472,323 490,433 460,460C430,487 310,470 282,460Z" fill="#d8312f"/><path d="M-20,-20 L132,-20 L132,120 L110,150 L-20,160Z" fill="#e8862a"/><path d="M108,-20 L132,-20 L132,120 L108,150Z" fill="#3ca63c"/><path d="M50,-20C55,-48 77,-47 82,-20C87,7 84,109 82,140C80,171 73,163 68,165C63,167 55,181 52,150C49,119 45,8 50,-20Z" fill="#3a7ab8"/><path d="M320,232C324,220 342,212 350,215C358,218 367,234 370,250C373,266 373,292 370,310C367,328 358,348 350,360C342,372 327,385 320,382C313,379 309,355 310,340C311,325 323,308 325,290C327,272 316,244 320,232Z" fill="#5ccfd6"/><path d="M-20,150C-7,144 39,165 60,165C81,165 90,158 105,148C120,138 136,112 150,102C164,92 177,87 192,86C207,85 225,89 242,95C259,101 279,110 292,122C305,134 315,152 322,168C329,184 335,211 334,220C333,229 322,230 316,222C310,214 309,185 300,172C291,159 277,149 262,142C247,135 228,130 212,130C196,130 178,135 165,142C152,149 147,161 135,170C123,179 121,191 95,196C69,201 -1,210 -20,202C-39,194 -33,156 -20,150Z" fill="#e27ad0"/><path d="M142,170C145,155 150,153 160,146C170,139 188,133 205,130C222,127 244,127 260,130C276,133 290,140 300,150C310,160 317,172 322,188C327,204 329,224 330,245C331,266 330,293 326,315C322,337 312,351 306,375C300,399 313,446 290,460C267,474 191,477 170,460C149,443 166,387 162,360C158,333 152,321 148,300C144,279 141,257 140,235C139,213 139,185 142,170Z" fill="#5b8fe3"/><path d="M-20,200 L130,200 L140,285 L110,298 L80,320 L-20,310Z" fill="#808080"/><path d="M-20,310 L72,310 L96,332 L96,460 L-20,460Z" fill="#9565c8"/><path d="M92,335C96,309 109,310 118,302C127,294 137,287 146,290C155,293 164,303 170,318C176,333 180,354 184,378C188,402 207,446 192,460C177,474 109,481 92,460C75,439 88,361 92,335Z" fill="#e8a23c"/><path d="M132,178C134,169 144,159 147,168C150,177 150,211 151,230C152,249 154,270 153,282C152,294 148,305 146,302C144,299 140,279 139,265C138,251 138,234 137,220C136,206 130,187 132,178Z" fill="#bcbd2e"/><path d="M161,337a13,16 0 1,0 26,0a13,16 0 1,0 -26,0Z" fill="#e27ad0"/><path d="M48,264h0M417,76h0M358,80h0M183,381h0M136,294h0M46,366h0M204,21h0M74,206h0M332,245h0M407,56h0M181,53h0M352,317h0M414,22h0M372,78h0M106,57h0M153,337h0M156,246h0M305,357h0M240,237h0M176,322h0M205,410h0M388,136h0M412,392h0M240,383h0M141,226h0M261,116h0M339,326h0M159,127h0M339,142h0M113,240h0M34,74h0M140,254h0M367,48h0M377,192h0M91,261h0M306,297h0M35,365h0M66,115h0M141,402h0M348,231h0M40,106h0M117,173h0M358,45h0M317,350h0M63,22h0M382,400h0M373,311h0M167,54h0M77,343h0M412,31h0M334,122h0M99,255h0" stroke="#d83a30" stroke-width="5.5" stroke-linecap="square"/><path d="M393,254h0M360,35h0M23,151h0M180,192h0M205,399h0M141,36h0M147,412h0M368,60h0M184,203h0M81,107h0M234,329h0M270,348h0M221,112h0M184,258h0M293,366h0M389,152h0M110,362h0M125,366h0M37,181h0M146,305h0M212,365h0M300,40h0M100,99h0M59,397h0M271,298h0M99,223h0M113,236h0M76,356h0M241,284h0M98,262h0M350,237h0M308,317h0M342,266h0M123,87h0M122,277h0" stroke="#f07d22" stroke-width="5.5" stroke-linecap="square"/></svg>
<path d="M470.60,92.40H475.10V96.90Z M475.10,148.30V152.80H470.60Z" fill="#fff"/>
<rect x="413.5" y="90.5" width="63.0" height="64.0" fill="none" stroke="#4a4a4a" stroke-width="1"/>
<text x="490.70" y="13.00" font-size="6.45" fill="#1a1a1a" stroke="#1a1a1a" stroke-width="0.12" textLength="25.24" lengthAdjust="spacingAndGlyphs">Clusters</text>
<circle cx="483.1" cy="18.00" r="2.5" fill="#9565c8"/>
<circle cx="513.0" cy="18.00" r="2.5" fill="#3a7ab8"/>
<text x="492.60" y="19.90" font-size="5.51" fill="#1a1a1a" stroke="#1a1a1a" stroke-width="0.12" textLength="3.37" lengthAdjust="spacingAndGlyphs">1</text>
<text x="523.00" y="19.90" font-size="5.51" fill="#1a1a1a" stroke="#1a1a1a" stroke-width="0.12" textLength="3.37" lengthAdjust="spacingAndGlyphs">7</text>
<circle cx="483.1" cy="25.07" r="2.5" fill="#d8312f"/>
<circle cx="513.0" cy="25.07" r="2.5" fill="#5b8fe3"/>
<text x="492.60" y="26.97" font-size="5.51" fill="#1a1a1a" stroke="#1a1a1a" stroke-width="0.12" textLength="3.37" lengthAdjust="spacingAndGlyphs">2</text>
<text x="523.00" y="26.97" font-size="5.51" fill="#1a1a1a" stroke="#1a1a1a" stroke-width="0.12" textLength="3.37" lengthAdjust="spacingAndGlyphs">8</text>
<circle cx="483.1" cy="32.14" r="2.5" fill="#e8a23c"/>
<circle cx="513.0" cy="32.14" r="2.5" fill="#bcbd2e"/>
<text x="492.60" y="34.04" font-size="5.51" fill="#1a1a1a" stroke="#1a1a1a" stroke-width="0.12" textLength="3.37" lengthAdjust="spacingAndGlyphs">3</text>
<text x="523.00" y="34.04" font-size="5.51" fill="#1a1a1a" stroke="#1a1a1a" stroke-width="0.12" textLength="3.37" lengthAdjust="spacingAndGlyphs">9</text>
<circle cx="483.1" cy="39.21" r="2.5" fill="#3ca63c"/>
<circle cx="513.0" cy="39.21" r="2.5" fill="#e27ad0"/>
<text x="492.60" y="41.11" font-size="5.51" fill="#1a1a1a" stroke="#1a1a1a" stroke-width="0.12" textLength="3.37" lengthAdjust="spacingAndGlyphs">4</text>
<text x="523.00" y="41.11" font-size="5.51" fill="#1a1a1a" stroke="#1a1a1a" stroke-width="0.12" textLength="6.74" lengthAdjust="spacingAndGlyphs">10</text>
<circle cx="483.1" cy="46.28" r="2.5" fill="#8c564b"/>
<circle cx="513.0" cy="46.28" r="2.5" fill="#5ccfd6"/>
<text x="492.60" y="48.18" font-size="5.51" fill="#1a1a1a" stroke="#1a1a1a" stroke-width="0.12" textLength="3.37" lengthAdjust="spacingAndGlyphs">5</text>
<text x="523.00" y="48.18" font-size="5.51" fill="#1a1a1a" stroke="#1a1a1a" stroke-width="0.12" textLength="6.74" lengthAdjust="spacingAndGlyphs">11</text>
<circle cx="483.1" cy="53.35" r="2.5" fill="#808080"/>
<circle cx="513.0" cy="53.35" r="2.5" fill="#f58224"/>
<text x="492.60" y="55.25" font-size="5.51" fill="#1a1a1a" stroke="#1a1a1a" stroke-width="0.12" textLength="3.37" lengthAdjust="spacingAndGlyphs">6</text>
<text x="523.00" y="55.25" font-size="5.51" fill="#1a1a1a" stroke="#1a1a1a" stroke-width="0.12" textLength="6.74" lengthAdjust="spacingAndGlyphs">12</text>
<text x="481.80" y="65.70" font-size="6.45" fill="#1a1a1a" stroke="#1a1a1a" stroke-width="0.12" textLength="39.03" lengthAdjust="spacingAndGlyphs">SMART Anno</text>
<circle cx="486.3" cy="71.40" r="2.5" fill="#9565c8"/>
<text x="495.80" y="73.30" font-size="5.51" fill="#1a1a1a" stroke="#1a1a1a" stroke-width="0.12" textLength="13.22" lengthAdjust="spacingAndGlyphs">1-MS</text>
<circle cx="486.3" cy="78.48" r="2.5" fill="#d8312f"/>
<text x="495.80" y="80.38" font-size="5.51" fill="#1a1a1a" stroke="#1a1a1a" stroke-width="0.12" textLength="15.85" lengthAdjust="spacingAndGlyphs">2-CTX</text>
<circle cx="486.3" cy="85.56" r="2.5" fill="#808080"/>
<text x="495.80" y="87.46" font-size="5.51" fill="#1a1a1a" stroke="#1a1a1a" stroke-width="0.12" textLength="11.60" lengthAdjust="spacingAndGlyphs">3-LS</text>
<circle cx="486.3" cy="92.64" r="2.5" fill="#5ccfd6"/>
<text x="495.80" y="94.54" font-size="5.51" fill="#1a1a1a" stroke="#1a1a1a" stroke-width="0.12" textLength="15.85" lengthAdjust="spacingAndGlyphs">4-CTX</text>
<circle cx="486.3" cy="99.72" r="2.5" fill="#5b8fe3"/>
<text x="495.80" y="101.62" font-size="5.51" fill="#1a1a1a" stroke="#1a1a1a" stroke-width="0.12" textLength="12.18" lengthAdjust="spacingAndGlyphs">5-CP</text>
<circle cx="486.3" cy="106.80" r="2.5" fill="#8c564b"/>
<text x="495.80" y="108.70" font-size="5.51" fill="#1a1a1a" stroke="#1a1a1a" stroke-width="0.12" textLength="15.85" lengthAdjust="spacingAndGlyphs">6-CTX</text>
<circle cx="486.3" cy="113.88" r="2.5" fill="#3ca63c"/>
<text x="495.80" y="115.78" font-size="5.51" fill="#1a1a1a" stroke="#1a1a1a" stroke-width="0.12" textLength="15.85" lengthAdjust="spacingAndGlyphs">7-CTX</text>
<circle cx="486.3" cy="120.96" r="2.5" fill="#e27ad0"/>
<text x="495.80" y="122.86" font-size="5.51" fill="#1a1a1a" stroke="#1a1a1a" stroke-width="0.12" textLength="25.67" lengthAdjust="spacingAndGlyphs">8-ccg/aco</text>
<circle cx="486.3" cy="128.04" r="2.5" fill="#bcbd2e"/>
<text x="495.80" y="129.94" font-size="5.51" fill="#1a1a1a" stroke="#1a1a1a" stroke-width="0.12" textLength="11.55" lengthAdjust="spacingAndGlyphs">9-VL</text>
<circle cx="486.3" cy="135.12" r="2.5" fill="#f58224"/>
<text x="495.80" y="137.02" font-size="5.51" fill="#1a1a1a" stroke="#1a1a1a" stroke-width="0.12" textLength="19.23" lengthAdjust="spacingAndGlyphs">10-CTX</text>
<circle cx="486.3" cy="142.20" r="2.5" fill="#e8a23c"/>
<text x="495.80" y="144.10" font-size="5.51" fill="#1a1a1a" stroke="#1a1a1a" stroke-width="0.12" textLength="19.41" lengthAdjust="spacingAndGlyphs">11-ACB</text>
<circle cx="486.3" cy="149.28" r="2.5" fill="#3a7ab8"/>
<text x="495.80" y="151.18" font-size="5.51" fill="#1a1a1a" stroke="#1a1a1a" stroke-width="0.12" textLength="19.40" lengthAdjust="spacingAndGlyphs">12-ACA</text>
<text x="538.20" y="12.70" font-size="15.00" font-weight="bold" fill="#000">b</text>
<rect x="571.5" y="7.5" width="82.0" height="82.0" fill="none" stroke="#222" stroke-width="0.8"/>
<line x1="568.9" y1="81.80" x2="571.5" y2="81.80" stroke="#222" stroke-width="0.7"/>
<text x="562.50" y="84.70" font-size="7.28" text-anchor="end" fill="#1a1a1a" stroke="#1a1a1a" stroke-width="0.12" textLength="8.91" lengthAdjust="spacingAndGlyphs">10</text><text x="562.80" y="82.20" font-size="5.20" fill="#1a1a1a" stroke="#1a1a1a" stroke-width="0.12" textLength="3.18" lengthAdjust="spacingAndGlyphs">1</text>
<line x1="568.9" y1="54.15" x2="571.5" y2="54.15" stroke="#222" stroke-width="0.7"/>
<text x="562.50" y="57.05" font-size="7.28" text-anchor="end" fill="#1a1a1a" stroke="#1a1a1a" stroke-width="0.12" textLength="8.91" lengthAdjust="spacingAndGlyphs">10</text><text x="562.80" y="54.55" font-size="5.20" fill="#1a1a1a" stroke="#1a1a1a" stroke-width="0.12" textLength="3.18" lengthAdjust="spacingAndGlyphs">2</text>
<line x1="568.9" y1="26.50" x2="571.5" y2="26.50" stroke="#222" stroke-width="0.7"/>
<text x="562.50" y="29.40" font-size="7.28" text-anchor="end" fill="#1a1a1a" stroke="#1a1a1a" stroke-width="0.12" textLength="8.91" lengthAdjust="spacingAndGlyphs">10</text><text x="562.80" y="26.90" font-size="5.20" fill="#1a1a1a" stroke="#1a1a1a" stroke-width="0.12" textLength="3.18" lengthAdjust="spacingAndGlyphs">3</text>
<line x1="570.0" y1="87.93" x2="571.5" y2="87.93" stroke="#222" stroke-width="0.5"/>
<line x1="570.0" y1="86.08" x2="571.5" y2="86.08" stroke="#222" stroke-width="0.5"/>
<line x1="570.0" y1="84.48" x2="571.5" y2="84.48" stroke="#222" stroke-width="0.5"/>
<line x1="570.0" y1="83.07" x2="571.5" y2="83.07" stroke="#222" stroke-width="0.5"/>
<line x1="570.0" y1="73.48" x2="571.5" y2="73.48" stroke="#222" stroke-width="0.5"/>
<line x1="570.0" y1="68.61" x2="571.5" y2="68.61" stroke="#222" stroke-width="0.5"/>
<line x1="570.0" y1="65.15" x2="571.5" y2="65.15" stroke="#222" stroke-width="0.5"/>
<line x1="570.0" y1="62.47" x2="571.5" y2="62.47" stroke="#222" stroke-width="0.5"/>
<line x1="570.0" y1="60.28" x2="571.5" y2="60.28" stroke="#222" stroke-width="0.5"/>
<line x1="570.0" y1="58.43" x2="571.5" y2="58.43" stroke="#222" stroke-width="0.5"/>
<line x1="570.0" y1="56.83" x2="571.5" y2="56.83" stroke="#222" stroke-width="0.5"/>
<line x1="570.0" y1="55.42" x2="571.5" y2="55.42" stroke="#222" stroke-width="0.5"/>
<line x1="570.0" y1="45.83" x2="571.5" y2="45.83" stroke="#222" stroke-width="0.5"/>
<line x1="570.0" y1="40.96" x2="571.5" y2="40.96" stroke="#222" stroke-width="0.5"/>
<line x1="570.0" y1="37.50" x2="571.5" y2="37.50" stroke="#222" stroke-width="0.5"/>
<line x1="570.0" y1="34.82" x2="571.5" y2="34.82" stroke="#222" stroke-width="0.5"/>
<line x1="570.0" y1="32.63" x2="571.5" y2="32.63" stroke="#222" stroke-width="0.5"/>
<line x1="570.0" y1="30.78" x2="571.5" y2="30.78" stroke="#222" stroke-width="0.5"/>
<line x1="570.0" y1="29.18" x2="571.5" y2="29.18" stroke="#222" stroke-width="0.5"/>
<line x1="570.0" y1="27.77" x2="571.5" y2="27.77" stroke="#222" stroke-width="0.5"/>
<line x1="570.0" y1="18.18" x2="571.5" y2="18.18" stroke="#222" stroke-width="0.5"/>
<line x1="570.0" y1="13.31" x2="571.5" y2="13.31" stroke="#222" stroke-width="0.5"/>
<line x1="570.0" y1="9.85" x2="571.5" y2="9.85" stroke="#222" stroke-width="0.5"/>
<line x1="573.40" y1="89.5" x2="573.40" y2="92.1" stroke="#222" stroke-width="0.7"/>
<text x="573.40" y="100.30" font-size="7.28" text-anchor="middle" fill="#1a1a1a" stroke="#1a1a1a" stroke-width="0.12" textLength="4.45" lengthAdjust="spacingAndGlyphs">0</text>
<line x1="617.20" y1="89.5" x2="617.20" y2="92.1" stroke="#222" stroke-width="0.7"/>
<text x="617.20" y="100.30" font-size="7.28" text-anchor="middle" fill="#1a1a1a" stroke="#1a1a1a" stroke-width="0.12" textLength="22.27" lengthAdjust="spacingAndGlyphs">50000</text>
<text x="612.40" y="110.20" font-size="7.38" text-anchor="middle" fill="#1a1a1a" stroke="#1a1a1a" stroke-width="0.12" textLength="32.77" lengthAdjust="spacingAndGlyphs">Mem/MiB</text>
<text transform="translate(548.70,49.00) rotate(-90)" font-size="7.38" text-anchor="middle" fill="#1a1a1a" stroke="#1a1a1a" stroke-width="0.12" textLength="23.47" lengthAdjust="spacingAndGlyphs">Time/s</text>
<circle cx="575.50" cy="85.70" r="2.31" fill="#ee6fd0"/>
<path d="M574.00,63.50L577.00,66.50M577.00,63.50L574.00,66.50" stroke="#8c564b" stroke-width="1.30"/>
<rect x="578.78" y="36.98" width="3.04" height="3.04" fill="#d62728"/>
<path d="M573.19,53.20H577.81M575.50,50.89V55.51" stroke="#3f7fbf" stroke-width="1.16"/>
<path d="M580.40,45.60H584.00M582.20,43.80V47.41" stroke="#f0553a" stroke-width="1.33"/>
<path d="M608.88,24.20H612.12M610.50,22.59V25.81" stroke="#2f78c0" stroke-width="1.19"/>
<path d="M650.10,9.14L652.83,14.08L647.37,14.08Z" fill="#f57f20"/>
<rect x="607.34" y="10.14" width="2.72" height="2.72" fill="#2ca02c"/>
<path d="M575.00,30.24L577.52,25.68L572.48,25.68Z" fill="#8e5fcf"/>
<path d="M579.59,63.40H582.82M581.20,61.78V65.02" stroke="#4dd0d8" stroke-width="1.19"/>
<circle cx="605.70" cy="50.00" r="1.87" fill="#f0b0cc"/>
<path d="M597.10,16.53 L597.55,17.78 L598.88,17.82 L597.83,18.64 L598.20,19.91 L597.10,19.16 L596.00,19.91 L596.37,18.64 L595.32,17.82 L596.65,17.78Z" fill="#b8c030"/>
<circle cx="555.90" cy="118.10" r="2.75" fill="#ee6fd0"/>
<text x="563.30" y="120.50" font-size="6.92" fill="#1a1a1a" stroke="#1a1a1a" stroke-width="0.12" textLength="22.71" lengthAdjust="spacingAndGlyphs">SMART</text>
<path d="M554.17,124.00L557.62,127.44M557.62,124.00L554.17,127.44" stroke="#8c564b" stroke-width="1.49"/>
<text x="563.30" y="128.12" font-size="6.92" fill="#1a1a1a" stroke="#1a1a1a" stroke-width="0.12" textLength="38.20" lengthAdjust="spacingAndGlyphs">SpatialGlue</text>
<rect x="554.06" y="131.50" width="3.68" height="3.68" fill="#d62728"/>
<text x="563.30" y="135.74" font-size="6.92" fill="#1a1a1a" stroke="#1a1a1a" stroke-width="0.12" textLength="30.29" lengthAdjust="spacingAndGlyphs">PRESENT</text>
<path d="M553.37,140.96H558.43M555.90,138.43V143.49" stroke="#3f7fbf" stroke-width="1.26"/>
<text x="563.30" y="143.36" font-size="6.92" fill="#1a1a1a" stroke="#1a1a1a" stroke-width="0.12" textLength="16.52" lengthAdjust="spacingAndGlyphs">WNN</text>
<path d="M553.72,148.58H558.08M555.90,146.39V150.76" stroke="#f0553a" stroke-width="1.61"/>
<text x="563.30" y="150.98" font-size="6.92" fill="#1a1a1a" stroke="#1a1a1a" stroke-width="0.12" textLength="13.02" lengthAdjust="spacingAndGlyphs">SNF</text>
<path d="M553.72,156.20H558.08M555.90,154.01V158.38" stroke="#2f78c0" stroke-width="1.61"/>
<text x="563.30" y="158.60" font-size="6.92" fill="#1a1a1a" stroke="#1a1a1a" stroke-width="0.12" textLength="24.31" lengthAdjust="spacingAndGlyphs">MOFA+</text>
<path d="M620.90,115.57L623.31,119.94L618.49,119.94Z" fill="#f57f20"/>
<text x="628.50" y="120.50" font-size="6.92" fill="#1a1a1a" stroke="#1a1a1a" stroke-width="0.12" textLength="29.24" lengthAdjust="spacingAndGlyphs">MEFISTO</text>
<rect x="619.06" y="123.88" width="3.68" height="3.68" fill="#2ca02c"/>
<text x="628.50" y="128.12" font-size="6.92" fill="#1a1a1a" stroke="#1a1a1a" stroke-width="0.12" textLength="22.77" lengthAdjust="spacingAndGlyphs">MultiVI</text>
<path d="M620.90,135.87L623.31,131.50L618.49,131.50Z" fill="#8e5fcf"/>
<text x="628.50" y="135.74" font-size="6.92" fill="#1a1a1a" stroke="#1a1a1a" stroke-width="0.12" textLength="18.60" lengthAdjust="spacingAndGlyphs">scMM</text>
<path d="M618.72,140.96H623.08M620.90,138.77V143.14" stroke="#4dd0d8" stroke-width="1.61"/>
<text x="628.50" y="143.36" font-size="6.92" fill="#1a1a1a" stroke="#1a1a1a" stroke-width="0.12" textLength="17.15" lengthAdjust="spacingAndGlyphs">MISO</text>
<circle cx="620.90" cy="148.58" r="2.75" fill="#f0b0cc"/>
<text x="628.50" y="150.98" font-size="6.92" fill="#1a1a1a" stroke="#1a1a1a" stroke-width="0.12" textLength="29.29" lengthAdjust="spacingAndGlyphs">COSMOS</text>
<path d="M620.90,153.67 L621.51,155.36 L623.31,155.42 L621.88,156.52 L622.39,158.25 L620.90,157.23 L619.41,158.25 L619.92,156.52 L618.49,155.42 L620.29,155.36Z" fill="#b8c030"/>
<text x="628.50" y="158.60" font-size="6.92" fill="#1a1a1a" stroke="#1a1a1a" stroke-width="0.12" textLength="37.53" lengthAdjust="spacingAndGlyphs">CellCharter</text>
<text x="0.00" y="181.80" font-size="15.00" font-weight="bold" fill="#000">c</text>
<defs><path id="lf" d="M10.5,5.5C12,5 14,4 15,4C16,4 18,4 19,5.2C20,6 22,7 23,9C24,11 25,12 27,14.5C29,17 31,20 32.5,22C34,24 35,27 36.5,29.5C38,32 40,35 41,37C42,39 44,42 45.5,44C47,46 49,48 50.5,50.5C52,53 54,56 55.5,57.5C57,60 58,61 59,62.5C60,64 61,66 61,67.5C61,69 61,70 61,71.5C61,73 60,74 58.5,75C57,76 55,77 53,77.8C51,78 49,78 46.5,78.4C44,78 42,78 40,78.2C38,78 37,78 34.4,77.2C32,76 29,75 26.5,74C24,73 22,72 19.9,69.9C18,68 15,66 13.5,64C12,62 10,60 9,57.8C8,56 7,53 6,50.5C5,48 5,46 4.9,43.3C5,41 5,37 4.6,34.5C5,32 5,29 4.9,26.3C5,24 5,22 5.8,19.5C6,18 7,16 7.3,14.3C8,13 8,11 8.5,9.5C9,8 9,6 10.5,5.5Z"/><clipPath id="in0"><use href="#lf" transform="translate(42,44) scale(1) translate(-42,-44)"/></clipPath><clipPath id="in1"><use href="#lf" transform="translate(42,44) scale(0.965) translate(-42,-44)"/></clipPath><clipPath id="in2"><use href="#lf" transform="translate(42,44) scale(0.94) translate(-42,-44)"/></clipPath><clipPath id="in3"><use href="#lf" transform="translate(42,44) scale(0.915) translate(-42,-44)"/></clipPath><clipPath id="in4"><use href="#lf" transform="translate(42,44) scale(0.885) translate(-42,-44)"/></clipPath></defs>
<g transform="translate(14.20,182.30)"><use href="#lf" fill="#ddc630"/><g clip-path="url(#in3)"><use href="#lf" fill="#d9424f"/><path d="M40.1,59.4h0M16.1,19.4h0M44.1,76.5h0M23.6,26.6h0M6.7,16.7h0M36.7,75.7h0M29.7,25.3h0M19.5,14.8h0M30.9,30.4h0M15.4,25.5h0M20.6,62.3h0M17.3,65.3h0M7.3,46.7h0M31.9,27.6h0M16.9,11.8h0M18.0,54.1h0M6.6,44.7h0M10.3,44.2h0M28.4,26.9h0M20.6,7.8h0M11.5,30.1h0M37.5,39.6h0M24.6,47.1h0M42.9,75.7h0M48.0,59.0h0M45.4,73.2h0M35.4,32.4h0M29.2,48.1h0M28.0,69.4h0M11.9,21.0h0M28.9,23.3h0M12.8,42.4h0M31.7,47.2h0M19.3,44.4h0M33.2,49.4h0" stroke="#4aa69a" stroke-width="4.0" stroke-linecap="round"/><path d="M42.7,78.1h0M22.8,28.5h0M6.8,14.5h0M24.0,30.0h0M9.3,28.9h0M30.3,40.1h0M29.8,42.0h0M49.6,61.9h0M32.2,61.5h0M34.0,60.8h0M18.5,54.0h0M41.6,63.6h0M46.8,65.9h0M44.1,57.7h0M44.5,55.8h0M37.7,53.6h0M48.9,51.4h0M50.0,53.1h0M26.1,49.5h0M35.6,28.8h0M51.2,51.8h0M40.5,70.7h0M32.5,24.8h0M17.8,13.3h0M31.5,52.0h0M6.1,22.2h0M28.8,46.7h0M31.9,72.3h0M16.5,23.7h0M18.4,62.6h0M41.5,75.4h0M40.9,77.3h0M32.4,74.3h0M12.8,51.0h0M18.7,60.0h0M31.5,25.5h0M17.6,28.3h0M41.6,64.1h0M34.0,48.0h0M39.9,35.6h0M13.2,31.5h0M43.9,54.2h0M33.5,33.6h0M32.2,46.4h0M29.6,65.1h0M13.9,56.9h0M30.7,36.0h0M37.9,41.7h0M20.1,18.3h0M52.7,67.6h0M43.6,68.6h0M26.2,39.2h0M28.1,39.0h0M51.3,73.2h0M35.1,63.7h0M52.6,59.1h0M26.6,16.5h0M43.9,45.1h0M45.4,43.8h0M52.2,69.8h0M50.4,70.7h0M41.5,55.5h0M39.5,55.7h0M10.8,39.4h0M20.9,40.9h0M23.5,67.4h0M34.0,34.1h0M30.6,32.1h0M28.4,23.6h0M11.2,15.9h0M29.2,21.3h0M9.2,11.4h0M29.7,46.3h0M17.3,44.7h0M31.2,49.4h0" stroke="#4aa69a" stroke-width="3.2" stroke-linecap="round"/><path d="M46.9,73.1h0M41.6,71.5h0M35.5,46.6h0M57.1,61.2h0M12.0,49.9h0M35.3,54.5h0M13.6,14.1h0M31.9,56.6h0M50.2,68.3h0M22.4,16.5h0M34.9,33.8h0M32.6,66.7h0M33.0,28.7h0M41.7,47.1h0M34.1,43.2h0M29.6,52.4h0M22.4,16.8h0M27.5,48.5h0M20.2,34.2h0M49.9,50.9h0M24.4,70.9h0M40.7,72.3h0M32.8,34.6h0M31.3,23.6h0M21.4,43.5h0M19.9,43.3h0M32.9,71.0h0M35.8,40.8h0M34.5,40.0h0M39.4,34.5h0M11.8,35.8h0M31.9,72.8h0M36.2,50.2h0M18.9,61.8h0M25.5,59.0h0M11.2,48.1h0M16.2,29.5h0M31.9,60.8h0M40.9,37.0h0M12.8,22.3h0M12.5,23.7h0M17.6,39.6h0M10.8,53.8h0M15.7,4.9h0M14.5,5.7h0M22.1,38.6h0M32.5,74.1h0M18.8,34.0h0M20.3,34.3h0M32.8,35.2h0M46.1,72.4h0M46.8,71.1h0M17.0,11.8h0M17.2,10.3h0M11.5,9.2h0M10.2,9.8h0M6.8,18.2h0M8.0,19.0h0M46.2,56.3h0M7.8,15.9h0M28.9,30.5h0M27.6,29.8h0M52.0,58.2h0M20.1,16.5h0M18.0,29.7h0M53.9,69.0h0M33.7,47.6h0M43.4,42.7h0M44.7,43.5h0M19.9,57.4h0M50.8,58.9h0M16.3,26.2h0M40.7,61.3h0M39.4,60.7h0M34.7,71.8h0M33.5,70.8h0M36.6,48.9h0M52.4,75.7h0M41.4,73.4h0M9.8,17.7h0M10.0,7.9h0M8.6,8.3h0M43.5,59.5h0M22.0,68.3h0M17.8,53.6h0M30.9,33.8h0M43.8,41.6h0M47.9,70.8h0M27.6,22.1h0M9.9,17.0h0M56.0,70.3h0M7.9,12.8h0M6.2,32.3h0M5.8,33.8h0" stroke="#4aa69a" stroke-width="2.4" stroke-linecap="round"/><path d="M48.0,72.7h0M41.7,72.7h0M35.3,47.8h0M12.9,49.0h0M12.7,13.3h0M21.9,15.3h0M33.2,27.5h0M21.1,17.1h0M23.3,70.4h0M32.8,60.1h0M33.6,74.5h0M33.1,48.8h0M35.5,48.1h0M10.6,18.8h0M42.3,59.1h0M18.8,54.3h0M44.1,40.4h0M56.7,69.1h0" stroke="#4aa69a" stroke-width="1.6" stroke-linecap="round"/><path d="M30.1,52.8h0M28.2,52.4h0M45.4,74.2h0M21.5,15.7h0M19.6,16.3h0M21.4,44.9h0M19.3,24.0h0M19.2,66.0h0M18.3,23.0h0M10.8,57.8h0M10.4,7.9h0M30.7,52.3h0M8.0,51.9h0M35.1,71.4h0M28.3,62.6h0M19.0,30.2h0M23.5,10.8h0M9.6,7.9h0M49.9,71.1h0M17.1,5.0h0M33.7,73.9h0M35.2,75.1h0M29.4,23.7h0M28.8,18.9h0M26.1,51.2h0M26.9,49.4h0M31.0,36.7h0M33.0,24.6h0M42.0,60.5h0M22.1,67.8h0M45.3,49.7h0M42.1,47.2h0M29.2,26.3h0M30.6,36.3h0M48.5,50.4h0M45.5,67.7h0M28.9,25.8h0M59.3,71.0h0M44.2,68.4h0M54.5,72.7h0M42.2,70.1h0M23.0,22.0h0M15.1,43.5h0M35.9,75.8h0M28.7,36.5h0M27.6,27.4h0M8.8,51.7h0M33.1,29.4h0M37.0,37.3h0M21.7,30.8h0M14.2,36.9h0M23.3,55.7h0M31.5,27.3h0" stroke="#4a88ad" stroke-width="3.2" stroke-linecap="round"/><path d="M20.3,46.4h0M32.7,46.0h0M9.1,29.0h0M18.1,64.8h0M19.8,21.9h0M14.3,13.4h0M12.0,8.6h0M8.1,50.0h0M33.9,71.5h0M34.2,73.0h0M15.9,9.7h0M14.7,10.3h0M40.1,52.4h0M37.2,72.3h0M29.8,63.8h0M17.7,28.8h0M41.2,75.7h0M40.9,58.0h0M10.8,6.6h0M7.6,25.9h0M48.5,71.9h0M18.4,6.0h0M31.3,24.9h0M48.0,49.0h0M13.7,9.8h0M38.3,51.6h0M23.4,69.6h0M43.6,59.9h0M23.0,66.4h0M43.4,49.8h0M26.3,52.0h0M27.8,25.3h0M19.1,66.9h0M28.8,36.1h0M46.8,66.6h0M7.8,28.8h0M29.8,27.3h0M57.9,72.0h0M53.5,71.2h0M42.8,71.7h0M16.7,44.6h0M37.6,74.9h0M28.2,38.2h0M42.6,48.2h0M22.0,54.5h0M6.4,42.0h0M7.2,43.2h0M20.1,37.2h0M18.1,25.1h0M20.9,10.3h0M9.1,29.0h0M17.2,24.7h0M27.5,35.4h0M15.5,38.0h0M47.8,71.8h0M32.8,26.2h0" stroke="#4a88ad" stroke-width="2.4" stroke-linecap="round"/><path d="M33.8,46.5h0M32.7,69.2h0M19.0,25.7h0M38.8,52.5h0M36.1,72.4h0M40.3,59.2h0M47.6,47.9h0M22.3,70.3h0M48.7,66.6h0M27.6,52.1h0M20.3,67.0h0M8.8,29.4h0M30.2,34.1h0M30.3,33.0h0M12.3,24.9h0M11.4,25.4h0M8.6,14.4h0M7.8,13.8h0M19.2,24.6h0M28.4,34.6h0M47.0,71.0h0M20.5,52.9h0M21.1,53.8h0" stroke="#4a88ad" stroke-width="1.6" stroke-linecap="round"/></g><use href="#lf" fill="none" stroke="#8a48c8" stroke-width="0.8"/></g>
<g transform="translate(78.20,182.30)"><use href="#lf" fill="#ddc630"/><g clip-path="url(#in1)"><use href="#lf" fill="#d9424f"/><path d="M25.5,62.6h0M26.6,68.1h0M6.6,20.0h0M46.9,72.9h0M13.4,33.4h0M35.2,61.6h0M59.6,64.0h0M14.5,36.9h0M57.6,66.6h0M38.6,60.1h0M29.4,63.2h0" stroke="#dca070" stroke-width="5.6" stroke-linecap="round"/><path d="M26.6,66.1h0M20.1,16.2h0M27.3,22.4h0M33.0,47.1h0M53.3,67.7h0M8.7,21.8h0M32.2,66.6h0M17.2,18.6h0M10.9,48.0h0M32.3,69.2h0M8.6,17.2h0M24.1,39.1h0M21.5,45.5h0M22.1,24.2h0M12.2,35.0h0M18.9,39.5h0M6.6,41.4h0M25.3,49.8h0M32.5,42.8h0M31.2,74.4h0M41.8,44.0h0M12.5,40.0h0M57.9,64.9h0M57.0,74.9h0M57.2,73.1h0M34.8,53.7h0M45.4,76.8h0M20.1,25.7h0M19.2,24.1h0M37.0,71.1h0M18.5,25.3h0M10.1,36.4h0M8.8,35.4h0M40.0,42.8h0M17.5,26.8h0M55.6,74.2h0M8.3,24.2h0M25.6,23.3h0M40.0,58.8h0M9.5,17.9h0M39.7,39.2h0M27.9,24.2h0M28.8,25.8h0M21.3,26.0h0M32.3,54.7h0M38.2,63.0h0M24.8,36.1h0M20.7,50.0h0M20.5,51.8h0M42.1,38.8h0M38.7,77.3h0M28.5,38.8h0M24.3,12.8h0" stroke="#dca070" stroke-width="4.8" stroke-linecap="round"/><path d="M26.0,21.3h0M30.4,24.8h0M23.6,49.5h0M6.6,41.0h0M16.8,37.7h0M18.4,8.0h0M18.8,15.9h0M19.4,17.1h0M26.2,46.6h0M26.1,48.0h0M22.7,32.8h0M53.6,63.1h0M55.0,63.2h0M20.3,58.5h0M29.9,45.6h0M31.1,45.0h0M5.2,40.9h0M5.0,42.3h0M44.3,50.5h0M18.2,38.1h0M5.9,39.8h0M45.1,56.5h0M45.4,75.7h0M44.6,75.4h0M36.9,72.7h0M10.9,14.3h0M19.7,26.4h0M46.8,64.6h0M56.7,72.0h0M8.2,36.9h0M21.8,62.1h0M22.9,62.9h0M34.2,30.9h0M35.2,31.7h0M18.5,25.6h0M54.0,75.0h0M16.1,20.8h0M32.5,62.6h0M24.2,29.2h0M22.9,29.1h0M40.3,40.9h0M16.7,11.6h0M55.3,73.6h0M36.7,63.9h0M37.7,51.9h0M39.4,57.0h0M19.2,8.8h0M38.1,46.8h0M38.0,45.6h0M11.6,60.7h0" stroke="#dca070" stroke-width="4.0" stroke-linecap="round"/><path d="M17.2,38.8h0M44.1,51.6h0M45.6,64.9h0M55.5,74.7h0" stroke="#dca070" stroke-width="3.2" stroke-linecap="round"/><path d="M26.6,68.1h0M6.6,20.0h0M35.2,61.6h0" stroke="#4aa69a" stroke-width="4.0" stroke-linecap="round"/><path d="M25.5,62.6h0M26.6,66.1h0M27.3,22.4h0M33.0,47.1h0M46.9,72.9h0M53.3,67.7h0M32.2,66.6h0M17.2,18.6h0M10.9,48.0h0M32.3,69.2h0M8.6,17.2h0M24.1,39.1h0M21.5,45.5h0M22.1,24.2h0M13.4,33.4h0M12.2,35.0h0M18.9,39.5h0M6.6,41.4h0M25.3,49.8h0M32.5,42.8h0M41.8,44.0h0M12.5,40.0h0M59.6,64.0h0M57.0,74.9h0M34.8,53.7h0M45.4,76.8h0M20.1,25.7h0M37.0,71.1h0M18.5,25.3h0M10.1,36.4h0M8.8,35.4h0M40.0,42.8h0M17.5,26.8h0M55.6,74.2h0M14.5,36.9h0M57.6,66.6h0M8.3,24.2h0M38.6,60.1h0M40.0,58.8h0M9.5,17.9h0M39.7,39.2h0M27.9,24.2h0M21.3,26.0h0M32.3,54.7h0M29.4,63.2h0M38.2,63.0h0M24.8,36.1h0M20.7,50.0h0M42.1,38.8h0M38.7,77.3h0M24.3,12.8h0" stroke="#4aa69a" stroke-width="3.2" stroke-linecap="round"/><path d="M20.1,16.2h0M26.0,21.3h0M30.4,24.8h0M23.6,49.5h0M6.6,41.0h0M16.8,37.7h0M18.4,8.0h0M18.8,15.9h0M19.4,17.1h0M26.2,46.6h0M26.1,48.0h0M8.7,21.8h0M22.7,32.8h0M53.6,63.1h0M55.0,63.2h0M20.3,58.5h0M29.9,45.6h0M5.2,40.9h0M5.0,42.3h0M44.3,50.5h0M18.2,38.1h0M5.9,39.8h0M45.1,56.5h0M31.2,74.4h0M45.4,75.7h0M57.9,64.9h0M57.2,73.1h0M44.6,75.4h0M19.2,24.1h0M36.9,72.7h0M10.9,14.3h0M19.7,26.4h0M46.8,64.6h0M56.7,72.0h0M8.2,36.9h0M21.8,62.1h0M34.2,30.9h0M18.5,25.6h0M54.0,75.0h0M16.1,20.8h0M32.5,62.6h0M24.2,29.2h0M25.6,23.3h0M40.3,40.9h0M16.7,11.6h0M28.8,25.8h0M55.3,73.6h0M36.7,63.9h0M37.7,51.9h0M39.4,57.0h0M20.5,51.8h0M19.2,8.8h0M28.5,38.8h0M38.1,46.8h0M11.6,60.7h0" stroke="#4aa69a" stroke-width="2.4" stroke-linecap="round"/><path d="M17.2,38.8h0M31.1,45.0h0M44.1,51.6h0M45.6,64.9h0M22.9,62.9h0M35.2,31.7h0M22.9,29.1h0M55.5,74.7h0M38.0,45.6h0" stroke="#4aa69a" stroke-width="1.6" stroke-linecap="round"/><path d="M35.1,68.2h0M12.5,17.5h0M19.4,58.5h0M16.8,49.3h0M37.7,43.1h0M41.0,45.8h0M25.0,66.5h0" stroke="#dca070" stroke-width="2.4" stroke-linecap="round"/><path d="M17.4,44.7h0M39.0,41.0h0M27.7,23.3h0M28.7,23.5h0M13.9,30.3h0M32.4,65.0h0M32.4,64.2h0M35.5,67.1h0M34.9,74.1h0M23.7,32.6h0M12.5,16.3h0M24.0,21.4h0M12.7,18.4h0M13.7,18.4h0M25.7,22.6h0M24.8,22.2h0M41.9,46.6h0M54.2,66.4h0M39.3,68.1h0M40.1,68.8h0M48.4,57.0h0M47.7,57.7h0M15.4,58.5h0M15.1,57.6h0M19.8,48.2h0M28.8,71.0h0M19.2,29.1h0M14.7,35.8h0M13.6,54.7h0M13.6,55.6h0M12.3,11.7h0M11.3,11.6h0M18.8,61.7h0M58.8,73.7h0M31.4,70.2h0M19.0,60.6h0M5.8,23.4h0M5.0,23.0h0M55.8,75.4h0" stroke="#dca070" stroke-width="1.6" stroke-linecap="round"/><path d="M19.1,47.9h0M19.9,29.0h0M14.3,36.5h0" stroke="#dca070" stroke-width="0.8" stroke-linecap="round"/></g><use href="#lf" fill="none" stroke="#8a48c8" stroke-width="0.8"/></g>
<g transform="translate(141.20,182.30)"><use href="#lf" fill="#ddc630"/><g clip-path="url(#in3)"><use href="#lf" fill="#ddc630"/><path d="M15.3,62.0h0M32.5,54.2h0M12.8,31.0h0M28.8,32.8h0" stroke="#4a88ad" stroke-width="4.8" stroke-linecap="round"/><path d="M32.7,74.4h0M8.2,28.8h0M41.7,69.7h0M29.3,63.7h0M30.6,34.9h0M7.8,52.9h0M29.7,66.5h0M17.9,16.4h0M38.6,71.0h0M48.3,62.4h0M31.1,44.7h0M14.6,64.0h0M10.9,14.0h0M28.6,55.6h0M21.9,36.5h0M5.0,28.8h0M12.0,59.8h0M11.3,20.1h0M48.8,49.4h0M16.7,27.7h0M32.5,37.7h0M32.3,71.7h0M17.4,64.9h0M14.3,52.1h0M13.5,53.0h0M36.6,55.4h0M56.4,75.7h0" stroke="#4a88ad" stroke-width="4.0" stroke-linecap="round"/><path d="M21.8,53.5h0M18.9,10.6h0M13.7,50.1h0M19.5,35.1h0M29.8,65.7h0M37.5,63.0h0M20.1,29.2h0M18.6,30.4h0M36.5,45.2h0M29.8,68.6h0M40.6,45.0h0M40.4,69.8h0M36.6,53.7h0M12.4,54.8h0M19.4,18.3h0M14.7,59.6h0M36.6,71.8h0M40.7,73.4h0M41.8,74.9h0M10.1,54.9h0M46.1,62.5h0M26.9,38.4h0M42.9,65.3h0M16.2,62.8h0M30.2,53.6h0M43.6,49.8h0M25.8,62.4h0M21.2,16.1h0M21.7,40.8h0M12.7,12.9h0M19.9,60.7h0M12.3,33.4h0M23.8,37.9h0M3.7,27.1h0M33.7,30.4h0M15.8,62.5h0M10.3,61.3h0M18.2,18.1h0M37.1,67.0h0M39.0,66.5h0M46.1,57.6h0M19.7,65.3h0M12.5,50.8h0M56.0,73.5h0M10.8,44.5h0M8.1,36.1h0M11.0,35.6h0M9.1,35.1h0" stroke="#4a88ad" stroke-width="3.2" stroke-linecap="round"/><path d="M19.9,12.0h0M21.0,34.2h0M36.3,64.1h0M39.1,46.0h0M38.1,52.9h0M10.8,55.3h0M10.3,56.8h0M28.6,38.0h0M22.5,14.8h0M20.5,41.7h0M35.5,29.8h0M19.9,17.2h0M45.9,59.2h0M36.6,46.6h0M35.5,47.4h0M10.3,46.3h0M7.3,37.5h0" stroke="#4a88ad" stroke-width="2.4" stroke-linecap="round"/><path d="M12.0,47.8h0" stroke="#d9424f" stroke-width="4.8" stroke-linecap="round"/><path d="M24.0,53.6h0M33.2,33.8h0M30.7,61.2h0M22.4,13.5h0M31.8,59.8h0M31.5,59.4h0M18.0,61.9h0M15.3,31.9h0M41.5,74.2h0M9.5,31.2h0M28.2,32.3h0M49.7,71.7h0M17.2,12.2h0M27.1,66.9h0" stroke="#d9424f" stroke-width="4.0" stroke-linecap="round"/><path d="M45.2,67.2h0M22.3,12.0h0M15.5,39.5h0M33.5,64.6h0M32.6,62.9h0M19.7,19.1h0M33.6,31.0h0M32.3,31.9h0M28.6,56.6h0M15.4,39.9h0M16.7,41.2h0M50.8,76.5h0M22.6,15.9h0M34.7,45.1h0M51.7,68.4h0M46.1,51.6h0M31.4,43.4h0M37.9,38.2h0M28.8,17.1h0M53.0,66.4h0M52.3,58.0h0M21.0,23.1h0M43.0,72.9h0M13.5,49.8h0M18.8,28.8h0M20.7,43.9h0M26.5,38.4h0M30.1,33.3h0M33.5,33.9h0M8.0,28.9h0M56.8,71.0h0M13.7,25.9h0M21.4,70.8h0M32.5,35.7h0M34.9,56.2h0M15.5,42.7h0M17.7,14.5h0M35.6,28.4h0M34.8,26.7h0" stroke="#d9424f" stroke-width="3.2" stroke-linecap="round"/><path d="M46.7,66.7h0M14.1,38.4h0M21.5,19.5h0M51.8,77.7h0M38.5,56.4h0M50.0,68.8h0M5.9,38.7h0M5.1,40.0h0M52.1,56.1h0M51.6,66.5h0M51.5,67.9h0M20.3,33.2h0M20.9,31.9h0M41.2,59.1h0M42.3,58.1h0M32.2,33.1h0M9.6,29.8h0M58.4,70.9h0M15.3,26.2h0M30.8,62.0h0M31.8,63.0h0M12.2,57.5h0M15.1,25.1h0M13.6,24.7h0" stroke="#d9424f" stroke-width="2.4" stroke-linecap="round"/><path d="M20.1,63.0h0" stroke="#4aa69a" stroke-width="3.2" stroke-linecap="round"/><path d="M52.7,72.6h0M40.1,69.7h0M15.8,56.1h0M13.4,46.8h0M36.8,63.6h0M38.0,62.7h0M43.5,64.6h0M14.6,60.2h0M13.2,59.8h0M33.4,26.6h0M33.7,25.2h0M22.3,16.7h0M31.5,33.2h0M9.4,32.1h0M7.7,27.6h0M9.0,28.4h0M54.4,65.3h0M57.6,62.9h0M33.4,70.9h0M33.1,51.9h0M22.7,29.5h0M33.4,63.5h0M32.3,62.5h0M36.8,34.9h0M37.8,36.0h0M24.3,60.8h0M26.2,59.7h0" stroke="#4aa69a" stroke-width="2.4" stroke-linecap="round"/><path d="M39.1,69.2h0M16.7,57.0h0M25.3,71.7h0M18.8,57.4h0M19.8,57.4h0M30.5,22.0h0M23.8,45.7h0M27.2,57.9h0M27.3,59.0h0M22.1,59.0h0M31.2,59.5h0M47.6,66.6h0M58.8,62.8h0M11.7,49.5h0M10.8,49.1h0M25.6,60.9h0M9.5,50.8h0M15.2,38.5h0M14.4,37.8h0" stroke="#4aa69a" stroke-width="1.6" stroke-linecap="round"/></g><use href="#lf" fill="none" stroke="#8a48c8" stroke-width="0.8"/></g>
<g transform="translate(205.20,182.30)"><use href="#lf" fill="#ddc630"/><g clip-path="url(#in3)"><use href="#lf" fill="#d9424f"/><path d="M15.4,44.3h0M23.8,66.3h0M38.7,74.3h0M39.7,51.8h0M21.2,54.7h0M39.8,44.1h0M16.4,12.7h0M33.8,53.1h0M15.3,25.0h0M28.0,61.8h0M10.7,25.8h0M52.5,63.5h0M45.4,55.4h0M30.1,69.8h0" stroke="#4a88ad" stroke-width="4.0" stroke-linecap="round"/><path d="M15.8,46.4h0M10.7,51.7h0M17.7,14.4h0M35.0,32.6h0M50.0,77.0h0M31.4,69.0h0M9.1,47.2h0M27.2,32.0h0M25.7,67.3h0M46.5,50.7h0M29.7,51.6h0M8.4,25.6h0M38.3,55.9h0M40.3,43.6h0M41.9,47.0h0M12.2,43.3h0M20.0,66.5h0M57.7,69.2h0M17.7,28.8h0M14.5,12.5h0M14.4,30.1h0M54.6,60.1h0M55.6,70.8h0M10.7,50.6h0M38.1,40.2h0M5.8,37.2h0M20.3,47.5h0M29.5,70.0h0M22.5,28.3h0M33.7,51.4h0M11.0,16.2h0M13.7,26.2h0M37.9,72.0h0M7.8,47.4h0M41.3,62.8h0M39.4,38.7h0M30.6,19.9h0M8.7,26.1h0M52.6,61.3h0M36.0,72.1h0M53.3,61.5h0M8.8,11.4h0M8.6,9.5h0M28.5,71.0h0M8.8,38.5h0M53.3,72.3h0M15.1,8.8h0M25.3,41.4h0M33.8,54.6h0M41.7,55.1h0M39.3,41.1h0M24.7,48.0h0M19.5,46.7h0M43.9,56.6h0M24.3,70.2h0M25.0,28.8h0M47.6,55.7h0M48.1,72.2h0M23.9,54.7h0" stroke="#4a88ad" stroke-width="3.2" stroke-linecap="round"/><path d="M16.4,13.3h0M46.1,77.4h0M23.1,69.9h0M29.8,46.3h0M36.6,31.7h0M8.1,48.5h0M59.0,69.2h0M44.2,63.0h0M28.0,56.8h0M42.3,39.1h0M56.2,59.2h0M7.2,35.0h0M30.2,67.3h0M50.6,66.2h0M31.1,47.6h0M49.5,62.5h0M29.5,43.8h0M37.7,76.7h0M38.6,54.3h0M43.7,50.3h0M38.9,42.3h0M14.9,11.4h0M24.9,60.6h0M49.2,68.6h0M43.4,46.6h0M13.6,42.1h0M20.1,68.2h0M15.8,27.5h0M23.3,49.2h0M27.1,48.7h0M15.5,54.6h0M31.5,34.4h0M30.6,33.3h0M24.6,11.6h0M12.4,50.3h0M14.8,16.3h0M39.2,39.0h0M5.3,38.7h0M17.4,13.6h0M8.7,28.6h0M55.7,65.5h0M18.7,47.1h0M19.3,63.5h0M27.7,69.9h0M23.2,53.3h0M23.4,29.6h0M52.1,56.9h0M34.9,50.0h0M9.7,14.9h0M12.5,21.3h0M43.0,73.9h0M9.9,28.3h0M31.3,42.3h0M55.2,58.8h0M20.6,16.4h0M33.8,67.2h0M26.2,64.9h0M25.8,63.4h0M6.1,45.8h0M44.5,51.5h0M44.8,50.1h0M50.3,55.0h0M25.6,42.6h0M27.9,42.8h0M54.1,60.5h0M53.8,60.8h0M53.6,70.5h0M16.9,9.4h0M13.8,46.0h0M30.6,44.1h0M28.3,38.1h0M27.2,37.0h0M27.0,42.1h0M41.1,78.0h0M43.1,53.9h0M39.5,42.8h0M24.5,49.5h0M29.5,38.5h0M27.2,41.9h0M12.0,26.3h0M15.8,51.1h0M21.9,53.7h0M18.7,48.4h0M25.1,71.5h0M23.7,48.2h0M24.4,55.7h0M48.6,73.9h0M54.4,57.6h0" stroke="#4a88ad" stroke-width="2.4" stroke-linecap="round"/><path d="M15.3,11.1h0M21.8,69.9h0M30.7,41.7h0M43.3,62.2h0M42.5,78.1h0M31.1,48.8h0M30.8,43.5h0M36.5,76.2h0M43.6,51.7h0M16.1,11.2h0M15.8,28.7h0M15.9,53.3h0M23.0,51.5h0M21.9,51.4h0M25.2,42.7h0M25.6,43.7h0M16.5,14.4h0M24.6,53.3h0M53.1,57.7h0M21.2,17.4h0M33.1,66.2h0M5.0,46.4h0M10.4,32.7h0M25.3,43.9h0M33.7,50.0h0M39.9,67.3h0M55.0,61.3h0M28.4,38.4h0M29.8,28.8h0" stroke="#4a88ad" stroke-width="1.6" stroke-linecap="round"/><path d="M53.7,76.3h0M22.8,15.3h0M28.3,63.3h0M56.2,64.2h0M43.4,50.2h0M25.9,18.8h0M10.9,8.4h0M32.5,34.7h0M31.8,73.1h0M25.9,33.9h0M46.1,46.7h0M10.7,25.8h0M26.9,59.2h0M16.9,56.2h0M16.4,19.0h0M36.8,37.9h0M19.1,61.5h0M17.6,63.0h0M24.7,70.3h0M24.0,48.1h0M17.6,43.1h0" stroke="#4aa69a" stroke-width="3.2" stroke-linecap="round"/><path d="M53.7,78.0h0M33.0,33.2h0M32.6,34.6h0M9.3,12.3h0M16.8,30.4h0M32.0,35.5h0M11.3,56.5h0M49.5,69.3h0M20.1,48.7h0M38.6,34.2h0M56.1,72.7h0M14.8,59.1h0M30.2,20.8h0M42.1,49.2h0M14.2,24.7h0M12.4,9.1h0M30.9,34.9h0M33.9,27.7h0M6.4,38.4h0M36.2,58.2h0M33.6,26.3h0M29.8,31.0h0M33.9,55.7h0M32.5,55.3h0M30.5,40.6h0M52.0,62.6h0M37.9,68.8h0M16.6,20.6h0M12.1,53.6h0M12.9,54.8h0M13.8,36.4h0M31.9,59.1h0M30.4,59.4h0M40.8,59.0h0M41.9,57.9h0M47.1,60.7h0M48.6,60.5h0M46.2,72.6h0M12.6,24.9h0M36.9,73.4h0M16.7,22.1h0M18.1,22.2h0M33.4,71.3h0M19.1,29.7h0M19.0,28.2h0M41.9,72.5h0M53.5,71.6h0M24.9,45.9h0M14.7,64.1h0M18.5,27.2h0M11.1,26.2h0M20.6,62.4h0M15.2,59.4h0M39.4,48.2h0M13.6,24.6h0M12.5,25.4h0M5.1,32.6h0M38.5,57.9h0M18.7,23.1h0M25.3,71.9h0M16.8,49.7h0M15.4,49.5h0M41.3,58.0h0M9.0,12.9h0M8.6,11.4h0M46.2,61.7h0M47.4,60.8h0M23.6,49.8h0M10.0,52.4h0M33.6,40.7h0M16.1,43.9h0" stroke="#4aa69a" stroke-width="2.4" stroke-linecap="round"/><path d="M5.6,37.1h0M42.6,46.4h0M43.2,47.1h0M48.3,47.9h0M29.5,19.8h0M13.7,23.7h0M38.7,34.1h0M37.9,33.6h0M13.6,31.5h0M47.8,65.1h0M48.2,64.2h0M50.4,56.9h0M51.0,56.1h0M33.1,26.9h0M18.5,44.4h0M6.9,26.5h0M5.9,26.6h0M16.3,30.4h0M49.9,77.5h0M49.5,76.7h0M27.1,15.6h0M26.3,16.1h0M52.4,63.7h0M40.6,77.1h0M39.3,74.1h0M37.1,68.0h0M23.8,14.9h0M23.0,14.3h0M18.2,47.7h0M23.6,53.9h0M22.7,54.6h0M48.6,48.4h0M49.5,48.5h0M36.1,48.5h0M41.0,66.3h0M30.7,28.2h0M31.8,28.1h0M31.4,35.3h0M47.0,71.8h0M11.9,26.1h0M34.3,70.5h0M38.6,62.6h0M38.3,63.6h0M25.6,44.5h0M25.0,45.4h0M52.9,72.7h0M15.8,64.4h0M38.5,71.5h0M39.0,70.8h0M38.6,47.5h0M6.3,32.5h0M48.9,76.4h0M28.2,18.7h0M9.2,53.4h0M25.3,47.1h0M25.9,47.9h0M34.0,39.5h0" stroke="#4aa69a" stroke-width="1.6" stroke-linecap="round"/><path d="M6.6,49.0h0M26.0,22.8h0M24.9,48.3h0M43.1,59.3h0M32.0,24.8h0M18.4,54.4h0M23.5,33.4h0" stroke="#ddc630" stroke-width="2.4" stroke-linecap="round"/><path d="M49.3,70.4h0M31.5,37.8h0M31.2,38.8h0M18.2,36.1h0M19.1,35.8h0M9.6,51.2h0M35.3,41.8h0M6.3,45.9h0M23.2,56.0h0M44.4,68.5h0M54.4,61.0h0M54.6,62.1h0M20.0,45.9h0M18.4,50.4h0M55.3,70.7h0M12.1,32.8h0M12.9,33.1h0M25.9,47.8h0M43.2,58.1h0M30.4,52.8h0M29.9,52.1h0M33.6,48.6h0M16.4,16.1h0M14.1,30.4h0M48.4,58.4h0M47.6,59.0h0M10.6,57.1h0M18.8,52.6h0M17.0,30.3h0M16.6,29.5h0M22.8,32.4h0M32.7,34.2h0M33.4,34.9h0M18.5,18.3h0M29.6,34.5h0M27.4,67.1h0M28.1,66.4h0M7.4,29.5h0M6.8,28.8h0" stroke="#ddc630" stroke-width="1.6" stroke-linecap="round"/><path d="M22.9,56.8h0" stroke="#ddc630" stroke-width="0.8" stroke-linecap="round"/></g><use href="#lf" fill="none" stroke="#8a48c8" stroke-width="0.8"/></g>
<g transform="translate(269.20,182.30)"><use href="#lf" fill="#b96d60"/><g clip-path="url(#in0)"><use href="#lf" fill="#b96d60"/><path d="M15.4,53.7h0M25.1,56.4h0M28.3,74.0h0M38.9,36.4h0M39.3,74.2h0M35.2,31.3h0M29.2,49.2h0M19.8,54.3h0M20.6,54.6h0M30.2,74.5h0M29.5,74.0h0M16.2,5.5h0M15.3,43.5h0M16.8,28.3h0M21.9,42.0h0M52.7,55.0h0M54.5,56.4h0M38.9,59.8h0M17.7,44.4h0M39.7,57.3h0M37.6,57.6h0M33.5,38.1h0M18.2,43.0h0M4.9,29.9h0M16.7,40.9h0M22.5,13.5h0M42.1,59.6h0M35.0,59.8h0M39.8,48.1h0M9.4,16.1h0M39.4,39.7h0M42.7,64.1h0M27.5,43.7h0M43.9,49.3h0M53.4,64.7h0M31.5,49.0h0M6.3,41.7h0M41.6,53.0h0M19.1,32.7h0M14.8,45.5h0M15.2,46.2h0M8.9,33.5h0M16.4,37.1h0M40.5,58.1h0M38.9,51.3h0M32.0,48.3h0M31.7,49.1h0M37.8,44.7h0M38.1,66.5h0M6.3,26.8h0M54.9,67.7h0M14.1,21.4h0M39.5,58.6h0M54.3,73.8h0M24.2,28.6h0M38.2,45.7h0M39.8,58.3h0M40.9,57.0h0M41.0,57.9h0M22.0,40.2h0M34.6,73.9h0M47.6,59.9h0M37.7,44.3h0M10.2,24.2h0M32.5,74.3h0M33.3,74.4h0M41.6,66.7h0M25.5,65.4h0M32.1,28.4h0M31.2,28.5h0M16.8,8.7h0M9.8,16.4h0M9.2,15.9h0M29.3,71.2h0M48.7,62.6h0M21.3,9.7h0M8.1,43.7h0M42.8,63.5h0M23.2,13.7h0M6.2,27.8h0M41.0,76.6h0M52.2,54.2h0M37.7,41.6h0M34.6,68.4h0M24.3,70.8h0M33.7,34.7h0M42.6,72.6h0M46.1,67.1h0M6.7,22.4h0M25.6,16.5h0M48.9,49.4h0M50.7,53.9h0M49.9,54.3h0M40.0,62.7h0M37.7,61.8h0M15.6,35.8h0M43.5,61.4h0M56.5,65.4h0M11.2,43.1h0M11.5,43.9h0M10.0,6.7h0M43.9,46.7h0M56.1,70.9h0M47.3,74.9h0M48.0,75.4h0M28.9,34.7h0M11.1,44.4h0M38.3,72.8h0M39.1,73.1h0M42.3,54.8h0M20.0,11.7h0M16.4,4.9h0M31.9,47.6h0M29.6,34.7h0M21.0,28.7h0M41.2,39.0h0M16.7,50.0h0M17.0,49.2h0M14.4,46.3h0M16.9,42.7h0M10.2,55.4h0M14.0,42.0h0M22.0,14.1h0M11.5,39.1h0M10.7,38.9h0M28.2,52.4h0M33.2,66.6h0M36.1,45.7h0M37.1,43.8h0M37.9,43.5h0M44.7,73.4h0M22.8,45.4h0M14.7,44.9h0M27.6,16.0h0M43.5,49.8h0M8.5,17.3h0M10.5,19.1h0M32.5,46.2h0M41.1,52.9h0M12.2,11.3h0M21.1,22.3h0M30.4,25.5h0M19.4,9.1h0M33.7,62.8h0M29.0,21.9h0M15.4,35.6h0M29.5,61.4h0M25.7,16.9h0M40.1,65.5h0M21.1,9.6h0M33.5,39.6h0M34.3,39.3h0M24.8,38.1h0M36.1,75.9h0M24.2,14.5h0M13.8,17.4h0M32.1,36.6h0M18.2,33.4h0M19.9,32.1h0M24.1,22.1h0M16.0,62.8h0M40.0,53.5h0M51.4,72.1h0M13.6,61.2h0M24.3,41.7h0M24.5,59.4h0M18.3,56.1h0M37.4,65.3h0M12.8,16.4h0M31.3,37.0h0M29.1,31.1h0M12.8,18.7h0M30.7,52.6h0M17.3,67.0h0M12.2,12.5h0M11.2,14.6h0M15.6,53.3h0M18.6,44.8h0M17.0,29.5h0M37.2,49.4h0M21.5,39.2h0M19.1,68.3h0M18.5,13.3h0M47.9,52.5h0M34.3,28.9h0M33.5,29.3h0M57.4,63.9h0M51.8,67.6h0M8.8,17.2h0M28.1,46.1h0M54.4,68.1h0M49.0,69.5h0M49.8,69.3h0M41.1,68.0h0M20.7,10.6h0M43.0,64.5h0M37.3,36.8h0M44.0,60.4h0M20.2,61.4h0M32.6,70.8h0M40.6,51.0h0M39.2,45.1h0M23.1,24.0h0M57.5,61.3h0M12.3,40.7h0M17.0,46.1h0M38.7,56.5h0M36.7,47.8h0M14.0,50.0h0M28.1,54.1h0M12.0,27.6h0M45.9,51.2h0M9.9,10.0h0M29.2,46.0h0M30.0,21.5h0M24.1,55.5h0M49.0,74.1h0M9.6,11.0h0M9.7,11.9h0M34.0,61.4h0M33.6,62.1h0M27.8,43.4h0M25.6,40.3h0M40.4,70.3h0M13.1,55.9h0M13.3,28.6h0M25.4,31.6h0M18.3,10.1h0" stroke="#a88070" stroke-width="1.6" stroke-linecap="round"/><path d="M15.0,54.3h0M10.3,8.0h0M39.5,36.1h0M40.0,74.4h0M24.6,26.5h0M24.2,27.1h0M11.1,37.7h0M11.5,37.3h0M15.9,43.8h0M57.1,70.9h0M30.4,68.3h0M31.0,68.2h0M19.9,12.3h0M52.4,55.7h0M55.3,56.4h0M8.5,36.9h0M9.6,50.3h0M9.8,49.7h0M39.5,57.9h0M31.8,33.7h0M32.3,33.6h0M32.7,38.4h0M5.4,30.5h0M16.4,40.2h0M42.5,60.1h0M35.4,52.9h0M58.6,68.7h0M31.9,69.1h0M32.5,69.2h0M39.9,40.2h0M24.1,44.1h0M23.6,27.7h0M23.6,27.1h0M26.7,43.9h0M43.1,49.0h0M31.4,49.8h0M39.6,39.9h0M39.0,40.0h0M10.4,20.0h0M10.2,20.6h0M47.5,73.3h0M47.1,73.7h0M11.4,18.1h0M36.1,48.9h0M35.5,49.2h0M37.4,66.7h0M54.9,68.5h0M25.6,34.7h0M25.4,34.2h0M13.9,22.2h0M37.8,45.0h0M39.0,58.2h0M40.7,51.0h0M40.4,51.5h0M22.7,40.3h0M18.3,47.9h0M17.9,47.3h0M15.2,15.7h0M54.8,64.4h0M54.2,64.2h0M37.2,43.8h0M10.5,25.0h0M42.0,66.0h0M26.2,65.6h0M13.9,21.4h0M19.3,35.7h0M19.9,35.6h0M27.8,49.3h0M27.5,48.7h0M48.2,59.3h0M50.6,65.6h0M20.7,9.9h0M24.5,47.2h0M25.2,47.2h0M38.3,42.0h0M33.9,68.1h0M24.2,71.6h0M5.7,35.6h0M33.6,41.5h0M33.8,42.0h0M13.4,11.9h0M33.1,35.1h0M22.4,26.3h0M22.1,25.8h0M45.8,67.8h0M33.9,60.0h0M33.3,59.9h0M43.9,74.3h0M43.9,74.8h0M25.4,29.8h0M25.5,30.3h0M13.1,53.3h0M13.0,54.0h0M56.4,71.4h0M10.5,44.0h0M41.6,55.3h0M20.7,11.4h0M9.3,35.3h0M8.7,34.9h0M30.3,55.8h0M21.5,37.1h0M21.5,37.6h0M20.5,28.2h0M26.0,64.8h0M14.1,45.6h0M27.4,62.2h0M24.5,15.6h0M9.7,55.9h0M25.6,44.3h0M32.4,66.6h0M36.5,45.0h0M25.2,60.7h0M31.6,64.5h0M31.2,64.9h0M45.2,72.8h0M21.3,62.6h0M22.7,46.2h0M27.6,16.8h0M23.3,68.4h0M23.8,68.0h0M11.9,55.4h0M24.6,32.6h0M21.8,27.0h0M22.0,27.4h0M32.5,47.0h0M41.5,52.3h0M10.5,29.6h0M41.2,45.8h0M41.8,45.5h0M15.6,36.3h0M8.0,53.4h0M7.4,53.3h0M39.0,72.5h0M39.6,72.1h0M40.9,65.4h0M24.9,21.9h0M16.6,62.3h0M18.2,56.9h0M39.6,52.9h0M50.6,72.2h0M14.1,61.9h0M18.1,56.8h0M33.7,73.4h0M33.4,73.9h0M18.4,64.4h0M8.2,44.8h0M9.0,43.2h0M8.0,49.0h0M29.8,31.6h0M12.2,19.1h0M20.6,57.3h0M56.6,66.5h0M30.9,69.2h0M45.8,73.9h0M45.2,73.9h0M30.2,57.0h0M13.3,45.8h0M43.7,60.8h0M44.2,60.6h0M32.8,66.8h0M27.9,17.6h0M27.6,17.2h0M41.0,71.9h0M56.6,64.0h0M51.2,67.0h0M8.4,17.7h0M28.8,45.6h0M21.2,63.7h0M41.5,67.3h0M18.8,57.2h0M21.1,11.1h0M42.2,64.7h0M20.8,61.7h0M32.5,33.9h0M24.5,39.6h0M32.1,71.3h0M9.1,45.6h0M9.4,45.2h0M33.4,71.3h0M33.2,71.8h0M38.9,57.3h0M14.5,50.6h0M28.9,54.1h0M12.2,28.2h0M45.3,51.2h0M26.2,50.7h0M26.8,50.9h0M39.2,49.4h0M28.5,46.2h0M11.6,17.8h0M20.8,29.0h0M13.4,21.5h0M14.0,21.7h0M31.4,40.0h0M32.0,39.9h0M16.0,60.7h0M26.3,46.1h0M13.7,56.4h0M11.4,7.1h0M25.1,32.2h0M33.6,37.0h0M34.1,37.2h0M31.2,30.3h0" stroke="#a88070" stroke-width="0.8" stroke-linecap="round"/><path d="M52.3,53.9h0M15.6,57.0h0M12.8,36.4h0M37.0,47.0h0M7.9,24.2h0M21.6,67.0h0M41.3,41.7h0M20.3,10.8h0M24.0,13.6h0M24.2,14.4h0M45.4,55.3h0M14.5,54.8h0M47.6,64.3h0M22.6,15.1h0M40.0,74.2h0M43.2,55.5h0M7.8,15.3h0M23.7,20.3h0M24.7,61.9h0M27.9,46.0h0M6.7,38.6h0M52.4,61.3h0M51.0,57.9h0M12.0,34.1h0M34.4,63.6h0M30.9,62.4h0M36.8,65.4h0M20.8,20.8h0M10.5,26.7h0M52.3,59.0h0M7.4,48.6h0M10.2,41.4h0M33.7,76.3h0M33.4,77.1h0M54.8,62.0h0M54.0,61.7h0M26.4,18.5h0M13.7,14.1h0M21.2,51.1h0M12.7,34.0h0M17.6,50.8h0M20.1,8.1h0M17.1,20.6h0M19.9,64.3h0M15.6,61.3h0M23.4,42.7h0M23.4,31.4h0M16.0,23.7h0M38.4,45.9h0M24.8,39.0h0M48.5,76.5h0M52.5,59.0h0M52.4,58.2h0M48.9,57.9h0M10.5,15.0h0M29.4,51.6h0M22.0,14.7h0M38.8,44.5h0M35.6,65.5h0M24.6,39.0h0M24.3,39.7h0M24.7,39.9h0M31.1,75.2h0M30.1,20.7h0M12.2,39.1h0M12.7,38.4h0M36.2,34.6h0M36.6,75.9h0M51.8,61.0h0M15.0,16.2h0M22.0,55.4h0M42.3,66.6h0M52.4,56.4h0M16.9,10.5h0M57.4,72.4h0M47.5,74.5h0M48.3,74.0h0M11.6,17.7h0M23.7,44.3h0M23.2,45.0h0M34.2,65.3h0M11.5,46.0h0M48.5,56.5h0M24.1,24.0h0M49.0,58.3h0M24.9,52.3h0M14.7,21.1h0M13.8,45.2h0M18.9,39.0h0M40.4,60.4h0M15.5,44.5h0M22.2,56.9h0M17.7,31.9h0M40.6,44.5h0M57.8,65.9h0M21.9,58.3h0M44.9,71.2h0M23.5,64.9h0M20.0,19.3h0M17.7,28.3h0M5.3,37.3h0M17.9,7.4h0M24.0,39.0h0M11.2,18.8h0M46.9,71.0h0M52.2,76.8h0M18.8,39.4h0M39.3,73.3h0M8.8,16.4h0M44.7,74.7h0M44.9,47.3h0M35.7,45.6h0M37.1,54.2h0M32.2,25.7h0M15.4,65.0h0M43.9,68.3h0M26.8,35.5h0M19.8,22.4h0M51.8,57.5h0M52.6,58.0h0M47.9,55.1h0M23.3,41.7h0M20.0,30.7h0M22.5,46.5h0M32.4,64.4h0M58.7,64.3h0M38.0,70.5h0M37.6,69.8h0" stroke="#c06058" stroke-width="1.6" stroke-linecap="round"/><path d="M21.0,43.8h0M10.7,13.8h0M10.5,13.3h0M48.8,55.9h0M53.0,53.8h0M52.9,68.6h0M18.9,25.3h0M18.4,25.3h0M19.7,11.2h0M38.9,73.2h0M19.6,58.3h0M19.9,58.8h0M29.6,75.2h0M17.0,15.6h0M17.2,15.0h0M22.0,14.7h0M8.7,21.5h0M49.4,63.4h0M49.8,63.7h0M47.8,55.4h0M19.2,58.7h0M43.6,54.9h0M23.1,20.2h0M14.9,12.8h0M26.5,19.8h0M43.5,57.0h0M30.2,31.5h0M30.7,31.7h0M27.9,73.0h0M30.5,62.9h0M37.5,65.7h0M34.7,44.8h0M35.2,45.0h0M28.5,31.3h0M28.4,30.8h0M7.3,47.9h0M27.2,24.9h0M27.8,25.1h0M19.0,17.0h0M19.4,17.4h0M20.0,27.7h0M26.6,19.2h0M13.8,44.5h0M13.4,44.0h0M19.3,8.0h0M20.6,64.4h0M30.4,29.2h0M21.1,35.0h0M21.3,32.6h0M11.6,35.8h0M28.5,40.4h0M29.1,40.4h0M41.1,63.0h0M12.6,21.8h0M24.4,38.3h0M45.2,66.1h0M45.7,65.8h0M25.3,15.3h0M10.1,14.3h0M29.5,50.8h0M33.3,69.3h0M39.3,44.9h0M10.0,10.7h0M9.5,10.6h0M34.8,65.8h0M5.6,30.1h0M5.6,30.7h0M32.6,55.7h0M7.8,50.0h0M32.8,33.4h0M36.5,58.1h0M36.6,57.5h0M20.4,54.9h0M21.0,54.8h0M37.9,47.0h0M37.4,47.3h0M36.0,35.3h0M41.2,47.2h0M35.9,75.7h0M51.2,60.5h0M32.0,34.0h0M31.4,34.1h0M17.7,66.9h0M59.6,66.1h0M60.1,66.2h0M41.7,54.8h0M16.2,10.1h0M39.7,36.9h0M39.9,36.2h0M43.2,59.0h0M43.5,58.5h0M11.4,16.9h0M33.4,65.4h0M28.1,56.5h0M28.8,56.5h0M11.1,45.4h0M47.8,56.4h0M28.3,36.1h0M27.8,35.9h0M34.3,45.9h0M34.9,46.2h0M18.1,64.6h0M18.6,64.2h0M35.8,62.7h0M35.2,62.7h0M39.3,44.1h0M48.5,57.7h0M6.2,43.6h0M38.2,72.7h0M38.8,72.6h0M25.6,52.5h0M13.0,44.9h0M34.7,49.8h0M41.1,60.4h0M36.4,46.1h0M21.6,56.8h0M38.2,46.8h0M52.9,74.3h0M27.0,28.2h0M18.4,31.4h0M41.3,44.3h0M17.4,43.1h0M16.8,43.1h0M11.7,44.3h0M21.4,58.8h0M38.5,59.1h0M7.5,50.2h0M4.7,37.8h0M17.3,6.9h0M24.4,38.4h0M10.4,18.8h0M46.3,70.4h0M52.0,76.1h0M9.2,15.9h0M35.8,46.4h0M14.8,24.4h0M15.2,24.1h0M9.4,19.2h0M18.2,53.2h0M18.4,52.6h0M55.5,75.3h0M55.9,75.8h0M15.9,64.5h0M28.5,74.4h0M27.9,74.2h0M43.4,68.9h0M47.6,75.4h0M35.0,70.2h0M22.0,51.4h0M22.0,50.9h0M22.9,37.1h0M23.1,36.6h0M51.2,71.0h0M51.6,71.4h0M13.1,19.3h0M12.6,19.0h0M38.6,51.3h0M23.1,41.0h0M47.2,50.1h0M46.8,50.6h0M21.7,46.2h0M17.9,37.6h0M17.3,37.4h0" stroke="#c06058" stroke-width="0.8" stroke-linecap="round"/></g><use href="#lf" fill="none" stroke="#8a48c8" stroke-width="0.8"/></g>
<g transform="translate(332.20,182.30)"><use href="#lf" fill="#df6670"/><g clip-path="url(#in0)"><use href="#lf" fill="#df6670"/><path d="M30.1,61.5h0M59.1,73.1h0M15.8,41.7h0M30.4,56.7h0M16.3,65.4h0M17.3,38.0h0M12.8,10.3h0M26.7,71.9h0M19.1,20.6h0M48.6,74.2h0M28.7,27.8h0M16.4,59.9h0M23.9,33.8h0M10.6,11.7h0M8.2,25.2h0M42.1,75.2h0M37.1,73.7h0M17.5,24.7h0M17.0,18.6h0M19.0,61.8h0M26.3,25.4h0M48.4,59.7h0M18.8,53.5h0M50.3,68.8h0M36.2,39.0h0M15.1,48.4h0M41.1,65.1h0M14.8,58.0h0M21.4,29.4h0M35.0,65.8h0M43.3,62.5h0M18.3,29.9h0M28.4,19.5h0M17.4,29.0h0M46.9,75.9h0M16.7,10.5h0M56.9,65.3h0M28.6,39.5h0M14.1,32.5h0M15.8,29.4h0M9.6,27.8h0M21.4,70.6h0M37.3,68.8h0M57.2,72.7h0M36.0,73.3h0M20.2,51.4h0M38.2,38.1h0M13.8,9.3h0M21.2,46.7h0M49.6,52.4h0M26.1,17.1h0M39.2,52.4h0M26.8,59.7h0M14.0,27.6h0M24.1,22.1h0M26.7,39.8h0M13.2,17.3h0M26.0,57.6h0M32.8,36.6h0M50.8,51.9h0M38.1,61.3h0M29.3,32.9h0M28.4,34.0h0M15.7,50.6h0M14.4,58.5h0M28.2,50.7h0M40.3,42.2h0M14.7,59.0h0M35.3,30.9h0M24.6,71.9h0M26.4,33.5h0M40.6,38.9h0M17.5,57.1h0M41.8,61.3h0M29.4,27.6h0M17.1,40.9h0M18.8,32.3h0M23.3,61.3h0M39.8,51.4h0M26.9,25.8h0M19.7,38.2h0M13.3,60.9h0M19.9,50.3h0M12.0,29.0h0" stroke="#86a090" stroke-width="2.4" stroke-linecap="round"/><path d="M15.9,8.0h0M42.9,66.7h0M60.0,72.3h0M44.9,62.5h0M44.5,63.3h0M8.0,43.5h0M29.4,57.6h0M17.2,36.8h0M15.3,38.3h0M23.1,69.0h0M24.9,33.6h0M40.7,50.1h0M39.8,50.5h0M52.7,68.6h0M53.3,69.2h0M25.5,72.2h0M17.0,37.2h0M28.2,58.3h0M12.2,34.4h0M26.9,36.7h0M51.6,63.5h0M16.5,42.1h0M15.6,15.9h0M38.2,33.9h0M35.5,76.0h0M16.7,55.3h0M15.9,54.9h0M27.4,33.7h0M28.2,34.0h0M23.5,28.4h0M24.0,27.7h0M8.0,34.4h0M29.4,34.3h0M11.2,23.4h0M15.6,61.0h0M11.1,55.2h0M30.6,25.4h0M9.6,11.1h0M6.5,34.0h0M27.1,22.8h0M26.6,23.7h0M16.6,58.7h0M16.7,57.8h0M13.7,48.1h0M43.1,75.8h0M17.8,32.2h0M17.5,31.3h0M31.2,62.7h0M30.7,61.9h0M14.6,19.0h0M36.3,76.1h0M9.8,47.3h0M10.6,48.0h0M36.4,74.5h0M12.2,15.2h0M16.3,25.2h0M6.3,25.4h0M7.3,25.2h0M7.7,39.6h0M7.1,38.7h0M50.8,55.8h0M15.9,19.1h0M35.5,31.9h0M34.9,32.7h0M21.6,12.0h0M20.6,12.5h0M35.5,69.3h0M18.0,61.4h0M45.0,74.4h0M9.6,19.2h0M19.6,12.2h0M20.4,12.4h0M39.4,64.7h0M21.2,27.6h0M21.3,26.7h0M30.4,29.5h0M49.4,59.1h0M19.8,21.8h0M35.6,65.2h0M12.9,62.3h0M12.1,61.5h0M42.7,75.2h0M42.6,76.2h0M10.9,34.3h0M11.7,33.7h0M18.7,43.4h0M14.0,49.0h0M43.1,53.0h0M43.9,52.8h0M50.9,65.7h0M51.9,65.9h0M34.0,37.6h0M13.7,57.6h0M9.2,38.5h0M8.3,39.1h0M34.0,51.5h0M20.4,28.8h0M36.0,65.3h0M36.7,61.1h0M20.6,20.3h0M20.2,21.1h0M37.0,32.7h0M27.9,20.5h0M25.6,17.3h0M10.1,50.8h0M11.7,31.1h0M11.8,30.2h0M20.8,8.4h0M21.5,9.2h0M16.7,30.0h0M46.9,77.0h0M28.1,18.6h0M12.7,32.8h0M11.7,11.0h0M12.4,11.8h0M27.8,59.2h0M8.9,26.8h0M19.1,13.9h0M20.7,69.7h0M37.9,70.0h0M36.4,74.4h0M55.9,67.5h0M17.5,49.3h0M17.6,48.3h0M39.1,38.8h0M12.8,10.1h0M16.7,45.8h0M16.5,44.9h0M23.2,53.8h0M23.7,54.7h0M21.2,65.1h0M20.6,66.0h0M50.6,51.9h0M11.7,29.5h0M41.3,55.3h0M40.5,54.9h0M12.3,6.9h0M26.6,58.5h0M22.6,47.3h0M23.4,56.1h0M10.5,35.2h0M13.8,28.8h0M49.5,63.2h0M33.6,71.1h0M20.8,32.4h0M20.0,32.3h0M16.8,51.6h0M41.4,62.7h0M40.6,45.6h0M59.8,65.1h0M59.4,64.4h0M13.6,59.3h0M35.1,29.8h0M16.6,56.0h0M16.9,55.2h0M24.8,73.1h0M24.2,60.7h0M9.0,14.8h0M9.4,15.8h0M16.3,57.2h0M57.5,70.7h0M58.2,71.5h0M18.2,41.3h0M32.3,42.1h0M10.2,59.3h0M12.8,28.7h0M25.0,44.4h0M29.9,47.6h0M21.6,47.5h0M22.4,46.9h0M17.6,56.1h0" stroke="#86a090" stroke-width="1.6" stroke-linecap="round"/><path d="M16.4,8.6h0M52.2,63.9h0M35.2,75.3h0M30.2,24.8h0M13.8,48.8h0M9.3,50.6h0M27.2,58.7h0M11.6,30.3h0M10.7,34.4h0M32.4,41.3h0M17.6,55.3h0" stroke="#86a090" stroke-width="0.8" stroke-linecap="round"/></g><use href="#lf" fill="none" stroke="#9a60d0" stroke-width="0.8"/></g>
<g transform="translate(14.20,264.30)"><use href="#lf" fill="#ddc630"/><g clip-path="url(#in2)"><use href="#lf" fill="#d9424f"/><path d="M12.2,38.5h0M46.1,45.3h0M23.2,36.4h0M19.3,57.2h0M31.1,68.3h0M25.4,46.8h0M24.6,26.4h0M14.7,60.9h0M21.8,32.4h0M25.3,30.7h0M13.4,48.3h0" stroke="#4aa69a" stroke-width="4.0" stroke-linecap="round"/><path d="M40.8,73.3h0M6.6,24.2h0M36.0,67.9h0M15.0,19.8h0M46.4,47.3h0M20.7,11.4h0M48.4,65.9h0M8.5,56.6h0M14.3,32.6h0M16.2,35.5h0M23.6,38.3h0M26.5,43.9h0M32.6,47.7h0M19.2,59.2h0M27.5,57.9h0M10.7,56.2h0M51.8,75.7h0M15.2,56.2h0M13.6,57.3h0M31.6,70.3h0M26.9,40.4h0M23.7,45.6h0M13.6,45.5h0M28.6,66.3h0M21.1,44.4h0M30.4,36.6h0M47.2,77.2h0M15.1,49.3h0M21.4,26.6h0M18.1,23.0h0M32.8,52.8h0M37.3,67.7h0M32.9,55.8h0M31.0,56.3h0M36.4,37.3h0M29.9,66.2h0M24.4,14.0h0M21.3,43.0h0M21.5,42.6h0M25.6,24.6h0M25.7,69.5h0M30.5,46.2h0M25.7,62.4h0M34.7,34.6h0M25.6,51.3h0M14.8,9.2h0M46.5,74.5h0M47.7,75.3h0M48.2,73.4h0M28.3,48.2h0M46.3,66.5h0M7.9,45.7h0M18.3,34.4h0M13.5,62.4h0M50.7,53.6h0M36.6,48.9h0M8.7,38.7h0M34.7,28.5h0M20.8,43.3h0M16.6,15.9h0M21.2,53.4h0M19.3,52.7h0M19.4,36.7h0M15.2,35.3h0M17.6,47.7h0M20.7,27.4h0M19.9,29.2h0M45.2,59.0h0M54.2,68.3h0M25.4,42.9h0M27.5,21.0h0M36.8,53.3h0M49.7,56.6h0M8.9,35.2h0M19.9,13.7h0M41.4,56.3h0M6.4,18.3h0M5.4,31.0h0M34.4,61.1h0M13.4,50.3h0M19.6,62.7h0M43.2,57.4h0M55.7,68.1h0M53.0,70.0h0M33.1,34.4h0M32.5,55.4h0M14.5,13.3h0M31.4,66.3h0M38.4,38.4h0M41.5,76.0h0M30.3,22.1h0M18.6,25.6h0M24.2,27.3h0M23.0,28.8h0M22.9,41.9h0M21.0,42.4h0" stroke="#4aa69a" stroke-width="3.2" stroke-linecap="round"/><path d="M38.6,36.2h0M33.5,43.6h0M15.7,20.6h0M14.3,20.6h0M37.9,50.1h0M38.0,48.8h0M39.6,61.8h0M20.3,52.0h0M24.7,47.5h0M25.4,43.3h0M25.7,44.6h0M28.9,18.1h0M27.5,18.6h0M12.6,32.5h0M27.7,45.1h0M38.6,61.0h0M39.9,60.3h0M10.2,57.7h0M35.4,69.8h0M55.5,70.2h0M24.0,44.8h0M13.6,47.4h0M25.3,20.3h0M41.0,63.6h0M20.8,46.2h0M32.0,37.3h0M11.7,36.8h0M29.8,19.2h0M15.6,60.9h0M47.5,51.3h0M21.4,36.9h0M20.1,37.7h0M16.6,48.5h0M23.0,27.4h0M32.8,51.2h0M12.6,18.8h0M36.1,35.7h0M52.3,75.2h0M53.7,75.7h0M21.7,54.9h0M31.5,66.7h0M19.9,43.8h0M40.7,61.3h0M45.3,59.8h0M19.1,45.5h0M29.1,30.5h0M35.9,67.7h0M12.7,54.6h0M38.6,56.5h0M29.6,41.4h0M13.6,36.8h0M28.2,71.5h0M10.9,56.1h0M21.3,20.3h0M26.8,49.7h0M39.4,73.8h0M57.2,73.0h0M55.8,73.5h0M22.1,29.1h0M22.4,30.6h0M21.7,25.1h0M15.1,44.4h0M25.8,49.4h0M16.7,43.4h0M16.6,10.1h0M28.4,46.4h0M5.9,26.9h0M47.9,65.4h0M18.1,64.4h0M19.4,33.0h0M54.9,72.1h0M27.7,39.0h0M10.8,9.1h0M36.3,50.7h0M35.8,36.0h0M20.4,41.7h0M20.4,52.0h0M24.9,35.9h0M23.6,35.4h0M17.6,52.7h0M19.8,64.8h0M26.3,19.7h0M13.8,34.1h0M29.7,34.4h0M29.0,17.9h0M44.4,58.8h0M44.5,57.5h0M53.3,65.5h0M54.7,65.0h0M23.9,43.8h0M25.8,21.2h0M16.5,64.8h0M40.8,54.7h0M18.9,22.6h0M11.3,57.0h0M42.9,57.2h0M12.4,39.7h0M21.9,20.9h0M6.8,32.3h0M33.0,60.3h0M37.8,32.6h0M17.1,61.7h0M18.7,64.0h0M43.5,63.6h0M23.4,55.2h0M22.3,56.1h0M35.1,76.1h0M43.8,75.9h0M8.5,45.2h0M27.9,62.1h0M58.9,64.9h0M8.4,48.2h0M23.4,19.2h0M33.6,70.1h0M38.2,68.1h0M29.8,47.0h0M35.6,59.9h0" stroke="#4aa69a" stroke-width="2.4" stroke-linecap="round"/><path d="M32.6,51.6h0M31.5,51.4h0M16.9,65.1h0M19.8,50.9h0M24.5,48.6h0M45.8,50.5h0M46.0,51.6h0M9.3,30.6h0M8.6,31.4h0M27.9,50.5h0M23.3,43.9h0M11.8,19.9h0M15.2,6.1h0M40.1,60.4h0M19.5,44.4h0M35.6,66.6h0M13.9,54.1h0M28.5,41.1h0M47.5,54.2h0M22.6,19.8h0M27.9,49.1h0M20.6,13.8h0M20.1,14.8h0M35.2,59.9h0M36.0,59.3h0M23.0,64.9h0M22.2,26.3h0M54.5,73.3h0M26.6,38.6h0M35.4,37.0h0M35.0,36.0h0M36.7,35.1h0M25.4,20.6h0M30.1,17.6h0M44.0,60.0h0M16.8,65.9h0M41.7,55.7h0M20.1,23.1h0M57.5,64.0h0M56.4,63.6h0M21.3,22.1h0M35.3,77.2h0M9.5,44.6h0M9.4,49.1h0M22.4,20.0h0M36.9,67.7h0M34.4,60.1h0" stroke="#4aa69a" stroke-width="1.6" stroke-linecap="round"/><path d="M13.8,5.9h0M43.9,53.2h0M19.0,27.2h0M19.3,39.3h0M45.0,66.2h0M40.7,76.5h0M24.3,12.1h0M21.5,58.4h0M29.9,53.2h0M23.4,58.7h0M30.6,30.8h0M26.8,19.2h0M21.5,52.2h0M23.0,18.7h0M35.2,43.5h0M32.3,32.9h0M40.1,56.6h0M37.2,73.9h0M40.2,53.7h0M9.1,18.9h0M16.4,17.7h0M49.2,72.0h0M38.1,45.2h0M7.9,42.3h0M22.6,71.2h0" stroke="#dca070" stroke-width="2.4" stroke-linecap="round"/><path d="M40.4,43.6h0M13.4,52.6h0M58.8,73.0h0M50.1,75.2h0M50.6,74.5h0M41.6,75.7h0M15.1,5.6h0M40.9,73.3h0M37.8,62.5h0M37.7,63.6h0M16.9,11.3h0M16.5,16.3h0M17.5,16.4h0M45.1,63.7h0M13.3,57.7h0M23.4,35.2h0M22.4,35.2h0M44.8,52.3h0M30.5,69.0h0M18.1,27.8h0M13.9,40.3h0M31.5,46.7h0M47.8,69.7h0M45.5,67.3h0M37.2,56.9h0M40.7,77.8h0M24.3,38.6h0M22.4,57.7h0M6.5,22.5h0M20.2,16.0h0M13.5,39.8h0M33.2,58.7h0M32.5,58.2h0M27.6,20.0h0M48.8,64.8h0M35.4,73.8h0M32.0,56.3h0M49.8,77.0h0M50.0,76.2h0M22.9,19.8h0M39.1,58.3h0M35.2,44.8h0M45.6,52.7h0M44.7,52.7h0M53.2,74.3h0M25.5,38.8h0M26.2,38.1h0M19.2,32.2h0M18.5,31.5h0M49.1,59.4h0M31.8,34.0h0M36.7,72.9h0M11.9,55.6h0M12.6,31.6h0M11.1,40.8h0M11.6,40.0h0M39.1,44.4h0M46.9,64.7h0M20.7,61.7h0M11.5,41.7h0M22.9,72.5h0M25.0,66.5h0M25.6,67.1h0M34.5,32.8h0M41.9,45.2h0" stroke="#dca070" stroke-width="1.6" stroke-linecap="round"/><path d="M40.9,44.2h0M41.5,76.5h0M49.1,64.1h0M46.3,64.2h0M41.6,44.5h0" stroke="#dca070" stroke-width="0.8" stroke-linecap="round"/></g><use href="#lf" fill="none" stroke="#8a48c8" stroke-width="0.8"/></g>
<g transform="translate(78.20,264.30)"><use href="#lf" fill="#ddc630"/><g clip-path="url(#in1)"><use href="#lf" fill="#d9424f"/><path d="M46.2,61.2h0M15.5,8.1h0M15.1,45.7h0M19.7,23.6h0M35.7,40.9h0M16.9,6.9h0M50.9,69.8h0M23.9,27.8h0M37.2,37.9h0M16.1,55.2h0M7.8,27.0h0M53.4,60.5h0M52.5,61.0h0M19.8,12.9h0M28.4,64.6h0" stroke="#dca070" stroke-width="5.6" stroke-linecap="round"/><path d="M14.4,28.2h0M36.3,69.7h0M13.2,45.7h0M22.4,70.5h0M49.8,62.2h0M14.3,50.2h0M39.2,34.6h0M18.8,16.1h0M15.2,6.2h0M16.1,65.7h0M12.0,57.3h0M27.9,68.9h0M24.6,36.9h0M19.6,25.6h0M21.1,29.1h0M49.0,69.8h0M38.6,33.8h0M47.2,60.8h0M11.9,24.6h0M10.0,7.0h0M39.9,40.2h0M19.0,38.3h0M41.5,40.2h0M57.9,72.3h0M40.1,40.7h0M9.6,40.9h0M20.5,50.0h0M41.9,44.4h0M47.7,77.7h0M28.9,32.0h0M29.1,18.9h0M51.1,74.1h0M55.9,69.3h0M12.8,8.0h0M13.2,6.2h0M50.9,52.1h0M34.6,70.9h0M14.6,37.3h0M13.4,38.6h0M46.9,50.2h0M7.6,46.1h0M8.9,44.8h0M11.8,7.0h0M33.3,35.9h0M7.1,19.3h0M34.0,75.5h0M35.7,74.9h0M32.1,45.2h0M5.9,26.2h0M53.9,58.7h0M17.9,12.5h0M6.4,24.8h0M19.5,58.4h0M53.3,64.2h0M53.2,74.1h0M30.3,65.0h0M11.6,21.6h0M45.5,69.5h0M6.5,30.1h0M25.3,29.9h0M22.7,61.4h0M15.8,55.2h0M26.4,41.8h0M37.3,77.1h0M34.8,56.7h0M7.7,15.9h0" stroke="#dca070" stroke-width="4.8" stroke-linecap="round"/><path d="M14.7,45.0h0M5.4,41.3h0M28.5,38.3h0M27.2,38.7h0M20.9,71.4h0M20.6,16.1h0M38.7,52.5h0M38.0,51.4h0M23.0,17.1h0M25.5,65.0h0M25.0,63.7h0M32.4,58.5h0M39.8,34.7h0M47.7,59.4h0M37.3,61.3h0M36.4,62.2h0M32.6,63.8h0M31.3,63.9h0M10.2,24.1h0M11.7,6.8h0M31.4,54.1h0M33.7,62.3h0M58.1,73.9h0M38.4,40.6h0M19.9,48.5h0M18.1,10.1h0M27.5,31.3h0M51.1,72.6h0M57.4,68.9h0M49.4,52.1h0M33.4,70.1h0M23.0,54.4h0M48.7,50.0h0M10.5,27.5h0M11.5,9.0h0M45.5,56.7h0M46.5,55.8h0M10.8,8.3h0M21.9,66.0h0M32.0,75.7h0M6.1,20.4h0M26.8,23.3h0M5.9,26.2h0M21.1,58.5h0M28.9,61.9h0M29.9,62.7h0M6.2,48.9h0M51.9,63.4h0M11.0,25.6h0M10.3,7.8h0M14.0,4.7h0M57.8,73.6h0M55.9,67.2h0M5.1,30.6h0M36.6,54.1h0M24.8,31.3h0M11.2,55.0h0M10.3,54.1h0M15.8,56.9h0M29.2,50.2h0M13.7,32.3h0M12.5,31.6h0M25.4,40.4h0M57.2,66.4h0M56.3,65.4h0M15.5,61.0h0M8.1,17.5h0M30.3,27.7h0M31.6,27.6h0M18.2,54.0h0M20.4,62.0h0" stroke="#dca070" stroke-width="4.0" stroke-linecap="round"/><path d="M34.0,63.5h0M17.8,11.2h0M31.8,74.5h0M12.0,25.7h0M10.5,6.6h0M57.1,74.4h0M35.7,53.5h0M10.9,27.4h0M16.3,52.0h0M15.3,52.1h0M14.4,60.9h0M19.7,62.9h0M41.1,70.3h0" stroke="#dca070" stroke-width="3.2" stroke-linecap="round"/><path d="M19.7,23.6h0M16.9,6.9h0M37.2,37.9h0M16.1,55.2h0M7.8,27.0h0M52.5,61.0h0" stroke="#4aa69a" stroke-width="4.0" stroke-linecap="round"/><path d="M14.4,28.2h0M46.2,61.2h0M36.3,69.7h0M13.2,45.7h0M22.4,70.5h0M14.3,50.2h0M39.2,34.6h0M18.8,16.1h0M15.5,8.1h0M16.1,65.7h0M15.1,45.7h0M12.0,57.3h0M24.6,36.9h0M19.6,25.6h0M35.7,40.9h0M21.1,29.1h0M50.9,69.8h0M49.0,69.8h0M11.9,24.6h0M10.0,7.0h0M39.9,40.2h0M23.9,27.8h0M19.0,38.3h0M41.5,40.2h0M57.9,72.3h0M40.1,40.7h0M9.6,40.9h0M20.5,50.0h0M41.9,44.4h0M47.7,77.7h0M28.9,32.0h0M12.8,8.0h0M14.6,37.3h0M46.9,50.2h0M7.6,46.1h0M11.8,7.0h0M33.3,35.9h0M34.0,75.5h0M32.1,45.2h0M5.9,26.2h0M53.4,60.5h0M19.8,12.9h0M17.9,12.5h0M19.5,58.4h0M53.3,64.2h0M53.2,74.1h0M28.4,64.6h0M30.3,65.0h0" stroke="#4aa69a" stroke-width="3.2" stroke-linecap="round"/><path d="M14.7,45.0h0M5.4,41.3h0M28.5,38.3h0M20.9,71.4h0M49.8,62.2h0M20.6,16.1h0M15.2,6.2h0M27.9,68.9h0M38.7,52.5h0M23.0,17.1h0M25.5,65.0h0M32.4,58.5h0M38.6,33.8h0M39.8,34.7h0M47.2,60.8h0M47.7,59.4h0M37.3,61.3h0M32.6,63.8h0M10.2,24.1h0M11.7,6.8h0M31.4,54.1h0M33.7,62.3h0M58.1,73.9h0M38.4,40.6h0M19.9,48.5h0M18.1,10.1h0M27.5,31.3h0M29.1,18.9h0M51.1,74.1h0M51.1,72.6h0M55.9,69.3h0M57.4,68.9h0M13.2,6.2h0M50.9,52.1h0M49.4,52.1h0M34.6,70.9h0M33.4,70.1h0M23.0,54.4h0M13.4,38.6h0M48.7,50.0h0M10.5,27.5h0M8.9,44.8h0M11.5,9.0h0M45.5,56.7h0M10.8,8.3h0M21.9,66.0h0M32.0,75.7h0M7.1,19.3h0M6.1,20.4h0M35.7,74.9h0M53.9,58.7h0M26.8,23.3h0M6.4,24.8h0M5.9,26.2h0M21.1,58.5h0M28.9,61.9h0M6.2,48.9h0M51.9,63.4h0" stroke="#4aa69a" stroke-width="2.4" stroke-linecap="round"/><path d="M27.2,38.7h0M38.0,51.4h0M25.0,63.7h0M36.4,62.2h0M31.3,63.9h0M34.0,63.5h0M17.8,11.2h0M46.5,55.8h0M31.8,74.5h0M29.9,62.7h0" stroke="#4aa69a" stroke-width="1.6" stroke-linecap="round"/><path d="M11.6,21.6h0M45.5,69.5h0M22.7,61.4h0M15.8,55.2h0M26.4,41.8h0M37.3,77.1h0M34.8,56.7h0M7.7,15.9h0" stroke="#4a88ad" stroke-width="3.2" stroke-linecap="round"/><path d="M10.3,7.8h0M14.0,4.7h0M55.9,67.2h0M6.5,30.1h0M5.1,30.6h0M25.3,29.9h0M24.8,31.3h0M11.2,55.0h0M15.8,56.9h0M29.2,50.2h0M13.7,32.3h0M12.5,31.6h0M25.4,40.4h0M57.2,66.4h0M8.1,17.5h0M30.3,27.7h0M20.4,62.0h0" stroke="#4a88ad" stroke-width="2.4" stroke-linecap="round"/><path d="M11.0,25.6h0M12.0,25.7h0M10.5,6.6h0M57.8,73.6h0M57.1,74.4h0M36.6,54.1h0M35.7,53.5h0M10.9,27.4h0M10.3,54.1h0M16.3,52.0h0M15.3,52.1h0M56.3,65.4h0M15.5,61.0h0M14.4,60.9h0M31.6,27.6h0M18.2,54.0h0M19.7,62.9h0M41.1,70.3h0" stroke="#4a88ad" stroke-width="1.6" stroke-linecap="round"/></g><use href="#lf" fill="none" stroke="#b04060" stroke-width="0.8"/></g>
<g transform="translate(141.20,264.30)"><use href="#lf" fill="#ddc630"/><g clip-path="url(#in2)"><use href="#lf" fill="#d9424f"/><path d="M27.3,39.2h0M27.6,34.0h0M25.6,21.2h0M29.2,45.6h0M7.9,46.5h0M8.0,27.6h0M25.9,67.9h0M22.7,24.6h0M8.7,50.7h0M30.7,62.6h0M45.1,57.9h0M22.3,17.7h0M39.1,41.3h0M15.7,53.4h0M37.3,46.7h0M40.4,40.6h0M26.6,31.9h0M13.2,62.9h0M19.5,42.0h0M12.9,5.5h0M54.7,59.5h0M40.3,56.3h0M36.6,73.0h0M27.0,59.0h0M31.8,65.4h0M12.2,33.8h0M10.5,34.8h0M45.4,72.2h0M39.9,65.2h0M40.5,59.6h0M37.2,57.6h0M21.0,54.2h0M30.3,27.0h0M16.3,21.8h0M27.6,26.3h0M17.7,6.4h0M9.7,24.8h0M33.1,39.8h0M17.2,62.9h0M17.2,64.5h0M19.9,55.2h0M44.0,70.6h0M10.8,10.0h0M22.3,32.9h0M45.5,62.0h0M49.2,67.1h0M43.0,64.9h0M18.7,38.8h0M32.7,56.8h0M43.3,58.7h0M44.2,59.9h0M15.7,62.1h0M34.5,66.0h0M18.9,39.3h0M12.8,43.5h0M10.2,40.3h0M35.3,59.7h0M16.3,13.2h0M51.1,67.7h0M11.7,21.5h0M20.2,62.8h0M17.2,60.8h0M50.0,58.9h0M17.9,57.4h0M32.6,37.3h0M39.5,72.3h0M19.7,64.1h0M45.6,49.1h0M43.2,70.6h0M17.5,65.4h0M10.6,8.8h0M29.9,65.7h0M15.1,37.2h0M40.1,63.2h0M29.7,38.1h0M32.0,35.8h0M15.6,40.0h0M23.1,56.2h0M17.9,61.6h0M15.8,21.6h0M29.8,36.9h0" stroke="#4aa69a" stroke-width="3.2" stroke-linecap="round"/><path d="M7.9,22.1h0M39.2,49.9h0M27.3,35.6h0M24.7,19.7h0M8.2,48.2h0M30.3,71.0h0M31.2,69.7h0M25.7,69.8h0M22.9,26.3h0M43.1,62.8h0M30.5,60.8h0M45.4,47.7h0M46.9,48.1h0M35.5,49.5h0M7.9,12.5h0M23.3,36.1h0M8.8,15.2h0M43.4,65.5h0M34.0,54.6h0M48.4,53.9h0M46.9,54.2h0M59.1,66.9h0M14.1,53.2h0M15.2,61.3h0M41.3,42.1h0M27.6,33.4h0M10.5,51.8h0M36.5,43.6h0M26.4,49.7h0M19.8,37.4h0M28.1,47.1h0M21.8,46.0h0M22.3,44.8h0M19.6,40.4h0M14.4,6.0h0M13.8,32.8h0M54.8,57.6h0M16.4,9.8h0M35.7,57.1h0M38.5,73.5h0M26.9,57.1h0M20.7,32.0h0M32.3,67.1h0M60.0,66.8h0M36.3,31.5h0M29.7,18.7h0M56.7,65.0h0M39.8,58.2h0M21.6,55.9h0M12.0,11.0h0M31.1,25.6h0M14.6,22.6h0M15.7,14.4h0M16.9,15.0h0M37.9,37.2h0M26.6,24.8h0M32.5,72.8h0M30.4,43.1h0M26.1,59.3h0M23.4,11.8h0M32.0,38.7h0M16.7,61.1h0M16.3,62.8h0M25.7,70.3h0M16.5,59.1h0M18.9,8.1h0M54.2,63.2h0M31.4,45.7h0M42.5,66.3h0M43.9,66.6h0M10.5,19.8h0M21.7,55.8h0M42.8,72.1h0M12.4,10.4h0M49.5,66.2h0M5.6,33.1h0M29.8,66.7h0M48.0,50.6h0M24.9,45.8h0M24.4,12.0h0M23.0,11.5h0M44.5,65.1h0M15.8,16.9h0M46.8,68.9h0M19.7,40.6h0M25.9,44.3h0M22.4,10.1h0M58.0,72.4h0M16.7,14.7h0M8.4,16.4h0M11.3,38.8h0M24.9,25.7h0M16.3,15.0h0M24.3,59.6h0M25.5,60.6h0M50.7,53.8h0M49.4,54.5h0M18.7,62.2h0M41.1,47.4h0M16.1,62.3h0M6.9,27.7h0M38.7,70.7h0M42.9,72.3h0M35.2,72.0h0M20.2,67.6h0M15.4,35.5h0M58.1,70.8h0M29.1,72.8h0M40.1,64.9h0M25.8,71.6h0M25.3,72.9h0M30.1,35.6h0M42.8,44.2h0M34.7,71.1h0M25.6,38.4h0M30.4,29.4h0M7.4,36.1h0" stroke="#4aa69a" stroke-width="2.4" stroke-linecap="round"/><path d="M7.6,23.4h0M40.6,49.8h0M10.5,17.8h0M9.9,18.7h0M8.8,11.5h0M7.7,15.2h0M11.4,50.8h0M36.7,44.7h0M23.3,28.2h0M24.3,28.7h0M7.3,40.2h0M48.5,68.2h0M47.8,69.0h0M17.1,10.6h0M35.3,56.1h0M35.4,30.8h0M20.1,47.3h0M10.8,10.6h0M10.6,31.2h0M11.5,30.8h0M54.5,63.7h0M26.3,60.6h0M23.4,13.1h0M17.0,51.0h0M17.1,60.1h0M10.3,21.1h0M6.3,34.1h0M42.7,68.8h0M42.8,67.7h0M35.2,51.3h0M36.3,51.2h0M35.9,53.6h0M35.3,54.4h0M42.2,48.5h0M41.6,47.5h0M41.5,48.6h0M7.4,26.6h0M35.2,70.8h0M57.4,71.8h0M30.4,72.7h0M13.1,15.4h0M12.1,15.8h0M11.0,34.8h0M11.7,35.5h0M42.6,42.9h0" stroke="#4aa69a" stroke-width="1.6" stroke-linecap="round"/><path d="M28.3,42.9h0M12.2,35.8h0M15.5,40.7h0M31.7,32.0h0M32.5,45.2h0M15.7,28.2h0M24.5,66.2h0M47.6,47.8h0M28.3,63.3h0M10.9,13.0h0M12.2,44.9h0M17.5,35.6h0M19.8,10.2h0" stroke="#4a88ad" stroke-width="3.2" stroke-linecap="round"/><path d="M11.9,16.9h0M20.0,64.5h0M28.6,39.7h0M8.4,13.2h0M17.2,41.6h0M41.7,45.5h0M36.7,54.3h0M36.5,55.8h0M28.4,32.2h0M19.4,29.0h0M34.6,68.7h0M13.6,48.8h0M10.0,18.4h0M9.0,19.5h0M40.9,39.1h0M54.1,70.5h0M52.1,64.7h0M52.8,63.3h0M19.8,39.2h0M18.6,38.3h0M8.1,34.9h0M31.5,64.1h0M49.2,48.4h0M14.5,53.3h0M18.6,21.1h0M8.4,10.8h0M14.0,45.0h0M8.8,34.7h0M21.1,58.0h0M21.5,56.7h0M20.5,22.6h0M21.6,23.6h0M17.4,37.2h0M28.8,36.6h0M30.1,36.9h0M21.3,22.0h0M49.7,77.8h0M20.3,61.5h0M21.6,61.0h0M18.3,9.5h0M49.1,55.8h0M34.7,32.9h0M17.5,31.0h0M10.2,44.7h0M11.6,44.2h0M18.6,68.4h0" stroke="#4a88ad" stroke-width="2.4" stroke-linecap="round"/><path d="M21.2,9.6h0M19.0,63.7h0M39.2,63.4h0M40.2,63.5h0M12.6,27.8h0M11.9,27.1h0M32.8,54.3h0M15.8,55.0h0M10.6,32.7h0M13.8,9.2h0M28.8,33.4h0M33.6,69.2h0M30.0,44.9h0M29.1,45.4h0M40.0,70.7h0M39.6,69.8h0M39.7,39.0h0M55.3,70.1h0M18.2,7.7h0M7.0,34.6h0M30.7,65.1h0M11.1,40.3h0M19.7,21.3h0M13.0,20.0h0M22.7,13.4h0M36.8,50.7h0M13.4,37.6h0M14.0,25.1h0M8.4,13.8h0M37.2,31.4h0M50.9,77.3h0M29.2,59.6h0M52.7,71.4h0M52.9,70.4h0M49.7,54.8h0" stroke="#4a88ad" stroke-width="1.6" stroke-linecap="round"/><path d="M13.0,27.1h0M19.9,8.4h0M37.5,47.6h0M18.4,50.0h0M12.2,61.8h0M34.8,53.5h0M23.7,63.6h0M9.4,20.1h0M14.6,64.7h0M24.6,66.4h0M30.8,68.2h0M23.7,11.5h0M17.1,62.2h0M12.9,12.0h0M17.9,55.2h0M8.8,55.3h0M32.7,30.9h0" stroke="#dca070" stroke-width="2.4" stroke-linecap="round"/><path d="M26.9,54.1h0M25.8,54.1h0M30.4,72.8h0M5.9,30.6h0M44.6,53.5h0M44.7,54.4h0M22.3,40.4h0M23.1,57.7h0M23.5,58.6h0M25.9,35.1h0M25.4,36.1h0M46.1,62.6h0M9.1,15.9h0M44.8,73.9h0M45.1,73.1h0M32.0,27.1h0M31.1,27.0h0M38.9,42.1h0M38.9,43.0h0M27.4,55.7h0M33.9,54.0h0M23.9,62.4h0M10.4,19.5h0M19.8,67.9h0M21.7,46.3h0M21.9,39.6h0M22.3,55.4h0M21.4,55.5h0M16.8,8.4h0M19.8,49.4h0M7.8,44.9h0M46.6,50.9h0M15.1,13.0h0M19.7,55.0h0M12.7,32.5h0M42.9,65.8h0M20.7,44.7h0M20.8,43.8h0M15.2,63.6h0M6.2,46.3h0M15.0,61.5h0M16.0,61.5h0M25.6,64.8h0M25.3,63.8h0M16.2,64.2h0M31.4,69.2h0M17.1,12.6h0M18.1,12.5h0M25.5,48.5h0M19.1,55.4h0M9.9,55.0h0M10.2,10.5h0M32.0,29.9h0" stroke="#dca070" stroke-width="1.6" stroke-linecap="round"/><path d="M45.4,62.2h0M22.1,40.3h0M19.9,48.6h0M45.8,50.9h0M15.8,12.6h0" stroke="#dca070" stroke-width="0.8" stroke-linecap="round"/></g><use href="#lf" fill="none" stroke="#8a48c8" stroke-width="0.8"/></g>
<g transform="translate(205.20,264.30)"><use href="#lf" fill="#ddc630"/><g clip-path="url(#in2)"><use href="#lf" fill="#ddc630"/><path d="M8.1,17.5h0M26.6,36.8h0M33.9,33.3h0M31.9,24.0h0" stroke="#4a88ad" stroke-width="4.0" stroke-linecap="round"/><path d="M20.5,50.0h0M21.3,59.3h0M9.6,24.1h0M16.3,47.1h0M25.1,53.6h0M17.6,25.7h0M45.5,63.9h0M12.7,14.8h0M22.1,11.5h0M21.0,47.9h0M30.6,20.2h0M19.4,40.6h0M47.5,77.7h0M35.0,38.7h0M45.7,73.5h0M15.3,14.9h0M25.5,47.8h0M25.3,19.6h0M29.8,48.5h0M39.0,34.5h0M26.8,38.8h0M50.4,67.2h0M50.4,67.9h0M10.8,11.3h0M12.1,11.3h0M27.4,32.7h0M32.8,29.9h0M54.6,59.1h0M6.2,24.9h0M33.9,70.0h0M25.1,61.5h0M38.2,62.3h0M35.7,34.0h0M27.1,34.3h0M17.1,30.7h0M10.6,31.8h0M38.8,77.5h0M12.5,12.7h0M42.0,73.1h0M24.8,34.7h0M24.5,42.3h0M44.0,78.2h0M31.2,21.5h0M19.7,40.7h0M16.7,14.0h0M43.6,60.7h0M32.4,58.4h0M38.5,65.0h0M7.3,46.4h0M31.8,26.0h0M10.3,8.2h0M31.5,21.0h0M16.4,32.8h0M13.3,8.8h0M14.7,64.9h0M12.2,35.9h0M12.7,47.2h0M29.8,60.6h0M27.8,33.9h0" stroke="#4a88ad" stroke-width="3.2" stroke-linecap="round"/><path d="M12.7,32.6h0M13.2,34.2h0M32.7,62.2h0M33.9,63.1h0M21.6,61.0h0M42.1,45.2h0M26.8,73.0h0M14.3,39.8h0M6.1,41.9h0M16.1,56.4h0M16.9,55.1h0M49.8,76.2h0M18.0,62.1h0M45.8,62.2h0M14.2,14.0h0M21.8,9.9h0M21.8,46.1h0M45.9,77.9h0M13.3,19.0h0M26.6,48.8h0M34.0,71.3h0M45.4,72.0h0M14.3,13.4h0M47.0,75.8h0M21.7,8.6h0M28.3,48.1h0M14.6,53.6h0M22.8,70.5h0M39.5,36.3h0M23.9,65.5h0M42.8,57.5h0M12.5,10.8h0M10.6,11.4h0M26.5,34.0h0M40.9,43.2h0M31.8,31.2h0M23.3,66.0h0M8.7,14.3h0M7.6,13.4h0M20.9,29.1h0M17.6,34.7h0M18.7,35.8h0M56.1,59.8h0M4.6,24.9h0M36.8,65.2h0M32.3,70.7h0M26.2,62.7h0M38.9,60.5h0M25.3,33.8h0M7.3,17.0h0M34.3,40.1h0M33.2,39.2h0M24.0,56.1h0M17.2,7.5h0M17.1,28.9h0M59.1,73.6h0M11.7,30.3h0M24.3,55.4h0M21.3,50.9h0M24.8,26.2h0M13.4,16.1h0M40.2,76.4h0M19.7,53.6h0M19.0,54.8h0M27.1,27.3h0M30.1,26.4h0M6.7,41.8h0M41.4,71.3h0M25.8,63.6h0M42.2,63.4h0M24.3,36.3h0M10.5,34.6h0M26.4,30.9h0M31.9,23.0h0M21.3,40.5h0M17.9,12.5h0M19.3,43.6h0M19.9,42.3h0M46.7,61.9h0M15.2,65.2h0M6.4,47.3h0M7.0,46.0h0M31.7,26.0h0M52.9,65.3h0M21.3,18.7h0M37.9,66.7h0M8.3,45.2h0M8.5,7.8h0M30.2,20.0h0M11.7,8.8h0M58.3,72.2h0M28.2,60.9h0" stroke="#4a88ad" stroke-width="2.4" stroke-linecap="round"/><path d="M14.0,33.1h0M14.3,33.6h0M15.4,39.5h0M51.1,76.3h0M22.8,27.8h0M15.4,52.6h0M24.4,64.4h0M41.9,44.2h0M23.8,65.0h0M43.6,68.4h0M43.0,69.3h0M21.0,11.8h0M18.5,7.8h0M24.1,54.2h0M37.9,69.0h0M37.5,70.0h0M28.3,26.8h0M25.2,64.8h0M14.5,21.7h0M14.9,66.5h0M30.9,26.7h0M54.1,64.8h0M20.1,19.0h0M40.1,68.2h0" stroke="#4a88ad" stroke-width="1.6" stroke-linecap="round"/><path d="M32.2,46.9h0M13.4,62.8h0M44.3,48.4h0M54.7,65.8h0M24.9,40.6h0M15.5,47.3h0M14.2,53.3h0M52.0,56.8h0M42.8,68.1h0M33.7,50.2h0M28.1,70.7h0M53.0,62.5h0M26.0,40.9h0M39.8,62.5h0M26.7,36.1h0M47.1,72.2h0M9.6,52.4h0M57.7,63.1h0M30.5,23.0h0M46.4,58.9h0M33.2,74.6h0M42.7,51.0h0M44.1,60.5h0M41.1,55.2h0M8.2,15.3h0M22.8,17.5h0M18.3,27.4h0" stroke="#4aa69a" stroke-width="3.2" stroke-linecap="round"/><path d="M9.8,21.8h0M31.6,69.6h0M40.7,45.5h0M33.8,52.8h0M24.5,25.3h0M28.0,21.7h0M37.5,56.9h0M32.5,38.4h0M45.8,48.0h0M55.9,66.9h0M44.9,71.9h0M34.5,57.8h0M34.0,56.5h0M6.4,31.4h0M25.3,67.5h0M39.8,76.8h0M31.1,46.3h0M54.8,59.9h0M13.9,48.1h0M31.2,70.2h0M21.4,51.3h0M12.7,53.6h0M53.1,55.5h0M14.1,55.5h0M16.1,21.1h0M16.9,19.9h0M16.8,43.0h0M28.2,22.8h0M43.2,44.3h0M44.6,44.2h0M28.8,17.9h0M29.4,16.6h0M18.6,38.5h0M51.6,61.6h0M44.9,62.1h0M51.0,62.4h0M33.6,35.5h0M38.2,36.1h0M11.2,43.0h0M24.4,62.1h0M11.1,51.6h0M20.9,47.0h0M21.3,15.9h0M28.3,23.8h0M20.7,63.0h0M33.0,40.2h0M10.3,9.1h0M11.2,10.1h0M25.5,64.1h0M48.0,71.6h0M49.1,72.1h0M47.2,57.5h0M33.4,71.5h0M32.0,71.9h0M52.0,75.7h0M53.1,74.6h0M44.7,59.1h0M39.4,55.4h0M31.2,51.4h0M19.8,6.8h0M25.5,36.1h0M24.1,36.0h0M6.7,14.3h0M20.0,38.7h0M22.1,40.3h0M40.2,67.1h0M8.4,51.9h0M18.0,28.9h0" stroke="#4aa69a" stroke-width="2.4" stroke-linecap="round"/><path d="M10.4,20.8h0M32.8,69.8h0M24.4,26.5h0M36.4,57.4h0M7.5,35.1h0M46.1,72.0h0M38.8,77.6h0M31.0,27.2h0M10.3,30.1h0M16.6,40.6h0M24.4,43.2h0M23.9,42.3h0M34.0,69.6h0M33.4,68.7h0M7.4,22.2h0M6.4,21.9h0M37.0,49.3h0M37.8,50.0h0M12.6,53.2h0M25.2,48.8h0M28.2,64.7h0M9.1,44.1h0M8.7,45.0h0M39.2,70.1h0M28.4,23.9h0M21.2,59.1h0M19.9,38.3h0M34.7,35.6h0M22.1,46.4h0M26.7,63.7h0M49.3,71.7h0M37.5,55.8h0M36.9,55.1h0M34.5,63.5h0M33.8,64.3h0M33.7,49.6h0M33.0,50.3h0M34.3,28.0h0M22.2,65.7h0M21.7,64.9h0M29.9,51.7h0M9.3,53.2h0M13.5,24.3h0M12.7,24.7h0M21.1,38.1h0M34.3,36.4h0M34.8,35.6h0M21.1,41.0h0M10.6,10.6h0M9.6,51.7h0M27.7,40.9h0" stroke="#4aa69a" stroke-width="1.6" stroke-linecap="round"/><path d="M29.3,67.2h0M8.8,54.6h0M19.6,34.7h0M38.8,58.4h0M8.0,15.7h0M23.9,36.1h0M49.9,59.8h0M59.8,67.3h0M60.4,66.5h0M40.3,61.4h0M7.0,42.4h0M10.4,38.8h0M10.5,39.7h0M11.7,45.2h0M33.1,72.9h0M32.3,73.4h0M14.5,33.6h0M6.8,25.5h0M6.5,26.5h0M21.2,23.7h0M55.4,63.1h0M55.6,64.1h0M33.5,61.8h0M25.4,17.6h0M30.7,30.7h0M22.0,58.7h0M22.9,58.6h0M12.7,47.9h0M45.3,48.1h0M25.0,71.9h0M21.7,24.1h0M32.1,49.0h0" stroke="#d9424f" stroke-width="1.6" stroke-linecap="round"/><path d="M7.3,15.6h0M37.9,50.0h0M37.9,49.3h0M37.9,34.8h0M38.5,34.8h0M7.4,41.8h0M48.5,71.0h0M48.0,70.6h0M28.5,41.1h0M13.5,47.8h0M26.6,22.8h0M26.1,22.6h0M26.6,27.9h0M46.0,48.3h0M24.3,71.7h0M36.0,31.8h0M32.9,49.1h0" stroke="#d9424f" stroke-width="0.8" stroke-linecap="round"/></g><use href="#lf" fill="none" stroke="#8a48c8" stroke-width="0.8"/></g>
<g transform="translate(269.20,264.30)"><use href="#lf" fill="#a05878"/><g clip-path="url(#in2)"><use href="#lf" fill="#4da0a6"/><path d="M36.7,54.4h0M11.9,44.8h0M6.5,30.3h0M13.1,43.0h0M33.4,59.7h0M21.1,49.9h0M11.2,21.4h0M13.7,26.5h0M47.5,47.2h0M41.0,58.7h0M25.8,16.4h0" stroke="#a05878" stroke-width="3.2" stroke-linecap="round"/><path d="M18.5,27.7h0M17.8,26.5h0M35.3,62.3h0M18.0,26.7h0M37.1,62.7h0M33.4,42.0h0M28.9,57.7h0M6.7,36.8h0M20.3,52.5h0M19.9,51.1h0M29.2,36.1h0M26.2,43.1h0M21.1,27.9h0M45.5,68.5h0M34.3,51.9h0M38.1,38.2h0M9.3,15.8h0M26.3,62.7h0M28.9,28.8h0M19.0,18.0h0M53.8,55.3h0M18.1,46.6h0M18.1,45.2h0M18.5,25.0h0M18.7,26.5h0M36.0,30.6h0M35.3,31.8h0M31.5,26.3h0M41.0,51.4h0M45.7,58.0h0M54.1,70.0h0M24.9,29.0h0M26.0,30.0h0M26.7,26.8h0M44.2,45.6h0M42.8,45.2h0M44.7,50.6h0M45.9,51.2h0M11.2,58.9h0M30.2,61.8h0M13.7,50.0h0M15.0,47.4h0M37.1,46.5h0M35.9,47.4h0M22.3,48.3h0M12.0,44.0h0M30.4,49.1h0M16.7,8.0h0M18.1,8.0h0M23.5,33.0h0M25.8,30.1h0M12.5,36.2h0M5.9,27.4h0M7.0,46.5h0M33.0,61.3h0M49.3,64.7h0M8.9,38.4h0M27.5,73.4h0M42.7,77.2h0M43.8,78.2h0M28.5,23.4h0M10.4,39.4h0M11.9,38.6h0M11.5,51.2h0M34.0,42.6h0M26.5,40.8h0M21.1,48.3h0M37.6,77.4h0M36.6,73.0h0M44.5,68.4h0M43.2,67.7h0M16.6,40.5h0M30.2,44.2h0M30.4,45.7h0M35.6,32.0h0M9.5,14.1h0M26.0,64.0h0M24.9,62.9h0M42.5,57.5h0M39.6,49.7h0M40.8,50.6h0M18.9,66.5h0M36.3,55.6h0M37.0,30.9h0M37.7,32.2h0M10.5,48.1h0M8.2,18.3h0M41.1,55.0h0M13.4,35.6h0M5.7,27.7h0M10.4,32.3h0M7.0,25.0h0M22.8,22.9h0M13.2,50.3h0M12.1,51.3h0M18.9,44.0h0M28.5,35.3h0M40.4,61.0h0M40.8,62.5h0M24.1,69.0h0M21.9,43.3h0M21.9,41.9h0M9.8,48.8h0M8.2,16.3h0M47.3,54.3h0M45.7,65.9h0M29.8,41.7h0M28.5,42.2h0M13.2,24.1h0M14.7,53.7h0M29.5,21.2h0M21.3,64.4h0M15.4,49.3h0M22.1,29.9h0M25.5,17.8h0M20.1,57.4h0M13.7,11.2h0M45.1,63.0h0M18.2,60.0h0M13.9,33.0h0M32.2,45.6h0M36.5,72.1h0M26.8,33.9h0M54.0,69.6h0M6.0,30.3h0M45.4,58.6h0M21.7,68.2h0M22.5,67.1h0M26.2,47.2h0M48.8,55.1h0M37.4,57.5h0" stroke="#a05878" stroke-width="2.4" stroke-linecap="round"/><path d="M9.3,44.8h0M18.2,47.4h0M59.4,71.7h0M18.7,27.7h0M7.0,33.7h0M31.0,30.9h0M32.0,30.6h0M14.8,40.2h0M15.6,40.5h0M25.6,65.8h0M26.2,65.0h0M6.1,35.7h0M22.3,31.2h0M21.7,30.4h0M29.4,37.3h0M24.6,19.8h0M23.6,19.6h0M22.4,28.0h0M44.9,69.4h0M45.9,71.9h0M9.8,14.6h0M8.9,14.4h0M34.7,50.7h0M45.4,66.2h0M44.8,67.1h0M25.2,62.1h0M32.3,56.8h0M36.6,59.5h0M54.2,54.1h0M54.3,63.8h0M14.2,17.7h0M15.8,49.5h0M9.3,51.5h0M19.0,52.9h0M16.1,30.3h0M16.7,31.0h0M38.5,74.2h0M38.6,75.0h0M16.9,42.5h0M16.7,41.6h0M21.6,56.2h0M44.5,57.8h0M23.2,30.9h0M23.3,29.9h0M55.1,70.6h0M34.6,35.4h0M33.7,35.2h0M52.9,70.2h0M29.6,62.4h0M33.6,32.6h0M10.4,60.1h0M30.1,63.0h0M44.3,70.4h0M44.5,69.3h0M26.2,34.0h0M13.1,55.4h0M13.4,54.6h0M35.1,55.2h0M39.2,75.2h0M39.7,76.0h0M17.6,39.9h0M48.2,56.2h0M23.6,31.9h0M7.9,45.5h0M7.0,27.8h0M8.1,46.3h0M8.9,39.6h0M42.6,75.4h0M42.9,74.5h0M20.2,48.4h0M52.6,57.7h0M51.8,57.2h0M35.1,68.2h0M34.3,67.6h0M25.0,20.1h0M24.5,19.2h0M46.8,65.7h0M54.9,76.0h0M36.6,73.8h0M10.8,52.4h0M34.3,43.9h0M26.1,39.7h0M36.2,70.8h0M35.3,71.0h0M34.3,50.2h0M36.7,78.2h0M7.4,30.1h0M8.0,29.3h0M31.4,67.6h0M29.5,43.0h0M21.6,61.5h0M39.3,63.2h0M21.6,16.2h0M13.3,60.5h0M20.1,66.9h0M23.4,66.4h0M22.8,37.7h0M16.2,59.5h0M16.6,58.6h0M25.0,71.9h0M25.7,71.4h0M23.7,44.9h0M26.3,67.8h0M29.7,69.9h0M16.5,14.7h0M32.6,37.9h0M40.6,69.4h0M40.5,70.3h0M34.9,43.6h0M34.0,43.4h0M28.3,34.0h0M10.9,48.1h0M52.4,58.9h0M23.2,16.7h0M13.8,10.7h0M13.6,11.5h0M12.9,25.1h0M13.4,53.7h0M30.6,21.8h0M26.6,43.7h0M25.6,44.1h0M36.7,57.5h0M15.5,47.9h0M43.0,52.9h0M14.3,61.6h0M22.8,58.1h0M23.2,57.4h0M35.3,57.8h0M36.3,57.9h0M25.3,35.0h0M54.2,70.7h0M7.3,30.0h0M42.0,63.7h0M37.6,36.5h0M26.5,48.3h0M50.9,52.4h0M51.2,51.4h0M41.0,68.7h0M40.3,68.2h0M28.8,73.2h0M29.3,73.9h0M11.1,10.9h0M26.3,23.0h0M26.5,22.1h0" stroke="#a05878" stroke-width="1.6" stroke-linecap="round"/><path d="M9.7,44.3h0M18.0,48.2h0M6.6,34.3h0M15.4,50.2h0M18.2,40.4h0M19.7,49.0h0M55.4,76.6h0M36.3,73.1h0M40.0,63.3h0M24.1,66.1h0M25.9,67.2h0M25.4,34.3h0M42.4,64.5h0" stroke="#a05878" stroke-width="0.8" stroke-linecap="round"/></g><use href="#lf" fill="none" stroke="#a05878" stroke-width="0.8"/></g>
<g transform="translate(332.20,264.30)"><use href="#lf" fill="#c8b050"/><g clip-path="url(#in1)"><use href="#lf" fill="#a8a480"/><path d="M21.6,65.2h0M34.9,30.7h0M43.6,63.7h0M22.4,68.3h0M23.3,56.2h0M16.9,53.9h0M39.4,48.2h0M27.2,58.8h0M47.4,62.4h0M46.3,63.2h0M15.9,14.7h0M16.8,61.5h0M18.8,55.9h0M10.6,49.6h0M31.3,57.3h0M22.7,35.8h0M45.0,59.1h0M24.5,68.6h0M37.4,62.9h0M14.6,5.3h0M44.4,75.4h0M34.6,65.5h0M38.1,44.1h0M28.8,54.2h0M48.6,60.4h0M37.0,72.7h0M22.8,44.5h0M12.5,18.3h0M18.3,58.8h0M47.2,53.5h0M12.2,56.0h0M20.2,29.7h0M37.6,52.1h0M47.4,54.9h0M52.2,53.2h0M52.9,68.9h0M48.7,70.4h0M37.7,46.1h0M23.5,14.4h0M25.7,33.0h0M35.2,40.3h0M58.3,72.4h0M54.7,65.0h0M36.5,49.3h0M35.0,71.6h0M55.7,71.6h0M12.0,16.5h0M17.2,34.6h0M39.9,59.5h0M28.8,24.5h0M28.7,23.1h0M22.9,65.7h0M49.5,54.9h0M21.9,54.0h0M18.0,39.8h0M17.0,38.9h0M31.4,66.1h0M26.8,69.3h0M39.0,54.8h0M53.4,59.1h0M53.3,57.7h0M33.6,51.1h0M13.7,46.4h0M20.0,10.6h0M13.4,41.7h0M15.6,63.5h0M47.7,74.4h0M5.9,21.2h0M29.9,74.3h0M31.3,47.4h0M29.4,22.8h0M17.7,26.7h0M4.8,32.0h0M32.3,37.8h0M33.3,62.7h0M42.8,58.6h0M54.5,76.4h0M51.7,58.3h0M9.6,54.8h0M44.5,61.9h0M40.6,42.2h0M36.2,73.7h0M20.3,55.8h0M37.0,55.3h0M24.1,42.6h0M36.5,35.1h0M26.5,57.6h0M60.8,68.7h0M28.8,22.9h0M11.1,44.4h0" stroke="#b09a88" stroke-width="2.4" stroke-linecap="round"/><path d="M20.4,62.6h0M27.3,42.5h0M20.9,51.1h0M7.0,49.2h0M7.9,49.1h0M23.4,67.9h0M24.3,55.8h0M47.9,74.4h0M34.4,29.4h0M34.5,28.5h0M14.6,60.3h0M18.0,54.7h0M12.6,30.9h0M12.7,31.8h0M43.4,65.2h0M15.7,36.0h0M19.7,61.4h0M30.2,68.1h0M24.0,14.4h0M28.0,28.5h0M22.1,18.5h0M39.2,34.9h0M38.4,67.2h0M31.1,21.3h0M19.3,55.7h0M19.4,54.8h0M13.0,40.1h0M12.5,39.5h0M45.6,73.5h0M18.1,67.5h0M21.5,34.9h0M20.8,35.4h0M39.9,40.2h0M31.0,60.4h0M37.7,45.2h0M32.7,52.3h0M33.3,51.5h0M49.6,61.4h0M36.3,73.7h0M7.7,18.8h0M6.7,19.2h0M13.4,19.4h0M19.2,59.5h0M36.1,57.3h0M5.3,29.8h0M8.4,47.6h0M9.3,47.3h0M23.5,19.5h0M22.5,19.6h0M48.2,52.6h0M11.8,57.2h0M19.3,41.8h0M42.5,46.9h0M38.4,51.3h0M28.0,26.8h0M33.7,64.2h0M33.2,63.3h0M33.7,55.2h0M53.3,52.8h0M51.7,69.6h0M21.4,39.9h0M21.8,39.0h0M27.2,19.9h0M6.7,43.8h0M22.5,15.0h0M46.2,66.0h0M45.0,46.5h0M26.2,72.7h0M27.1,73.2h0M22.9,43.5h0M43.0,55.0h0M43.9,55.0h0M18.2,61.7h0M17.4,61.1h0M35.6,39.2h0M45.3,60.3h0M54.5,71.4h0M27.2,50.4h0M14.8,25.1h0M21.9,54.2h0M37.0,48.6h0M48.5,66.6h0M28.0,20.6h0M27.9,21.4h0M54.4,71.6h0M11.5,15.5h0M36.5,75.3h0M42.9,52.8h0M16.3,35.2h0M22.4,37.8h0M40.0,58.3h0M37.5,76.0h0M6.9,48.5h0M21.9,65.3h0M48.6,55.7h0M30.1,66.3h0M30.2,47.9h0M49.8,63.8h0M14.6,47.3h0M25.5,69.3h0M5.4,37.8h0M6.2,37.9h0M21.3,10.7h0M14.5,41.5h0M28.8,64.0h0M39.0,72.6h0M42.9,45.9h0M17.5,14.6h0M33.5,55.2h0M54.5,72.5h0M55.3,72.2h0M39.7,59.5h0M51.8,69.8h0M28.5,21.5h0M27.9,22.2h0M35.5,38.7h0M20.8,36.6h0M18.3,64.0h0M45.5,56.9h0M45.9,57.7h0M9.5,9.9h0M30.4,61.9h0M40.8,71.8h0M24.5,70.9h0M30.9,74.5h0M30.3,75.4h0M13.8,20.7h0M31.8,34.6h0M21.1,58.5h0M19.1,51.7h0M19.7,52.6h0M14.5,19.4h0M13.7,20.0h0M10.3,34.9h0M11.1,35.6h0M10.5,29.8h0M15.4,6.2h0M14.8,5.5h0M18.0,12.5h0M24.8,35.3h0M21.6,58.8h0M29.7,66.1h0M29.8,66.2h0M24.1,41.4h0M36.3,47.5h0M34.4,72.4h0M31.3,54.1h0M9.0,26.0h0M58.5,72.4h0M59.4,72.7h0M15.5,29.7h0M15.6,28.8h0M40.0,43.4h0M30.7,22.9h0M35.6,45.5h0M36.5,46.0h0M51.4,63.0h0M50.6,63.2h0M43.6,46.7h0M37.2,72.8h0M20.4,57.0h0M58.8,68.9h0M41.2,74.4h0M28.7,29.9h0M27.9,29.4h0M15.1,11.7h0M15.0,10.7h0M43.2,43.7h0M37.3,36.0h0M41.3,61.7h0M16.7,59.2h0M17.6,59.5h0M6.7,37.1h0M29.2,21.7h0M11.7,45.4h0" stroke="#b09a88" stroke-width="1.6" stroke-linecap="round"/><path d="M19.7,62.9h0M44.0,65.5h0M19.4,62.1h0M39.9,34.9h0M30.6,22.0h0M39.7,40.9h0M7.1,44.5h0M22.6,42.8h0M53.9,70.9h0M15.5,25.4h0M22.3,54.8h0M37.3,75.3h0M23.0,37.2h0M7.4,49.1h0M30.0,47.1h0M16.8,14.4h0M34.3,55.3h0M51.9,70.6h0M21.5,36.9h0M25.0,70.4h0M13.1,20.4h0M24.4,40.7h0M8.7,25.3h0M58.1,69.2h0" stroke="#b09a88" stroke-width="0.8" stroke-linecap="round"/><path d="M27.5,53.9h0M18.0,37.2h0M14.3,47.3h0M23.1,50.7h0M34.9,45.4h0M10.8,58.7h0M13.5,14.7h0M16.2,30.1h0M30.8,39.8h0M23.5,19.7h0M18.0,55.8h0M17.0,37.8h0M42.4,46.1h0M17.2,33.5h0M17.8,30.9h0M20.1,62.9h0M9.3,41.3h0M21.3,57.8h0M8.4,17.2h0M30.3,21.3h0M19.8,16.7h0M5.9,47.1h0M28.4,52.7h0M7.6,47.4h0M25.1,48.6h0M43.9,76.4h0M22.3,56.4h0M23.4,58.9h0M23.9,11.8h0M43.4,66.2h0M5.5,31.8h0M13.4,59.9h0M33.1,72.0h0M26.8,44.0h0M52.4,62.3h0M52.6,63.3h0M55.1,75.1h0M44.4,55.8h0M32.4,41.8h0M40.6,59.7h0M55.7,58.5h0M45.8,76.5h0M53.1,65.1h0M56.6,72.4h0" stroke="#98a890" stroke-width="2.4" stroke-linecap="round"/><path d="M26.0,42.9h0M31.1,22.3h0M7.2,20.5h0M8.0,20.0h0M15.5,46.9h0M35.9,32.5h0M22.2,50.1h0M13.6,13.5h0M34.8,61.0h0M35.8,60.8h0M16.0,31.4h0M37.2,55.7h0M36.8,56.7h0M34.4,47.5h0M34.0,46.7h0M29.6,49.9h0M30.1,50.6h0M29.7,39.2h0M30.6,60.1h0M29.7,60.0h0M30.1,73.9h0M30.1,74.9h0M13.1,45.9h0M33.6,50.1h0M24.3,18.7h0M15.4,28.4h0M19.1,55.2h0M7.2,39.7h0M5.5,40.7h0M4.7,40.3h0M35.6,76.7h0M39.4,51.0h0M34.7,65.2h0M18.0,34.5h0M17.9,29.2h0M20.7,42.1h0M21.5,42.6h0M32.2,29.8h0M29.4,35.5h0M29.4,34.6h0M25.6,27.6h0M34.5,74.3h0M34.9,75.1h0M47.1,46.9h0M46.1,47.2h0M30.1,40.1h0M30.9,39.7h0M55.4,64.4h0M16.4,11.4h0M52.7,66.4h0M52.4,65.4h0M10.6,17.6h0M20.9,44.6h0M20.9,45.5h0M25.2,43.4h0M25.9,43.9h0M53.5,76.6h0M53.6,75.6h0M19.0,15.8h0M5.1,46.3h0M24.7,13.2h0M34.6,59.1h0M34.6,60.1h0M7.3,34.1h0M6.7,39.4h0M34.0,66.3h0M24.2,49.5h0M43.4,75.2h0M18.8,20.4h0M18.5,21.2h0M20.0,17.1h0M36.9,71.1h0M53.1,55.3h0M56.1,65.7h0M44.7,56.2h0M44.8,55.2h0M36.2,31.0h0M50.7,61.0h0M50.1,61.9h0M47.7,59.6h0M47.6,60.4h0M18.7,31.9h0M18.8,26.3h0M19.0,27.1h0M24.4,59.4h0M54.7,58.4h0M35.4,38.4h0M53.6,59.8h0M42.7,67.2h0M22.7,32.0h0M9.2,53.6h0M10.0,53.2h0M46.6,52.9h0M20.8,40.4h0M20.0,41.1h0M15.2,33.4h0M40.0,64.0h0M26.0,42.5h0M33.8,71.0h0M21.5,33.2h0M25.6,44.1h0M52.1,64.3h0M17.0,64.4h0M21.7,54.8h0M44.3,55.7h0M42.6,71.1h0M43.1,61.5h0M10.0,22.0h0M40.1,44.9h0M40.9,44.0h0M24.3,72.4h0M50.7,60.7h0M41.9,59.8h0M34.5,70.7h0M35.4,70.1h0M27.6,71.0h0M23.8,13.1h0M50.5,58.4h0M49.7,57.6h0M27.0,72.7h0M16.9,65.3h0M30.8,59.4h0M5.8,47.5h0M5.6,48.4h0M26.0,37.4h0M41.4,45.5h0M40.8,46.3h0M10.3,47.4h0M9.1,24.1h0M8.1,24.1h0M46.6,77.3h0M16.6,43.6h0M17.1,42.9h0M34.1,50.3h0M16.6,50.2h0M33.0,40.5h0M10.2,29.3h0M30.2,68.9h0M12.3,28.1h0M13.3,27.8h0" stroke="#98a890" stroke-width="1.6" stroke-linecap="round"/><path d="M14.9,29.1h0M25.5,13.3h0M35.2,37.7h0M15.2,34.2h0M21.3,32.4h0M43.8,55.2h0M43.9,61.7h0M23.8,71.8h0M16.2,65.6h0M10.2,48.2h0M33.6,41.0h0" stroke="#98a890" stroke-width="0.8" stroke-linecap="round"/><path d="M33.5,26.4h0M7.6,35.7h0M8.5,35.9h0M49.4,68.6h0M50.1,69.0h0M26.6,23.0h0M30.5,62.5h0M11.8,7.0h0M11.8,7.9h0M25.5,45.8h0M20.9,44.9h0M19.9,44.8h0M46.2,68.4h0M28.5,41.3h0M59.7,71.2h0M8.6,26.6h0M44.8,62.6h0M43.9,62.6h0M9.0,36.7h0M54.9,70.7h0M54.0,70.8h0M24.2,50.0h0M22.5,17.6h0M39.9,76.5h0M45.7,52.8h0M46.6,52.8h0M12.9,17.3h0M12.1,16.9h0M17.6,67.0h0M12.6,5.3h0M13.6,5.2h0M37.3,63.1h0M37.3,62.2h0M11.1,52.6h0M10.7,45.5h0M42.5,56.2h0M16.5,18.4h0M43.3,75.6h0M21.9,12.8h0M13.1,21.4h0M23.9,50.0h0M22.9,50.2h0M12.5,56.4h0M10.1,14.2h0M20.3,68.0h0M20.0,68.8h0M30.4,47.4h0M18.4,31.8h0M53.8,64.4h0M54.4,65.0h0M54.5,72.1h0M16.5,43.5h0M39.5,76.3h0M17.1,31.3h0M16.7,30.5h0M38.7,48.2h0M38.8,47.3h0M28.5,45.2h0M25.2,60.3h0M24.3,59.9h0M36.2,66.8h0M35.4,67.3h0M20.2,40.3h0M26.6,26.3h0M31.5,40.7h0M30.5,41.0h0M24.3,16.0h0M25.2,15.5h0M7.8,41.8h0M50.3,65.3h0M23.6,67.8h0M9.2,14.2h0M10.1,14.2h0M30.0,28.5h0M17.8,48.3h0M9.4,33.2h0M10.3,32.8h0M42.5,63.7h0M15.6,56.7h0M16.0,57.6h0M28.3,50.2h0M46.8,74.1h0M45.9,73.7h0M30.9,58.2h0M30.6,59.2h0M13.2,62.6h0M27.4,71.0h0M27.6,70.0h0M17.6,15.5h0M21.3,40.2h0M32.4,71.8h0M40.7,46.3h0M40.1,45.5h0M51.7,62.7h0M28.6,28.6h0M6.2,35.1h0M46.9,52.2h0M27.4,54.0h0M27.8,54.8h0M44.4,77.0h0M22.0,29.3h0M19.6,25.6h0M31.0,60.2h0M31.5,61.0h0M51.0,77.8h0M51.9,77.4h0M52.6,55.2h0M24.3,51.3h0M24.7,50.4h0" stroke="#c8b048" stroke-width="1.6" stroke-linecap="round"/><path d="M28.2,24.7h0M25.9,23.3h0M59.5,71.9h0M33.0,43.7h0M24.8,49.8h0M23.2,17.2h0M39.9,77.3h0M35.8,47.8h0M10.0,45.3h0M23.5,43.8h0M23.3,44.3h0M19.4,55.1h0M15.1,12.4h0M10.7,13.9h0M53.9,71.7h0M22.7,59.2h0M8.1,17.1h0M8.6,16.8h0M25.9,26.3h0M58.1,61.7h0M57.6,62.1h0M17.3,52.1h0M56.6,64.1h0M50.8,64.8h0M27.5,20.9h0M21.9,61.1h0M21.3,60.9h0M24.0,67.1h0M19.1,10.9h0M18.6,10.7h0M17.0,48.3h0M25.1,47.8h0M25.5,26.9h0M24.9,26.8h0M12.6,62.0h0M20.8,39.6h0M28.6,27.9h0M6.7,34.4h0M46.3,52.6h0M59.2,66.1h0M59.3,65.4h0M34.0,36.3h0M21.6,35.5h0M52.0,55.6h0M15.5,28.0h0" stroke="#c8b048" stroke-width="0.8" stroke-linecap="round"/></g><use href="#lf" fill="none" stroke="#b09060" stroke-width="0.8"/></g>
<g transform="translate(14.20,346.30)"><use href="#lf" fill="#ddc630"/><g clip-path="url(#in4)"><use href="#lf" fill="#d9424f"/><path d="M49.5,54.0h0M37.9,57.9h0M37.7,38.8h0M58.6,69.9h0M38.5,74.5h0M32.1,40.1h0M37.8,37.2h0M16.1,29.0h0M19.1,26.7h0M5.1,36.5h0M40.3,59.9h0M10.2,38.1h0M26.8,19.0h0M56.7,68.5h0M47.0,68.7h0M30.8,54.2h0M13.0,7.8h0M26.0,55.3h0M17.2,61.8h0M24.7,14.3h0M26.1,68.7h0M14.4,9.8h0M11.9,26.9h0M18.4,39.0h0M24.7,66.7h0" stroke="#4aa69a" stroke-width="4.8" stroke-linecap="round"/><path d="M42.9,56.9h0M6.2,41.6h0M26.6,33.4h0M50.7,51.7h0M7.7,18.8h0M32.9,48.7h0M13.9,37.0h0M37.0,41.3h0M42.0,39.9h0M36.0,74.1h0M40.7,63.0h0M39.7,66.0h0M27.7,47.4h0M49.9,54.8h0M12.1,8.5h0M24.3,24.8h0M12.0,57.2h0M40.2,37.9h0M30.6,25.7h0M40.1,42.7h0M12.4,47.4h0M6.5,33.2h0M18.3,45.2h0M32.6,48.8h0M25.4,50.7h0M28.1,38.8h0M37.8,70.9h0M13.7,59.1h0M30.9,34.7h0M36.0,48.8h0M7.8,37.2h0M23.3,21.1h0M22.5,20.0h0M17.9,38.1h0M26.1,16.6h0M31.5,66.9h0M39.8,57.8h0M8.3,27.8h0M36.3,61.5h0M25.3,61.9h0M20.7,54.9h0M25.0,45.1h0M59.1,69.5h0M30.0,60.0h0M26.0,59.0h0M49.2,73.1h0M30.7,56.8h0M10.5,7.5h0M53.6,73.0h0M25.2,57.8h0M18.7,20.5h0M15.6,31.3h0M16.0,25.3h0M6.9,42.0h0M15.8,59.6h0M18.4,57.0h0M23.1,64.4h0M23.6,21.8h0M48.4,48.9h0M27.2,31.0h0M26.4,70.8h0M27.7,66.6h0M9.3,15.8h0M13.7,57.8h0M46.0,58.2h0M15.5,48.8h0M28.5,56.2h0M15.9,38.7h0M15.2,11.1h0M15.6,12.5h0M26.9,65.4h0" stroke="#4aa69a" stroke-width="4.0" stroke-linecap="round"/><path d="M43.1,54.7h0M28.6,61.2h0M23.0,44.0h0M32.7,24.1h0M34.6,49.9h0M32.7,45.4h0M54.8,63.6h0M40.8,41.5h0M41.5,60.9h0M13.0,8.0h0M28.7,49.4h0M51.1,56.5h0M10.3,7.4h0M24.3,26.7h0M39.2,66.3h0M14.1,56.2h0M8.9,39.4h0M34.2,50.5h0M17.9,28.9h0M27.5,50.6h0M14.2,22.9h0M12.3,22.6h0M32.6,30.6h0M52.4,72.0h0M22.5,59.9h0M30.7,37.3h0M7.6,20.2h0M6.3,36.7h0M38.3,72.8h0M15.2,57.7h0M37.5,50.4h0M23.3,23.3h0M24.4,19.1h0M20.3,37.9h0M30.0,68.5h0M10.3,27.9h0M34.1,60.5h0M25.4,51.8h0M20.8,14.6h0M31.3,61.7h0M22.4,27.0h0M5.6,35.7h0M54.5,75.1h0M32.8,52.1h0M14.9,7.4h0M9.2,24.1h0M17.3,22.3h0M40.5,64.1h0M15.5,27.2h0M26.7,27.9h0M20.6,50.2h0M6.2,39.9h0M26.2,25.7h0M18.8,49.9h0M21.4,65.7h0M58.1,70.7h0M19.2,44.6h0M31.3,33.2h0M29.4,65.7h0M26.1,57.4h0M15.6,56.9h0M15.7,50.7h0M41.5,68.7h0M30.9,27.1h0M32.8,27.3h0M17.7,13.3h0M20.3,56.4h0M39.6,37.4h0M30.8,64.4h0" stroke="#4aa69a" stroke-width="3.2" stroke-linecap="round"/><path d="M30.3,61.2h0M33.4,25.7h0M56.7,63.3h0M8.0,41.0h0M23.4,58.4h0M29.7,35.9h0M26.7,50.4h0M32.6,50.4h0M10.4,22.6h0M26.4,26.2h0M20.5,52.2h0M17.5,51.1h0M30.7,35.0h0M27.6,56.2h0M41.2,67.1h0M20.6,54.7h0" stroke="#4aa69a" stroke-width="2.4" stroke-linecap="round"/><path d="M52.3,76.6h0M23.5,65.1h0M44.4,77.4h0M17.1,53.2h0M32.6,68.9h0M19.2,39.5h0M12.6,50.4h0M25.7,24.1h0M13.5,27.2h0M34.9,51.4h0M13.7,28.3h0M51.1,51.8h0M24.4,47.5h0M36.9,45.1h0M39.2,70.1h0M13.4,56.6h0M30.4,23.3h0M10.9,50.5h0M22.0,39.0h0M40.8,56.1h0M48.1,74.2h0M27.8,22.3h0M19.7,39.0h0" stroke="#4a88ad" stroke-width="4.0" stroke-linecap="round"/><path d="M51.7,60.8h0M21.6,64.1h0M49.7,62.0h0M18.9,27.6h0M20.7,41.1h0M17.4,66.4h0M18.2,40.1h0M13.6,61.7h0M26.9,30.8h0M45.1,54.6h0M24.4,12.6h0M13.3,29.5h0M36.1,53.0h0M37.4,39.6h0M26.8,59.4h0M26.4,61.3h0M33.3,75.9h0M23.4,26.8h0M17.6,9.4h0M47.2,47.5h0M48.2,49.2h0M23.6,10.8h0M22.8,48.8h0M36.2,64.8h0M35.5,63.0h0M51.7,65.2h0M54.2,69.4h0M40.1,72.0h0M12.4,58.3h0M55.2,70.0h0M48.0,56.0h0M15.6,56.0h0M32.6,23.2h0M35.4,34.5h0M24.6,36.6h0M41.4,71.8h0M41.9,73.6h0M32.7,25.4h0M43.8,65.2h0M17.0,18.5h0M25.8,22.8h0M21.2,60.2h0M24.2,65.0h0" stroke="#4a88ad" stroke-width="3.2" stroke-linecap="round"/><path d="M51.4,77.0h0M30.4,47.7h0M15.3,60.9h0M46.5,53.6h0M12.8,60.4h0M32.8,74.1h0M6.8,25.6h0M8.2,25.0h0M13.3,25.3h0M12.8,26.8h0M52.5,69.4h0M37.1,69.3h0M47.1,57.4h0M32.1,26.8h0M23.0,36.0h0M33.5,27.1h0M42.5,66.2h0M15.4,17.6h0" stroke="#4a88ad" stroke-width="2.4" stroke-linecap="round"/><path d="M29.1,46.4h0M29.6,45.6h0M23.2,38.6h0M18.2,27.6h0M17.7,28.5h0M54.0,60.4h0M30.7,66.3h0M50.1,67.2h0M9.2,28.4h0M10.0,28.2h0M12.3,54.7h0M44.9,59.0h0M45.3,58.1h0M13.3,60.1h0M20.3,34.1h0M20.6,35.0h0M18.4,55.0h0M47.6,47.7h0M21.1,7.7h0M47.2,73.6h0M26.4,33.0h0M6.9,36.0h0M44.7,73.0h0M41.7,76.7h0M41.3,75.9h0M37.7,52.9h0M53.1,75.1h0M53.6,74.4h0M9.1,34.2h0M15.3,29.2h0M29.6,24.5h0M28.8,24.2h0M32.5,23.1h0M37.8,35.2h0M19.0,42.4h0M25.8,44.0h0M15.3,59.2h0M46.1,58.4h0M12.7,50.9h0M30.2,35.4h0M30.6,36.2h0M22.8,40.8h0M23.5,39.9h0M13.0,17.5h0M28.6,21.4h0M28.5,22.4h0M11.3,34.9h0M10.3,34.6h0M42.9,53.9h0" stroke="#ddc630" stroke-width="1.6" stroke-linecap="round"/><path d="M49.0,72.3h0M11.8,14.8h0M12.2,15.3h0M17.9,55.5h0M47.0,48.1h0M29.4,37.1h0M21.1,7.0h0M14.3,16.8h0M21.2,25.2h0M56.9,65.1h0M57.4,64.8h0M37.8,55.5h0M37.5,55.1h0M45.1,73.5h0M38.4,53.2h0M35.7,40.9h0M36.1,40.5h0M46.8,58.7h0M13.3,50.5h0M46.5,53.0h0M25.8,53.8h0M42.4,54.4h0" stroke="#ddc630" stroke-width="0.8" stroke-linecap="round"/></g><use href="#lf" fill="none" stroke="#8a48c8" stroke-width="2.6"/></g>
<g transform="translate(78.20,346.30)"><use href="#lf" fill="#ddc630"/><g clip-path="url(#in4)"><use href="#lf" fill="#d9424f"/><path d="M45.8,76.0h0M20.1,40.5h0M24.0,67.2h0M12.6,58.5h0M37.8,39.3h0M49.7,52.2h0M22.5,50.2h0M36.4,76.1h0M35.2,66.9h0M59.0,70.3h0M34.3,55.7h0M10.8,28.5h0M50.6,78.0h0M37.6,75.1h0M50.7,70.9h0M52.4,71.6h0M46.4,71.5h0M20.2,22.9h0M20.9,10.4h0M40.3,74.9h0M40.8,50.9h0M35.6,58.3h0M13.5,33.3h0M22.9,29.6h0M28.7,65.5h0M51.4,55.6h0" stroke="#4aa69a" stroke-width="4.8" stroke-linecap="round"/><path d="M30.0,58.2h0M16.8,41.3h0M26.3,34.9h0M52.7,74.6h0M13.6,51.1h0M29.8,32.6h0M26.2,47.6h0M31.9,63.3h0M27.6,37.3h0M23.2,67.9h0M33.3,37.6h0M26.2,59.3h0M9.1,17.4h0M20.5,12.5h0M23.3,23.3h0M17.0,48.3h0M17.1,8.5h0M19.9,28.6h0M11.0,30.4h0M48.3,54.4h0M47.0,54.3h0M42.3,51.2h0M16.7,59.6h0M23.3,65.0h0M34.7,74.3h0M16.5,6.6h0M32.8,66.2h0M26.3,36.0h0M36.4,75.0h0M22.6,42.1h0M34.0,58.3h0M8.0,17.7h0M37.4,77.6h0M52.0,73.1h0M12.4,51.2h0M17.4,62.2h0M9.6,48.5h0M54.1,69.7h0M15.0,59.4h0M31.6,33.6h0M19.3,8.4h0M50.1,63.3h0M26.6,72.1h0M45.1,53.1h0M27.0,54.0h0M18.6,8.7h0M46.8,48.7h0M38.4,70.7h0M25.5,29.1h0M26.8,15.6h0M46.1,61.7h0M44.7,56.6h0M29.3,56.9h0M18.6,14.5h0M29.8,63.2h0M23.4,63.1h0M18.8,54.7h0M32.0,58.0h0M53.4,76.9h0M26.3,26.2h0M44.9,62.3h0M12.6,12.1h0M38.2,37.2h0" stroke="#4aa69a" stroke-width="4.0" stroke-linecap="round"/><path d="M27.8,58.8h0M12.0,23.6h0M39.0,34.1h0M48.5,49.4h0M50.4,49.0h0M32.0,66.0h0M18.0,42.9h0M24.4,34.3h0M44.4,46.9h0M17.4,46.4h0M24.3,70.0h0M23.5,69.5h0M33.5,61.6h0M14.6,56.6h0M29.5,38.7h0M35.3,36.9h0M24.3,58.3h0M52.7,72.2h0M21.6,24.9h0M19.8,18.2h0M19.6,16.3h0M20.3,60.0h0M15.5,34.4h0M32.0,33.8h0M17.5,29.0h0M25.6,13.7h0M14.9,50.6h0M41.7,55.9h0M33.4,25.4h0M45.6,55.8h0M18.8,59.5h0M34.3,60.9h0M40.1,48.6h0M11.6,55.5h0M35.2,50.3h0M47.4,55.4h0M14.1,30.2h0M40.4,40.9h0M34.7,41.0h0M32.9,40.3h0M15.9,60.5h0M8.2,50.0h0M47.9,69.6h0M26.5,46.3h0M12.5,6.1h0M18.2,33.6h0M27.2,40.3h0M25.1,48.6h0M44.5,51.0h0M18.4,50.5h0M17.9,52.4h0M17.3,10.2h0M46.0,50.9h0M49.3,73.2h0M27.0,17.9h0M54.1,60.7h0M48.1,60.9h0M20.5,13.7h0M6.7,35.9h0M23.9,65.4h0M18.4,8.7h0M29.9,57.0h0M16.6,65.3h0M33.5,60.1h0M8.8,38.8h0M9.9,37.2h0M51.1,77.3h0M28.5,25.9h0M46.0,60.2h0M16.0,25.0h0M10.7,10.7h0M5.7,22.6h0" stroke="#4aa69a" stroke-width="3.2" stroke-linecap="round"/><path d="M16.0,47.3h0M14.0,55.0h0M14.1,35.6h0M33.3,32.6h0M27.2,14.3h0M13.1,50.0h0M41.5,54.1h0M12.3,53.9h0M47.0,53.5h0M28.0,47.1h0M27.0,38.6h0M50.2,74.7h0M17.5,7.1h0M18.5,64.9h0M35.3,60.7h0" stroke="#4aa69a" stroke-width="2.4" stroke-linecap="round"/><path d="M36.5,41.7h0M42.2,55.6h0M50.2,71.7h0M52.9,69.5h0M7.2,42.8h0M15.0,61.6h0M14.2,61.8h0M54.9,68.5h0M8.8,32.0h0M34.1,64.7h0M10.6,33.1h0M49.2,66.6h0M16.7,21.3h0M18.6,23.9h0M52.6,66.1h0M45.9,76.7h0M48.1,74.4h0M18.0,25.0h0M46.4,62.9h0M48.6,66.8h0M25.6,49.5h0M42.5,49.3h0M23.9,64.0h0M39.7,57.0h0M21.0,13.3h0M60.3,70.6h0" stroke="#4a88ad" stroke-width="4.0" stroke-linecap="round"/><path d="M36.4,39.7h0M27.2,38.6h0M28.6,65.5h0M43.7,53.8h0M48.3,72.1h0M54.2,67.6h0M34.1,75.8h0M8.7,44.3h0M40.5,42.5h0M52.5,70.9h0M23.8,24.7h0M16.2,57.2h0M11.1,57.3h0M27.2,15.8h0M56.1,66.6h0M37.0,69.8h0M27.6,57.3h0M34.0,66.9h0M49.0,68.7h0M46.5,45.8h0M15.3,50.6h0M25.3,34.2h0M21.6,17.2h0M20.8,52.8h0M52.5,59.3h0M52.0,64.0h0M41.9,59.8h0M40.1,59.4h0M46.3,75.2h0M16.5,50.3h0M19.6,23.3h0M48.5,62.6h0M27.9,48.9h0M23.1,29.0h0M51.4,75.9h0M17.0,4.9h0M40.3,48.5h0M55.2,73.0h0M23.3,61.7h0M34.7,39.0h0M40.8,70.9h0M43.2,64.3h0M25.9,13.4h0M27.1,25.9h0M31.3,48.8h0M47.2,60.6h0" stroke="#4a88ad" stroke-width="3.2" stroke-linecap="round"/><path d="M32.7,76.5h0M16.3,38.8h0M15.0,37.9h0M14.3,56.7h0M12.4,58.6h0M38.6,70.4h0M29.0,56.2h0M49.1,66.5h0M47.6,66.5h0M14.5,39.5h0M24.8,35.7h0M19.5,54.1h0M16.8,48.4h0M28.5,25.0h0M27.6,26.3h0M49.8,76.1h0M18.5,5.2h0M33.1,38.3h0M26.5,15.2h0M25.6,26.5h0M32.9,48.0h0" stroke="#4a88ad" stroke-width="2.4" stroke-linecap="round"/><path d="M11.0,11.9h0M10.8,11.0h0M30.0,66.2h0M30.9,66.4h0M40.5,76.7h0M10.8,32.2h0M10.0,31.7h0M21.1,29.7h0M22.8,65.0h0M45.0,69.5h0M48.0,67.7h0M48.5,68.4h0M20.1,54.8h0M20.7,55.6h0M12.3,55.5h0M25.7,33.9h0M26.2,33.2h0M38.6,64.6h0M44.6,59.8h0M44.9,60.6h0M49.6,73.7h0M48.8,74.1h0M24.7,17.9h0M23.2,65.9h0M24.0,65.3h0M28.6,62.2h0M17.7,4.9h0M22.4,41.9h0M22.7,40.9h0M17.6,51.0h0M52.8,66.1h0M22.7,68.6h0M44.0,75.9h0M34.6,71.5h0M35.5,71.2h0M54.4,72.0h0M58.2,64.0h0M17.9,37.5h0M15.8,56.3h0M43.7,64.2h0M52.4,57.6h0M9.0,32.1h0M39.8,47.3h0M31.2,34.8h0M35.0,38.5h0M26.1,16.2h0M27.2,16.2h0M30.3,30.4h0M7.0,38.6h0" stroke="#ddc630" stroke-width="1.6" stroke-linecap="round"/><path d="M10.3,45.8h0M20.3,29.8h0M51.6,67.0h0M33.4,29.7h0M33.0,29.2h0M44.8,58.6h0M23.9,17.9h0M29.3,61.9h0M10.7,17.7h0M10.0,17.7h0M30.0,46.2h0M30.5,46.0h0M23.3,68.2h0M52.8,59.9h0M28.1,63.7h0M40.5,47.7h0M32.0,34.7h0M11.2,50.5h0M13.5,12.5h0M30.7,29.7h0" stroke="#ddc630" stroke-width="0.8" stroke-linecap="round"/></g><use href="#lf" fill="none" stroke="#8a48c8" stroke-width="2.4"/></g>
<g transform="translate(141.20,346.30)"><use href="#lf" fill="#ddc630"/><g clip-path="url(#in3)"><use href="#lf" fill="#d9424f"/><path d="M24.4,18.6h0M22.9,19.4h0M31.5,72.1h0M7.2,24.6h0M51.8,52.4h0M34.3,46.5h0M29.5,74.2h0M17.2,33.0h0M59.5,64.7h0M47.6,74.3h0M8.3,38.2h0M19.9,39.0h0M26.4,59.5h0M12.1,27.5h0M21.5,69.6h0M21.0,26.2h0M18.1,17.2h0M46.8,61.7h0M22.3,36.6h0M32.8,56.7h0M15.7,5.0h0M27.6,59.0h0M12.4,23.6h0M39.3,40.7h0" stroke="#4aa69a" stroke-width="4.8" stroke-linecap="round"/><path d="M25.6,62.1h0M17.4,8.6h0M33.6,34.2h0M32.0,36.1h0M28.3,26.3h0M22.7,68.6h0M54.9,75.4h0M25.6,14.5h0M26.9,18.5h0M40.1,54.1h0M53.3,65.4h0M13.7,22.0h0M35.0,66.4h0M20.4,13.7h0M17.3,6.2h0M29.1,72.9h0M9.8,25.0h0M19.6,27.2h0M50.8,54.0h0M9.8,37.7h0M27.9,72.1h0M11.2,31.8h0M16.7,57.5h0M34.7,39.7h0M28.6,20.5h0M16.0,61.1h0M35.7,38.1h0M56.4,70.0h0M6.4,20.7h0M19.7,53.3h0M26.9,51.1h0M14.5,20.3h0M49.1,52.5h0M49.0,54.9h0M12.6,42.7h0M13.3,13.1h0M19.5,44.4h0M45.5,75.8h0M19.5,62.7h0M26.2,17.9h0M11.2,39.4h0M10.2,6.9h0M17.4,26.8h0M32.2,28.1h0M21.8,67.1h0M23.5,25.4h0M23.7,12.2h0M12.0,53.1h0M27.9,16.4h0M24.1,47.0h0M27.0,29.6h0M31.2,43.1h0M21.6,57.2h0M12.9,21.0h0M29.3,21.0h0M11.1,13.9h0M9.2,16.9h0M48.6,56.4h0M27.0,46.0h0M22.5,40.5h0M17.6,27.6h0M32.6,39.6h0M33.0,63.1h0M15.2,18.6h0M45.6,50.6h0" stroke="#4aa69a" stroke-width="4.0" stroke-linecap="round"/><path d="M57.1,61.4h0M11.5,52.8h0M28.2,24.2h0M20.9,69.9h0M52.9,75.7h0M52.3,67.5h0M36.7,55.9h0M15.2,23.6h0M19.9,15.9h0M16.0,4.3h0M8.9,35.6h0M32.1,47.7h0M15.6,59.3h0M36.0,41.7h0M30.0,22.5h0M17.9,62.2h0M57.7,71.7h0M44.5,46.5h0M19.0,35.4h0M28.8,49.9h0M13.0,21.8h0M50.2,53.2h0M20.6,18.7h0M28.5,61.5h0M41.1,45.9h0M13.2,11.0h0M21.2,43.2h0M12.4,23.7h0M9.8,45.6h0M11.6,45.0h0M10.5,24.7h0M18.8,41.2h0M28.3,17.6h0M12.1,37.4h0M9.9,9.2h0M15.2,26.3h0M34.5,28.7h0M36.3,63.3h0M10.4,31.8h0M27.8,14.1h0M44.1,51.2h0M35.7,62.1h0M17.7,19.7h0M52.4,55.1h0M22.7,34.2h0M55.4,72.6h0M44.3,70.0h0M12.2,56.2h0M29.2,23.2h0M13.1,13.2h0M6.9,28.3h0M10.6,36.1h0M14.7,57.8h0M11.6,17.2h0M29.2,46.5h0M30.3,72.7h0M21.0,39.1h0M22.0,9.9h0M37.2,41.9h0M33.3,42.8h0M33.2,37.4h0M38.8,69.8h0M19.9,63.9h0M30.9,62.4h0M17.2,50.7h0M17.7,48.8h0M50.3,58.7h0M20.0,49.0h0M18.1,48.9h0M47.3,49.0h0M30.8,42.2h0M30.2,40.3h0M41.8,72.0h0" stroke="#4aa69a" stroke-width="3.2" stroke-linecap="round"/><path d="M56.4,59.7h0M45.5,47.9h0M17.4,36.5h0M20.2,17.0h0M11.5,26.4h0M34.6,63.8h0M8.9,30.7h0M43.2,49.6h0M37.5,62.0h0M53.7,56.3h0M13.8,57.1h0M6.5,30.0h0M13.9,59.6h0M31.8,43.8h0M40.1,71.2h0M20.8,65.3h0M51.2,60.1h0" stroke="#4aa69a" stroke-width="2.4" stroke-linecap="round"/><path d="M16.8,6.0h0M32.6,25.9h0M30.9,40.7h0M40.2,68.7h0M27.0,31.5h0M58.2,72.2h0M35.2,75.0h0M12.5,50.5h0M14.3,36.2h0M36.6,56.1h0M6.7,44.5h0M20.0,56.9h0M9.3,12.1h0M17.6,32.7h0M30.0,56.1h0M13.3,31.2h0M32.7,66.1h0M36.0,63.9h0M15.8,22.0h0M44.7,74.9h0M26.6,47.1h0M11.5,45.6h0M41.0,61.0h0M30.1,69.4h0M16.7,36.8h0M47.4,52.9h0M21.8,53.0h0M41.6,47.9h0M56.6,66.6h0" stroke="#4a88ad" stroke-width="4.0" stroke-linecap="round"/><path d="M15.7,36.0h0M16.0,8.1h0M38.3,56.7h0M36.2,64.0h0M32.8,23.7h0M37.7,69.1h0M51.3,71.7h0M34.0,53.9h0M20.7,7.9h0M20.4,52.3h0M20.8,28.2h0M50.8,64.6h0M39.5,56.1h0M29.3,54.4h0M28.4,33.3h0M27.4,52.8h0M29.0,53.9h0M38.4,42.2h0M33.5,40.9h0M17.8,17.7h0M15.6,60.6h0M41.0,54.9h0M36.4,73.4h0M11.6,48.5h0M12.3,35.5h0M34.4,56.4h0M5.4,46.4h0M21.5,58.3h0M20.8,38.7h0M23.1,35.6h0M29.8,60.1h0M7.7,33.6h0M19.0,34.1h0M15.4,30.8h0M14.1,23.4h0M43.3,73.1h0M13.3,47.0h0M9.4,16.0h0M47.3,75.2h0M18.0,35.0h0M14.8,49.8h0M47.6,63.0h0M47.1,50.5h0M56.1,68.9h0M21.6,34.7h0M17.2,35.4h0M42.3,56.7h0" stroke="#4a88ad" stroke-width="3.2" stroke-linecap="round"/><path d="M37.3,55.1h0M27.4,19.5h0M39.4,69.5h0M35.2,55.2h0M20.2,54.1h0M49.3,63.4h0M30.6,55.3h0M39.4,40.8h0M32.2,39.6h0M17.7,19.6h0M19.4,39.5h0M23.7,34.1h0M7.5,31.9h0M48.7,76.2h0M16.4,50.1h0M22.6,43.3h0M21.1,43.6h0M19.7,34.5h0M41.4,58.2h0" stroke="#4a88ad" stroke-width="2.4" stroke-linecap="round"/><path d="M27.3,58.6h0M41.4,67.9h0M32.0,40.9h0M12.0,43.1h0M33.3,64.6h0M21.7,67.8h0M9.9,54.5h0M44.0,44.5h0M54.1,58.3h0" stroke="#ddc630" stroke-width="2.4" stroke-linecap="round"/><path d="M16.4,32.8h0M28.0,29.6h0M50.6,69.2h0M42.9,52.0h0M32.0,25.1h0M21.2,69.9h0M51.7,69.7h0M48.1,55.2h0M32.9,40.1h0M12.9,20.1h0M23.2,65.1h0M33.6,71.6h0M34.3,71.1h0M29.6,18.9h0M12.3,43.5h0M12.1,44.5h0M52.6,66.9h0M23.7,43.9h0M21.5,22.8h0M27.6,34.4h0M9.7,44.5h0M8.9,45.0h0M32.7,25.1h0M31.2,52.6h0M31.5,51.6h0M11.1,43.8h0M12.3,55.1h0M12.3,54.1h0M20.0,34.9h0M54.0,74.8h0M54.8,75.1h0M18.9,46.4h0M19.7,11.5h0M38.3,69.9h0M34.2,74.6h0M33.3,75.0h0M38.5,56.7h0M39.1,55.9h0M49.0,66.6h0M9.2,40.8h0M8.3,41.4h0M26.7,63.4h0M24.9,57.9h0M24.0,57.8h0M5.9,30.8h0M7.0,30.6h0M15.2,17.1h0M13.6,42.4h0M8.6,52.1h0M29.8,43.6h0M42.1,64.1h0M43.1,64.0h0M6.6,45.5h0M13.6,32.5h0M38.7,73.9h0M32.4,54.5h0M21.3,12.2h0M9.5,27.5h0M56.2,64.1h0M41.4,43.5h0M40.5,43.7h0M49.2,63.8h0M5.9,45.0h0M41.4,41.0h0M34.4,64.0h0M49.5,70.5h0M48.6,70.6h0M16.8,33.9h0M44.9,44.9h0M39.9,44.1h0M39.8,45.0h0M35.8,75.3h0M8.9,21.3h0M21.5,30.9h0M10.6,37.0h0M21.0,53.8h0M46.9,50.8h0" stroke="#ddc630" stroke-width="1.6" stroke-linecap="round"/><path d="M27.7,29.3h0M27.7,28.7h0M32.7,36.2h0M22.2,22.5h0M27.0,34.8h0M31.9,25.3h0M24.0,43.4h0M23.9,44.0h0M10.5,51.0h0M10.4,51.7h0M19.3,34.8h0M19.5,12.2h0M48.5,67.1h0M26.1,63.1h0M7.2,47.6h0M6.6,47.7h0M15.1,17.8h0M13.5,31.8h0M20.5,53.3h0" stroke="#ddc630" stroke-width="0.8" stroke-linecap="round"/></g><use href="#lf" fill="none" stroke="#8a48c8" stroke-width="2.2"/></g>
<g transform="translate(205.20,346.30)"><use href="#lf" fill="#ddc630"/><g clip-path="url(#in3)"><use href="#lf" fill="#d9424f"/><path d="M8.5,56.4h0M35.5,67.0h0M44.5,56.3h0M30.6,67.1h0M49.9,66.9h0M59.0,73.4h0M52.1,63.9h0M53.2,65.9h0M44.4,47.4h0M50.9,76.1h0M23.4,14.1h0M9.9,49.6h0M27.8,24.5h0M23.0,50.5h0M35.1,61.7h0M47.6,57.3h0M19.3,57.6h0M49.8,75.7h0M46.8,77.4h0M44.6,51.3h0M51.5,62.7h0M30.1,59.5h0M27.0,56.3h0M47.5,51.2h0M57.2,73.6h0M16.9,50.3h0M30.8,72.8h0" stroke="#4aa69a" stroke-width="4.8" stroke-linecap="round"/><path d="M32.9,70.6h0M43.3,73.6h0M37.7,65.5h0M37.5,72.9h0M19.8,34.8h0M44.0,44.8h0M43.1,72.1h0M31.9,56.7h0M54.1,68.3h0M26.5,60.7h0M28.7,40.6h0M47.1,72.3h0M12.7,45.8h0M48.3,76.0h0M31.1,37.8h0M53.2,76.8h0M52.2,54.9h0M7.2,22.6h0M33.7,63.8h0M36.3,74.9h0M41.4,57.9h0M28.8,62.2h0M24.7,39.5h0M45.0,79.3h0M17.4,35.7h0M12.3,40.2h0M45.7,49.0h0M31.3,70.0h0M22.3,56.8h0M13.9,11.2h0M24.3,16.1h0M45.6,73.8h0M32.0,74.2h0M49.9,64.5h0M10.9,20.8h0M46.6,73.3h0M29.0,57.8h0M10.8,44.2h0M30.2,53.9h0M37.4,66.3h0M20.9,56.7h0M47.7,47.9h0M32.8,62.8h0M10.4,52.9h0M32.5,26.2h0M15.6,8.3h0M60.4,66.0h0M33.8,36.3h0M59.7,74.6h0M44.5,44.5h0M23.0,57.1h0M40.4,53.8h0M46.8,57.5h0M12.0,33.2h0M15.1,48.6h0M28.5,59.4h0M9.1,16.2h0M25.9,54.1h0M39.0,50.5h0M12.5,43.5h0M22.2,9.7h0" stroke="#4aa69a" stroke-width="4.0" stroke-linecap="round"/><path d="M18.9,23.0h0M21.9,32.2h0M34.6,69.2h0M49.3,49.1h0M7.9,54.1h0M45.3,74.5h0M39.0,74.6h0M42.4,55.0h0M12.0,40.5h0M25.9,47.6h0M43.9,74.1h0M36.1,73.4h0M24.9,42.6h0M9.8,22.3h0M10.0,44.2h0M5.0,41.5h0M48.9,73.3h0M51.7,62.7h0M25.3,12.7h0M48.8,61.8h0M23.0,45.5h0M50.8,56.6h0M36.3,72.6h0M18.3,18.2h0M46.0,55.4h0M7.0,50.1h0M22.5,39.7h0M24.4,33.2h0M50.3,78.1h0M41.0,67.5h0M43.3,47.7h0M57.4,73.2h0M33.2,76.2h0M11.6,18.5h0M48.3,74.6h0M27.4,62.0h0M8.1,19.4h0M20.4,49.0h0M20.0,34.5h0M48.9,53.1h0M33.2,58.9h0M13.1,43.8h0M38.7,68.3h0M21.7,59.0h0M15.5,12.9h0M10.9,27.7h0M10.8,13.9h0M15.8,10.4h0M34.0,34.3h0M39.7,49.7h0M41.3,48.6h0M42.4,44.3h0M28.5,62.3h0M25.9,55.9h0M33.1,55.1h0M31.3,55.9h0M39.5,35.8h0M24.2,41.8h0M28.2,54.3h0M29.8,27.9h0M31.8,27.8h0M11.7,41.2h0M28.3,68.1h0" stroke="#4aa69a" stroke-width="3.2" stroke-linecap="round"/><path d="M20.1,31.4h0M13.9,40.5h0M23.4,41.5h0M11.5,22.0h0M53.3,63.3h0M6.1,48.7h0M19.1,50.4h0M18.2,34.9h0M10.2,25.9h0M11.4,12.1h0M26.4,57.5h0" stroke="#4aa69a" stroke-width="2.4" stroke-linecap="round"/><path d="M41.9,52.9h0M44.8,60.9h0M35.7,36.9h0M17.2,60.0h0M56.0,66.0h0M16.2,46.9h0M13.0,5.5h0M32.8,47.0h0M18.6,54.5h0M13.3,31.4h0M23.0,14.8h0M42.8,59.2h0M49.0,65.0h0M53.2,69.8h0M59.0,72.8h0M35.2,51.0h0M25.6,29.5h0M8.9,40.8h0M7.1,22.5h0M44.5,53.5h0M18.5,9.6h0M28.4,33.7h0M48.9,54.0h0M34.8,71.4h0M21.3,37.1h0" stroke="#4a88ad" stroke-width="4.0" stroke-linecap="round"/><path d="M47.0,60.4h0M15.9,22.8h0M44.8,54.9h0M26.0,24.1h0M47.7,72.6h0M15.4,61.5h0M14.1,7.6h0M54.2,58.5h0M19.9,53.0h0M24.3,60.0h0M46.2,58.3h0M19.5,42.0h0M23.3,12.7h0M10.9,36.0h0M15.4,6.8h0M12.1,48.9h0M46.7,50.9h0M26.4,41.5h0M47.4,70.9h0M25.9,42.5h0M34.5,28.1h0M43.4,61.1h0M10.9,33.7h0M5.6,35.9h0M39.1,38.8h0M20.0,27.1h0M34.4,53.0h0M31.3,35.0h0M27.6,29.9h0M47.6,48.3h0M7.7,42.4h0M46.2,72.5h0M25.3,69.7h0M35.3,42.7h0M9.4,40.0h0M57.9,72.2h0M7.5,54.1h0M41.2,40.7h0M41.0,44.2h0M20.3,10.7h0M53.6,72.3h0M46.1,71.5h0M28.0,36.1h0M27.3,72.4h0M36.8,72.3h0" stroke="#4a88ad" stroke-width="3.2" stroke-linecap="round"/><path d="M23.0,55.7h0M23.7,61.5h0M9.4,35.7h0M33.3,29.2h0M21.6,27.6h0M33.1,34.7h0M45.9,48.6h0M46.8,74.2h0M28.8,63.6h0M59.4,71.4h0M42.1,39.2h0M39.4,43.6h0M53.2,74.2h0M45.4,70.0h0M26.2,70.9h0" stroke="#4a88ad" stroke-width="2.4" stroke-linecap="round"/><path d="M24.8,18.3h0M16.1,53.6h0M50.1,56.7h0M30.1,36.5h0M14.7,15.6h0M22.6,18.2h0M37.1,41.9h0M19.1,34.7h0M32.1,35.0h0M12.2,32.8h0M41.2,43.2h0M9.1,27.6h0M32.5,70.8h0M13.5,44.5h0M42.2,55.4h0M53.0,68.0h0" stroke="#ddc630" stroke-width="2.4" stroke-linecap="round"/><path d="M14.9,20.5h0M22.5,21.2h0M48.4,69.8h0M32.6,40.2h0M16.1,54.8h0M51.6,72.9h0M52.1,56.9h0M51.4,57.5h0M38.8,33.5h0M47.6,56.1h0M47.7,56.9h0M18.5,17.2h0M33.0,55.4h0M19.8,66.5h0M18.9,66.5h0M15.8,15.6h0M12.7,8.4h0M57.5,68.4h0M56.7,69.0h0M28.1,21.6h0M28.3,22.6h0M20.5,45.9h0M20.7,45.0h0M25.5,27.4h0M14.8,22.3h0M33.2,23.4h0M33.9,22.7h0M42.8,40.7h0M44.8,69.1h0M44.3,68.3h0M27.6,70.3h0M52.5,72.2h0M10.6,45.5h0M23.9,47.3h0M23.5,46.5h0M31.0,23.3h0M16.7,60.3h0M16.0,59.6h0M14.8,26.9h0M17.4,30.2h0M19.3,41.9h0M20.1,64.3h0M38.5,68.7h0M37.6,39.1h0M38.1,39.8h0M31.1,28.4h0M30.3,28.4h0M11.6,33.8h0M9.5,54.0h0M41.6,67.4h0M16.8,49.3h0M17.6,52.5h0M16.6,8.8h0M15.9,8.2h0M31.8,69.8h0M35.4,46.6h0M18.5,58.4h0M33.7,29.7h0M34.6,29.9h0M30.3,74.6h0M31.3,74.2h0M46.9,73.4h0M23.8,16.5h0M14.3,49.3h0M42.8,48.8h0M43.8,72.9h0M44.1,72.0h0M25.6,32.9h0M40.9,40.7h0M28.4,28.5h0M18.5,59.9h0M18.6,60.9h0M15.2,41.3h0" stroke="#ddc630" stroke-width="1.6" stroke-linecap="round"/><path d="M9.8,48.3h0M10.0,47.7h0M38.6,32.9h0M45.1,67.3h0M45.4,66.8h0M12.1,8.2h0M10.4,46.2h0M30.7,23.9h0M21.2,38.9h0M37.2,61.7h0M37.0,62.2h0M16.6,50.1h0M46.7,72.7h0M23.6,17.1h0M14.2,50.1h0M28.8,51.3h0M28.7,27.9h0M15.7,41.9h0" stroke="#ddc630" stroke-width="0.8" stroke-linecap="round"/></g><use href="#lf" fill="none" stroke="#8a48c8" stroke-width="2.0"/></g>
<g transform="translate(269.20,346.30)"><use href="#lf" fill="#e0b040"/><g clip-path="url(#in2)"><use href="#lf" fill="#d9424f"/><path d="M37.2,33.9h0M17.5,11.7h0M9.4,27.0h0M42.0,58.3h0M32.3,49.4h0M24.4,31.2h0M44.9,48.1h0M18.7,42.0h0M24.7,43.4h0M23.4,18.0h0M22.7,14.0h0M29.4,23.0h0M28.9,67.8h0M31.6,55.9h0M50.3,61.8h0M26.7,39.5h0M31.0,68.9h0M21.4,18.3h0M60.2,68.1h0M17.2,28.6h0M18.4,20.8h0M35.6,55.1h0M11.9,58.9h0" stroke="#4aa69a" stroke-width="4.8" stroke-linecap="round"/><path d="M16.7,8.7h0M29.7,52.2h0M28.8,19.1h0M54.3,66.5h0M16.2,63.5h0M46.4,76.5h0M47.9,50.3h0M47.1,77.6h0M17.2,35.3h0M12.4,13.7h0M27.6,43.4h0M40.6,56.2h0M46.6,68.9h0M27.7,45.9h0M46.3,76.8h0M18.8,12.7h0M36.3,47.4h0M9.0,49.0h0M12.2,44.6h0M14.3,52.9h0M21.2,42.4h0M23.9,44.1h0M29.9,21.6h0M22.4,15.7h0M21.9,16.5h0M49.1,56.0h0M17.9,35.4h0M37.0,61.9h0M60.1,68.4h0M30.5,75.2h0M12.7,9.4h0M16.1,26.8h0M16.0,30.5h0M31.3,53.8h0M45.7,57.8h0M52.4,76.4h0M37.1,38.9h0M21.7,39.8h0M60.0,70.5h0M22.8,56.0h0M22.2,65.0h0M13.0,42.3h0M36.9,51.5h0M17.6,64.3h0M44.7,62.8h0M29.4,69.9h0M20.0,22.8h0M45.6,61.2h0M52.6,73.4h0M36.9,47.5h0M22.1,36.9h0M53.1,71.0h0M52.1,68.1h0M18.6,32.4h0" stroke="#4aa69a" stroke-width="4.0" stroke-linecap="round"/><path d="M15.0,10.1h0M29.7,17.3h0M28.2,22.6h0M45.5,53.2h0M6.9,27.0h0M17.9,64.8h0M43.3,75.3h0M48.6,77.3h0M15.2,36.2h0M28.5,41.1h0M8.8,24.2h0M24.9,60.1h0M8.0,36.8h0M17.6,45.9h0M11.1,48.0h0M20.3,41.3h0M18.4,41.5h0M31.6,73.7h0M24.1,46.2h0M23.5,11.1h0M32.3,46.8h0M20.9,59.5h0M22.6,58.7h0M19.2,10.2h0M25.7,17.6h0M24.6,16.0h0M36.0,57.4h0M31.3,67.8h0M34.5,68.5h0M32.5,23.2h0M16.3,34.0h0M37.2,59.7h0M11.8,22.3h0M13.7,35.5h0M26.8,65.4h0M29.5,63.4h0M30.6,61.8h0M29.3,76.8h0M18.0,7.0h0M16.9,5.3h0M16.7,24.5h0M31.8,39.2h0M23.8,18.1h0M29.3,55.2h0M54.2,74.6h0M37.8,71.9h0M44.3,56.2h0M53.7,78.0h0M35.7,40.3h0M22.7,40.4h0M23.0,41.8h0M22.3,58.4h0M31.3,29.2h0M24.6,51.2h0M25.2,53.0h0M26.1,43.3h0M34.9,52.2h0M19.8,64.1h0M37.3,48.6h0M42.5,62.6h0M31.6,70.5h0M46.4,63.1h0M18.0,13.9h0M55.2,61.7h0M51.4,71.1h0M37.8,45.6h0M9.5,58.4h0M51.1,71.0h0M50.1,68.6h0M22.6,35.4h0" stroke="#4aa69a" stroke-width="3.2" stroke-linecap="round"/><path d="M27.6,24.4h0M47.1,52.8h0M45.2,75.4h0M7.6,25.6h0M19.3,45.5h0M30.2,72.8h0M20.0,11.8h0M35.4,67.1h0M13.4,23.0h0M30.5,40.3h0M52.9,75.7h0M21.3,41.5h0M30.6,31.0h0M26.8,44.8h0" stroke="#4aa69a" stroke-width="2.4" stroke-linecap="round"/><path d="M18.7,10.7h0M17.5,5.8h0M38.9,36.4h0M54.5,64.4h0M18.4,54.4h0M26.3,53.2h0M57.6,73.8h0M35.9,74.7h0M31.4,59.8h0M22.9,25.4h0M9.2,37.0h0M6.5,47.3h0M12.5,23.6h0M30.8,44.9h0M27.6,62.5h0M12.5,19.8h0M41.1,42.6h0M53.4,56.2h0M27.5,60.0h0M29.9,66.8h0M16.4,65.2h0M53.3,68.1h0M53.2,57.9h0M39.9,36.4h0M33.2,35.7h0M18.4,26.1h0M19.3,37.2h0M27.8,40.9h0M48.9,65.2h0M31.6,52.0h0M48.3,76.2h0M8.6,10.5h0" stroke="#4a88ad" stroke-width="4.0" stroke-linecap="round"/><path d="M17.4,12.6h0M39.2,36.0h0M40.0,38.3h0M19.5,52.5h0M30.4,29.7h0M30.8,66.1h0M38.0,75.7h0M31.6,46.0h0M34.7,69.5h0M29.8,58.5h0M42.4,46.6h0M8.5,47.5h0M6.8,30.8h0M50.9,55.7h0M36.0,43.2h0M13.6,21.6h0M16.2,58.9h0M42.8,43.7h0M53.5,54.1h0M36.9,56.8h0M25.9,61.6h0M31.8,66.0h0M14.3,64.9h0M55.4,68.3h0M53.1,60.1h0M37.7,36.9h0M16.4,41.1h0M35.2,46.4h0M23.1,66.5h0M10.4,36.1h0M39.1,46.3h0M16.3,25.4h0M20.6,35.3h0M31.9,33.8h0M29.9,39.9h0M30.7,48.5h0M33.2,38.1h0M47.5,78.0h0M40.0,58.5h0M41.4,59.8h0" stroke="#4a88ad" stroke-width="3.2" stroke-linecap="round"/><path d="M40.3,37.5h0M28.8,29.8h0M32.3,66.7h0M23.6,63.3h0M22.8,62.1h0M44.1,47.1h0M50.7,57.6h0M37.1,54.9h0M39.9,47.8h0M32.5,32.1h0" stroke="#4a88ad" stroke-width="2.4" stroke-linecap="round"/><path d="M10.4,30.9h0M33.9,44.3h0M11.4,19.2h0M15.6,29.8h0M12.8,33.9h0M36.9,73.3h0M23.7,57.9h0M15.2,12.0h0M53.6,68.4h0M20.3,21.7h0M28.5,40.9h0M21.0,29.9h0M27.0,21.9h0" stroke="#dca070" stroke-width="2.4" stroke-linecap="round"/><path d="M52.8,57.3h0M52.5,56.5h0M32.2,58.8h0M11.5,23.5h0M19.4,39.3h0M33.7,58.4h0M35.5,40.3h0M34.8,39.9h0M30.0,65.7h0M30.7,65.3h0M21.2,40.9h0M29.7,55.3h0M20.7,54.8h0M24.1,59.7h0M23.6,59.0h0M35.8,73.3h0M37.5,42.5h0M23.9,59.1h0M9.7,18.2h0M10.1,19.1h0M28.0,24.0h0M33.4,47.9h0M20.5,64.3h0M24.6,41.8h0M17.0,44.8h0M33.0,67.9h0M24.1,30.3h0M15.5,42.7h0M11.8,5.5h0M35.0,30.7h0M20.9,22.7h0M26.4,35.0h0M22.2,29.9h0M12.8,35.4h0M54.1,63.5h0M54.2,64.4h0M48.3,56.1h0M48.0,55.1h0M49.2,63.0h0M7.2,22.5h0M11.5,18.1h0M35.1,39.5h0M35.5,38.6h0M13.4,55.2h0M26.8,72.0h0M18.2,48.9h0M8.6,42.3h0M16.6,35.5h0M17.5,36.0h0M23.0,36.3h0M23.9,36.3h0M27.0,58.2h0M32.4,66.9h0M31.5,66.3h0M37.6,33.0h0M38.1,33.8h0M41.3,72.2h0M40.3,72.2h0M37.1,49.1h0M36.7,48.2h0M44.2,46.0h0M33.1,24.3h0M32.7,23.3h0M31.3,47.9h0M31.5,48.8h0M31.5,71.7h0M31.9,70.8h0M28.3,46.4h0M37.8,56.0h0M26.4,64.9h0M16.9,40.8h0M18.4,50.8h0M32.7,30.9h0M58.0,66.6h0M57.7,65.6h0" stroke="#dca070" stroke-width="1.6" stroke-linecap="round"/><path d="M34.5,58.4h0M21.0,40.2h0M30.4,55.1h0M14.9,42.2h0M48.6,63.4h0" stroke="#dca070" stroke-width="0.8" stroke-linecap="round"/><path d="M36.6,50.9h0M36.6,52.0h0M24.6,50.1h0M26.0,36.0h0M48.1,52.4h0M20.7,68.4h0M20.8,67.4h0M24.5,69.3h0M50.9,53.7h0M51.1,54.5h0M23.6,32.2h0M23.6,33.2h0M29.1,51.7h0M29.1,52.7h0M24.8,43.9h0M25.7,43.6h0M16.4,26.5h0M15.4,26.6h0M8.6,11.9h0M13.4,25.1h0M14.3,24.7h0M32.8,30.6h0M32.7,25.2h0M26.0,71.1h0M22.1,25.1h0M22.5,24.2h0M33.5,45.9h0M32.5,45.8h0M29.8,57.7h0M34.2,51.9h0M32.8,56.2h0M21.6,29.9h0M9.3,47.0h0M8.8,46.3h0M29.8,45.5h0M47.4,72.0h0M47.1,71.2h0M35.6,76.2h0M36.4,75.8h0M27.7,27.0h0M38.9,66.4h0M27.8,23.1h0M27.7,24.1h0M35.6,64.1h0M13.1,52.8h0M44.3,64.3h0" stroke="#ddc630" stroke-width="1.6" stroke-linecap="round"/><path d="M33.9,52.4h0M33.4,52.9h0M35.5,62.5h0M19.6,51.1h0M19.3,51.7h0M25.9,38.3h0M26.0,38.9h0M16.3,61.6h0M22.9,70.1h0M23.1,69.5h0M9.3,12.1h0M32.9,24.4h0M26.6,71.2h0M21.8,45.5h0M21.3,45.9h0M32.2,56.4h0M39.7,66.3h0M34.8,46.4h0M44.2,64.9h0" stroke="#ddc630" stroke-width="0.8" stroke-linecap="round"/></g><use href="#lf" fill="none" stroke="#8a48c8" stroke-width="1.8"/></g>
<g transform="translate(332.20,346.30)"><use href="#lf" fill="#e39a50"/><g clip-path="url(#in1)"><use href="#lf" fill="#e07060"/><path d="M39.8,58.8h0M29.6,59.0h0M41.9,73.7h0M15.1,18.3h0M9.6,13.2h0M31.6,39.6h0M32.4,66.2h0M7.7,27.3h0M46.8,51.1h0M21.5,19.2h0M47.5,77.3h0M42.6,63.0h0M26.9,57.4h0M10.6,32.4h0M59.2,70.7h0M50.7,65.8h0M26.4,35.9h0M58.1,67.4h0M37.7,45.4h0M16.1,50.9h0M34.9,64.8h0" stroke="#4aa69a" stroke-width="4.0" stroke-linecap="round"/><path d="M40.5,56.9h0M13.3,59.8h0M13.0,42.6h0M40.1,53.1h0M30.2,67.6h0M13.5,33.4h0M40.7,75.4h0M47.0,75.2h0M14.7,20.4h0M39.3,66.0h0M50.3,67.9h0M9.3,11.3h0M40.0,71.5h0M29.6,40.2h0M30.3,66.6h0M9.8,32.2h0M13.0,37.8h0M52.1,76.7h0M23.5,19.0h0M6.4,43.6h0M48.8,50.7h0M36.0,62.4h0M28.8,57.7h0M28.3,21.8h0M56.3,73.8h0M27.1,53.0h0M38.4,65.8h0M49.4,76.4h0M22.6,41.2h0M42.6,65.2h0M22.2,15.1h0M32.6,67.8h0M43.0,65.0h0M28.5,58.8h0M31.4,62.5h0M41.3,46.0h0M31.5,34.0h0M41.8,47.8h0M40.3,46.7h0M51.2,55.0h0M28.3,35.1h0M35.5,62.8h0M21.0,16.4h0M42.7,48.0h0M31.2,36.8h0M51.8,60.7h0M38.7,43.6h0M48.0,61.8h0M17.3,49.2h0M29.9,37.6h0M49.7,67.9h0M41.0,43.5h0" stroke="#4aa69a" stroke-width="3.2" stroke-linecap="round"/><path d="M24.3,55.3h0M11.9,7.9h0M10.9,6.6h0M33.3,55.3h0M32.1,56.0h0M15.8,23.1h0M14.7,42.9h0M30.2,69.4h0M11.8,32.8h0M46.7,62.4h0M28.8,74.4h0M38.6,70.7h0M33.4,50.3h0M32.2,51.0h0M7.7,16.6h0M12.0,56.0h0M11.6,38.8h0M9.2,25.1h0M53.8,76.6h0M43.0,75.4h0M6.3,44.5h0M41.9,41.6h0M10.9,32.5h0M11.5,45.7h0M36.7,63.8h0M31.7,57.7h0M37.4,64.5h0M31.4,20.7h0M43.1,66.8h0M21.3,13.7h0M29.8,60.6h0M53.9,71.1h0M29.3,38.8h0M33.2,63.1h0M42.3,47.4h0M35.5,40.7h0M50.4,63.5h0M53.0,55.2h0M18.1,36.8h0M33.2,71.9h0M16.7,32.6h0M16.3,34.0h0M22.9,16.7h0M32.8,37.4h0M19.2,24.2h0M18.0,23.3h0M45.4,69.1h0M51.6,62.4h0M33.8,59.5h0M21.0,23.2h0M22.4,23.7h0M16.6,56.4h0M26.1,27.6h0M47.4,60.3h0M25.2,65.1h0M47.0,51.9h0M32.7,48.7h0M52.0,74.9h0M7.2,42.4h0M28.4,38.2h0M49.8,66.1h0M52.1,57.6h0M53.5,57.9h0M21.5,13.5h0M22.0,35.8h0" stroke="#4aa69a" stroke-width="2.4" stroke-linecap="round"/><path d="M10.6,7.5h0M12.1,7.0h0M45.4,62.3h0M28.2,73.2h0M10.8,56.4h0M44.0,74.6h0M40.8,42.3h0M54.3,69.9h0M33.0,73.2h0M46.6,69.4h0M26.0,66.0h0M47.9,52.7h0M8.2,41.7h0M21.6,34.6h0" stroke="#4aa69a" stroke-width="1.6" stroke-linecap="round"/><path d="M31.1,32.5h0M18.2,12.9h0M26.1,19.6h0M32.0,32.6h0M49.4,63.9h0M47.1,72.5h0M10.0,47.3h0M8.9,36.9h0M8.4,51.7h0M39.8,71.1h0M49.1,49.6h0M21.7,47.9h0M13.2,53.1h0M53.6,75.6h0M21.8,29.8h0M18.2,36.8h0M17.6,47.0h0M17.4,48.3h0M46.5,75.5h0M11.0,37.3h0M44.2,49.9h0" stroke="#4a88ad" stroke-width="3.2" stroke-linecap="round"/><path d="M31.8,30.7h0M16.7,11.0h0M16.6,60.0h0M28.6,46.9h0M27.1,47.4h0M16.7,12.1h0M24.4,19.8h0M50.1,62.5h0M8.7,28.9h0M8.5,35.3h0M48.6,51.8h0M17.2,36.9h0M17.1,38.4h0M27.8,55.0h0M7.3,22.2h0M40.2,76.7h0M39.0,77.5h0M23.4,14.4h0M22.8,13.1h0M17.1,25.8h0M44.6,47.9h0M44.6,49.5h0M16.8,8.6h0M22.2,53.5h0M20.1,33.7h0M23.4,47.7h0M11.4,53.0h0M28.5,61.4h0M29.4,44.8h0M15.7,54.0h0M40.1,65.9h0M19.2,38.2h0M16.6,33.4h0M12.7,60.1h0M48.0,75.8h0M40.3,55.2h0M33.0,34.5h0" stroke="#4a88ad" stroke-width="2.4" stroke-linecap="round"/><path d="M15.7,10.1h0M16.8,60.4h0M25.2,20.9h0M28.7,55.8h0M21.5,52.4h0M26.4,28.1h0M27.3,27.6h0M18.9,33.2h0M30.3,43.9h0M16.1,55.1h0M39.1,66.8h0M17.6,32.5h0M32.2,33.4h0" stroke="#4a88ad" stroke-width="1.6" stroke-linecap="round"/><path d="M15.0,5.0h0M4.8,35.9h0M39.9,72.8h0M18.3,36.6h0M11.4,48.4h0M48.4,61.7h0M31.7,26.4h0M50.6,67.0h0M56.9,73.5h0M8.7,33.9h0M22.5,36.2h0M59.7,65.8h0M28.0,74.0h0M5.6,27.9h0M34.5,53.5h0M26.5,40.1h0M13.8,19.4h0M58.9,66.1h0M31.5,39.4h0M13.7,19.6h0M15.5,43.9h0M39.7,35.8h0M50.0,68.4h0M50.7,72.6h0M13.1,15.7h0M34.4,43.4h0M13.2,33.5h0" stroke="#dca070" stroke-width="2.4" stroke-linecap="round"/><path d="M16.2,5.0h0M26.9,21.6h0M26.7,42.8h0M25.9,42.3h0M19.0,44.2h0M7.6,42.3h0M44.9,73.9h0M45.1,72.9h0M52.5,70.3h0M48.5,63.0h0M26.7,66.4h0M30.7,27.0h0M50.7,65.9h0M57.2,72.3h0M25.5,60.7h0M25.4,59.7h0M25.0,30.8h0M29.2,49.1h0M28.4,49.7h0M31.7,53.4h0M27.3,50.2h0M48.8,51.8h0M47.9,51.2h0M40.3,74.1h0M57.4,73.1h0M56.8,72.5h0M24.7,15.5h0M21.4,35.4h0M14.0,30.7h0M14.0,36.7h0M14.1,37.5h0M27.8,39.0h0M54.0,74.3h0M28.9,74.6h0M29.0,74.5h0M15.4,33.8h0M25.2,14.0h0M47.4,51.3h0M34.2,54.6h0M15.0,19.2h0M12.3,56.8h0M20.3,57.2h0M6.8,18.9h0M59.5,67.2h0M31.8,38.3h0M16.4,34.6h0M17.4,48.0h0M18.2,47.2h0M12.6,19.0h0M54.0,67.5h0M54.8,67.0h0M15.5,42.6h0M31.3,69.3h0M23.5,62.4h0M26.2,21.1h0M56.8,61.0h0M55.7,61.2h0M26.2,13.4h0M28.8,38.6h0M47.9,49.2h0M47.0,48.9h0M24.5,65.2h0M39.4,56.6h0M50.2,73.7h0M12.8,14.5h0M33.7,42.5h0" stroke="#dca070" stroke-width="1.6" stroke-linecap="round"/><path d="M31.5,54.1h0M7.4,18.5h0M29.4,39.1h0M25.2,64.9h0" stroke="#dca070" stroke-width="0.8" stroke-linecap="round"/></g><use href="#lf" fill="none" stroke="#a060c8" stroke-width="1.4"/></g>
<line x1="14.5" y1="182.5" x2="14.5" y2="428.5" stroke="#444" stroke-width="0.9"/>
<line x1="78.5" y1="182.5" x2="78.5" y2="428.5" stroke="#444" stroke-width="0.9"/>
<line x1="141.5" y1="182.5" x2="141.5" y2="428.5" stroke="#444" stroke-width="0.9"/>
<line x1="205.5" y1="182.5" x2="205.5" y2="428.5" stroke="#444" stroke-width="0.9"/>
<line x1="269.5" y1="182.5" x2="269.5" y2="428.5" stroke="#444" stroke-width="0.9"/>
<line x1="332.5" y1="182.5" x2="332.5" y2="428.5" stroke="#444" stroke-width="0.9"/>
<line x1="396.5" y1="182.5" x2="396.5" y2="428.5" stroke="#444" stroke-width="0.9"/>
<line x1="14.5" y1="182.5" x2="396.5" y2="182.5" stroke="#444" stroke-width="0.9"/>
<line x1="14.5" y1="264.5" x2="396.5" y2="264.5" stroke="#444" stroke-width="0.9"/>
<line x1="14.5" y1="346.5" x2="396.5" y2="346.5" stroke="#444" stroke-width="0.9"/>
<line x1="14.5" y1="428.5" x2="396.5" y2="428.5" stroke="#444" stroke-width="0.9"/>
<text x="46.50" y="178.90" font-size="6.97" text-anchor="middle" fill="#1a1a1a" stroke="#1a1a1a" stroke-width="0.12" textLength="23.15" lengthAdjust="spacingAndGlyphs">bin200</text>
<text x="110.00" y="178.90" font-size="6.97" text-anchor="middle" fill="#1a1a1a" stroke="#1a1a1a" stroke-width="0.12" textLength="23.15" lengthAdjust="spacingAndGlyphs">bin150</text>
<text x="173.50" y="178.90" font-size="6.97" text-anchor="middle" fill="#1a1a1a" stroke="#1a1a1a" stroke-width="0.12" textLength="23.15" lengthAdjust="spacingAndGlyphs">bin100</text>
<text x="237.50" y="178.90" font-size="6.97" text-anchor="middle" fill="#1a1a1a" stroke="#1a1a1a" stroke-width="0.12" textLength="18.89" lengthAdjust="spacingAndGlyphs">bin50</text>
<text x="301.00" y="178.90" font-size="6.97" text-anchor="middle" fill="#1a1a1a" stroke="#1a1a1a" stroke-width="0.12" textLength="18.89" lengthAdjust="spacingAndGlyphs">bin20</text>
<text x="364.50" y="178.90" font-size="6.97" text-anchor="middle" fill="#1a1a1a" stroke="#1a1a1a" stroke-width="0.12" textLength="18.89" lengthAdjust="spacingAndGlyphs">bin10</text>
<text transform="translate(10.90,224.00) rotate(-90)" font-size="6.97" text-anchor="middle" fill="#1a1a1a" stroke="#1a1a1a" stroke-width="0.12" textLength="13.84" lengthAdjust="spacingAndGlyphs">ADT</text>
<text transform="translate(10.90,306.00) rotate(-90)" font-size="6.97" text-anchor="middle" fill="#1a1a1a" stroke="#1a1a1a" stroke-width="0.12" textLength="14.25" lengthAdjust="spacingAndGlyphs">RNA</text>
<text transform="translate(10.90,388.00) rotate(-90)" font-size="6.97" text-anchor="middle" fill="#1a1a1a" stroke="#1a1a1a" stroke-width="0.12" textLength="22.88" lengthAdjust="spacingAndGlyphs">SMART</text>
<text x="398.60" y="378.00" font-size="6.24" fill="#1a1a1a" stroke="#1a1a1a" stroke-width="0.12" textLength="24.42" lengthAdjust="spacingAndGlyphs">Clusters</text>
<circle cx="407.1" cy="384.40" r="2.5" fill="#e8995a"/>
<text x="417.20" y="386.35" font-size="5.72" fill="#1a1a1a" stroke="#1a1a1a" stroke-width="0.12" textLength="3.50" lengthAdjust="spacingAndGlyphs">1</text>
<circle cx="407.1" cy="392.35" r="2.5" fill="#45a888"/>
<text x="417.20" y="394.30" font-size="5.72" fill="#1a1a1a" stroke="#1a1a1a" stroke-width="0.12" textLength="3.50" lengthAdjust="spacingAndGlyphs">2</text>
<circle cx="407.1" cy="400.30" r="2.5" fill="#4a80a8"/>
<text x="417.20" y="402.25" font-size="5.72" fill="#1a1a1a" stroke="#1a1a1a" stroke-width="0.12" textLength="3.50" lengthAdjust="spacingAndGlyphs">3</text>
<circle cx="407.1" cy="408.25" r="2.5" fill="#e0c828"/>
<text x="417.20" y="410.20" font-size="5.72" fill="#1a1a1a" stroke="#1a1a1a" stroke-width="0.12" textLength="3.50" lengthAdjust="spacingAndGlyphs">4</text>
<circle cx="407.1" cy="416.20" r="2.5" fill="#e0364a"/>
<text x="417.20" y="418.15" font-size="5.72" fill="#1a1a1a" stroke="#1a1a1a" stroke-width="0.12" textLength="3.50" lengthAdjust="spacingAndGlyphs">5</text>
<circle cx="407.1" cy="424.15" r="2.5" fill="#8a40c8"/>
<text x="417.20" y="426.10" font-size="5.72" fill="#1a1a1a" stroke="#1a1a1a" stroke-width="0.12" textLength="3.50" lengthAdjust="spacingAndGlyphs">6</text>
<text x="410.80" y="184.50" font-size="15.00" font-weight="bold" fill="#000">d</text>
<line x1="437.10" y1="182.5" x2="437.10" y2="279.5" stroke="#dcdcdc" stroke-width="0.7"/>
<line x1="453.02" y1="182.5" x2="453.02" y2="279.5" stroke="#dcdcdc" stroke-width="0.7"/>
<line x1="475.62" y1="182.5" x2="475.62" y2="279.5" stroke="#dcdcdc" stroke-width="0.7"/>
<line x1="514.50" y1="182.5" x2="514.50" y2="279.5" stroke="#dcdcdc" stroke-width="0.7"/>
<line x1="566.21" y1="182.5" x2="566.21" y2="279.5" stroke="#dcdcdc" stroke-width="0.7"/>
<line x1="605.42" y1="182.5" x2="605.42" y2="279.5" stroke="#dcdcdc" stroke-width="0.7"/>
<line x1="429.5" y1="254.50" x2="625.5" y2="254.50" stroke="#dcdcdc" stroke-width="0.7"/>
<line x1="429.5" y1="207.50" x2="625.5" y2="207.50" stroke="#dcdcdc" stroke-width="0.7"/>
<polyline points="437.10,215.58 453.02,201.55 475.62,201.55 514.50,201.55" fill="none" stroke="#808080" stroke-width="0.95" stroke-dasharray="3.5,1.3"/>
<path d="M437.10,213.38L439.20,217.18L435.00,217.18Z" fill="#808080"/>
<path d="M453.02,199.35L455.12,203.15L450.92,203.15Z" fill="#808080"/>
<path d="M475.62,199.35L477.72,203.15L473.52,203.15Z" fill="#808080"/>
<path d="M514.50,199.35L516.60,203.15L512.40,203.15Z" fill="#808080"/>
<polyline points="437.10,244.28 453.02,231.54 475.62,211.40 514.50,190.08" fill="none" stroke="#d62728" stroke-width="0.95" stroke-dasharray="2.4,1,0.8,1"/>
<path d="M437.10,242.68L438.38,244.28L437.10,245.88L435.82,244.28Z" fill="#d62728"/>
<path d="M453.02,229.94L454.30,231.54L453.02,233.14L451.74,231.54Z" fill="#d62728"/>
<path d="M475.62,209.80L476.90,211.40L475.62,213.00L474.34,211.40Z" fill="#d62728"/>
<path d="M514.50,188.48L515.78,190.08L514.50,191.68L513.22,190.08Z" fill="#d62728"/>
<polyline points="437.10,221.61 453.02,210.51 475.62,194.93" fill="none" stroke="#b9c22e" stroke-width="0.95" stroke-dasharray="3.2,0.9"/>
<path d="M437.10,220.01L438.38,221.61L437.10,223.21L435.82,221.61Z" fill="#b9c22e"/>
<path d="M453.02,208.91L454.30,210.51L453.02,212.11L451.74,210.51Z" fill="#b9c22e"/>
<path d="M475.62,193.33L476.90,194.93L475.62,196.53L474.34,194.93Z" fill="#b9c22e"/>
<polyline points="437.10,258.68 453.02,245.03 475.62,230.01 514.50,207.21" fill="none" stroke="#d96fe0" stroke-width="0.95" stroke-dasharray="2,1"/>
<path d="M437.10,257.08L438.38,258.68L437.10,260.28L435.82,258.68Z" fill="#d96fe0"/>
<path d="M453.02,243.43L454.30,245.03L453.02,246.63L451.74,245.03Z" fill="#d96fe0"/>
<path d="M475.62,228.41L476.90,230.01L475.62,231.61L474.34,230.01Z" fill="#d96fe0"/>
<path d="M514.50,205.61L515.78,207.21L514.50,208.81L513.22,207.21Z" fill="#d96fe0"/>
<polyline points="437.10,262.89 453.02,256.29 475.62,244.28 514.50,220.21" fill="none" stroke="#3fcdd6" stroke-width="0.95"/>
<circle cx="437.10" cy="262.89" r="1.76" fill="#3fcdd6"/>
<circle cx="453.02" cy="256.29" r="1.76" fill="#3fcdd6"/>
<circle cx="475.62" cy="244.28" r="1.76" fill="#3fcdd6"/>
<circle cx="514.50" cy="220.21" r="1.76" fill="#3fcdd6"/>
<polyline points="437.10,275.52 453.02,273.41 475.62,270.71 514.50,259.36" fill="none" stroke="#8c564b" stroke-width="0.95" stroke-dasharray="2.2,1.2"/>
<rect x="435.82" y="274.24" width="2.56" height="2.56" fill="#8c564b"/>
<rect x="451.74" y="272.13" width="2.56" height="2.56" fill="#8c564b"/>
<rect x="474.34" y="269.43" width="2.56" height="2.56" fill="#8c564b"/>
<rect x="513.22" y="258.08" width="2.56" height="2.56" fill="#8c564b"/>
<polyline points="437.10,275.81 453.02,274.30 475.62,272.80 514.50,266.81 566.21,240.40 605.42,214.59" fill="none" stroke="#ee6fcf" stroke-width="1.1"/>
<circle cx="437.10" cy="275.81" r="1.98" fill="#ee6fcf"/>
<circle cx="453.02" cy="274.30" r="1.98" fill="#ee6fcf"/>
<circle cx="475.62" cy="272.80" r="1.98" fill="#ee6fcf"/>
<circle cx="514.50" cy="266.81" r="1.98" fill="#ee6fcf"/>
<circle cx="566.21" cy="240.40" r="1.98" fill="#ee6fcf"/>
<circle cx="605.42" cy="214.59" r="1.98" fill="#ee6fcf"/>
<text x="510.40" y="188.00" font-size="4.99" fill="#d62728" stroke="#d62728" stroke-width="0.12" textLength="23.79" lengthAdjust="spacingAndGlyphs">23480Mib</text>
<text x="510.40" y="200.00" font-size="4.99" fill="#808080" stroke="#808080" stroke-width="0.12" textLength="23.79" lengthAdjust="spacingAndGlyphs">13386Mib</text>
<text x="510.40" y="205.40" font-size="4.99" fill="#d96fe0" stroke="#d96fe0" stroke-width="0.12" textLength="23.79" lengthAdjust="spacingAndGlyphs">10144Mib</text>
<text x="512.00" y="218.60" font-size="4.99" fill="#3fcdd6" stroke="#3fcdd6" stroke-width="0.12" textLength="20.74" lengthAdjust="spacingAndGlyphs">5364Mib</text>
<text x="512.00" y="257.50" font-size="4.99" fill="#8c564b" stroke="#8c564b" stroke-width="0.12" textLength="17.68" lengthAdjust="spacingAndGlyphs">788Mib</text>
<text x="602.60" y="212.60" font-size="4.99" fill="#ee6fcf" stroke="#ee6fcf" stroke-width="0.12" textLength="20.74" lengthAdjust="spacingAndGlyphs">7064Mib</text>
<text x="471.50" y="193.20" font-size="4.99" fill="#b9c22e" stroke="#b9c22e" stroke-width="0.12" textLength="23.79" lengthAdjust="spacingAndGlyphs">18514Mib</text>
<rect x="429.5" y="182.5" width="196.00" height="97.00" fill="none" stroke="#222" stroke-width="0.8"/>
<line x1="437.10" y1="279.5" x2="437.10" y2="281.7" stroke="#222" stroke-width="0.6"/>
<text x="437.10" y="288.50" font-size="5.51" text-anchor="middle" fill="#1a1a1a" stroke="#1a1a1a" stroke-width="0.12" textLength="13.49" lengthAdjust="spacingAndGlyphs">2001</text>
<line x1="453.02" y1="279.5" x2="453.02" y2="281.7" stroke="#222" stroke-width="0.6"/>
<text x="453.02" y="288.50" font-size="5.51" text-anchor="middle" fill="#1a1a1a" stroke="#1a1a1a" stroke-width="0.12" textLength="13.49" lengthAdjust="spacingAndGlyphs">3507</text>
<line x1="475.62" y1="279.5" x2="475.62" y2="281.7" stroke="#222" stroke-width="0.6"/>
<text x="475.62" y="288.50" font-size="5.51" text-anchor="middle" fill="#1a1a1a" stroke="#1a1a1a" stroke-width="0.12" textLength="13.49" lengthAdjust="spacingAndGlyphs">7782</text>
<line x1="514.50" y1="279.5" x2="514.50" y2="281.7" stroke="#222" stroke-width="0.6"/>
<text x="514.50" y="288.50" font-size="5.51" text-anchor="middle" fill="#1a1a1a" stroke="#1a1a1a" stroke-width="0.12" textLength="16.86" lengthAdjust="spacingAndGlyphs">30652</text>
<line x1="566.21" y1="279.5" x2="566.21" y2="281.7" stroke="#222" stroke-width="0.6"/>
<text x="566.21" y="288.50" font-size="5.51" text-anchor="middle" fill="#1a1a1a" stroke="#1a1a1a" stroke-width="0.12" textLength="20.23" lengthAdjust="spacingAndGlyphs">189867</text>
<line x1="605.42" y1="279.5" x2="605.42" y2="281.7" stroke="#222" stroke-width="0.6"/>
<text x="605.42" y="288.50" font-size="5.51" text-anchor="middle" fill="#1a1a1a" stroke="#1a1a1a" stroke-width="0.12" textLength="20.23" lengthAdjust="spacingAndGlyphs">756430</text>
<line x1="437.09" y1="279.5" x2="437.09" y2="280.5" stroke="#222" stroke-width="0.4"/>
<line x1="448.59" y1="279.5" x2="448.59" y2="280.5" stroke="#222" stroke-width="0.4"/>
<line x1="456.75" y1="279.5" x2="456.75" y2="280.5" stroke="#222" stroke-width="0.4"/>
<line x1="463.07" y1="279.5" x2="463.07" y2="280.5" stroke="#222" stroke-width="0.4"/>
<line x1="468.24" y1="279.5" x2="468.24" y2="280.5" stroke="#222" stroke-width="0.4"/>
<line x1="472.62" y1="279.5" x2="472.62" y2="280.5" stroke="#222" stroke-width="0.4"/>
<line x1="476.40" y1="279.5" x2="476.40" y2="280.5" stroke="#222" stroke-width="0.4"/>
<line x1="479.74" y1="279.5" x2="479.74" y2="280.5" stroke="#222" stroke-width="0.4"/>
<line x1="482.73" y1="279.5" x2="482.73" y2="281.1" stroke="#222" stroke-width="0.4"/>
<line x1="502.39" y1="279.5" x2="502.39" y2="280.5" stroke="#222" stroke-width="0.4"/>
<line x1="513.89" y1="279.5" x2="513.89" y2="280.5" stroke="#222" stroke-width="0.4"/>
<line x1="522.05" y1="279.5" x2="522.05" y2="280.5" stroke="#222" stroke-width="0.4"/>
<line x1="528.37" y1="279.5" x2="528.37" y2="280.5" stroke="#222" stroke-width="0.4"/>
<line x1="533.54" y1="279.5" x2="533.54" y2="280.5" stroke="#222" stroke-width="0.4"/>
<line x1="537.92" y1="279.5" x2="537.92" y2="280.5" stroke="#222" stroke-width="0.4"/>
<line x1="541.70" y1="279.5" x2="541.70" y2="280.5" stroke="#222" stroke-width="0.4"/>
<line x1="545.04" y1="279.5" x2="545.04" y2="280.5" stroke="#222" stroke-width="0.4"/>
<line x1="548.03" y1="279.5" x2="548.03" y2="281.1" stroke="#222" stroke-width="0.4"/>
<line x1="567.69" y1="279.5" x2="567.69" y2="280.5" stroke="#222" stroke-width="0.4"/>
<line x1="579.19" y1="279.5" x2="579.19" y2="280.5" stroke="#222" stroke-width="0.4"/>
<line x1="587.35" y1="279.5" x2="587.35" y2="280.5" stroke="#222" stroke-width="0.4"/>
<line x1="593.67" y1="279.5" x2="593.67" y2="280.5" stroke="#222" stroke-width="0.4"/>
<line x1="598.84" y1="279.5" x2="598.84" y2="280.5" stroke="#222" stroke-width="0.4"/>
<line x1="603.22" y1="279.5" x2="603.22" y2="280.5" stroke="#222" stroke-width="0.4"/>
<line x1="607.00" y1="279.5" x2="607.00" y2="280.5" stroke="#222" stroke-width="0.4"/>
<line x1="610.34" y1="279.5" x2="610.34" y2="280.5" stroke="#222" stroke-width="0.4"/>
<line x1="613.33" y1="279.5" x2="613.33" y2="281.1" stroke="#222" stroke-width="0.4"/>
<line x1="428.3" y1="279.08" x2="429.5" y2="279.08" stroke="#222" stroke-width="0.4"/>
<line x1="428.3" y1="273.20" x2="429.5" y2="273.20" stroke="#222" stroke-width="0.4"/>
<line x1="428.3" y1="268.65" x2="429.5" y2="268.65" stroke="#222" stroke-width="0.4"/>
<line x1="428.3" y1="264.93" x2="429.5" y2="264.93" stroke="#222" stroke-width="0.4"/>
<line x1="428.3" y1="261.78" x2="429.5" y2="261.78" stroke="#222" stroke-width="0.4"/>
<line x1="428.3" y1="259.05" x2="429.5" y2="259.05" stroke="#222" stroke-width="0.4"/>
<line x1="428.3" y1="256.65" x2="429.5" y2="256.65" stroke="#222" stroke-width="0.4"/>
<line x1="427.3" y1="254.50" x2="429.5" y2="254.50" stroke="#222" stroke-width="0.6"/>
<text x="421.90" y="256.60" font-size="5.62" text-anchor="end" fill="#1a1a1a" stroke="#1a1a1a" stroke-width="0.12" textLength="6.87" lengthAdjust="spacingAndGlyphs">10</text><text x="422.10" y="254.40" font-size="3.95" fill="#1a1a1a" stroke="#1a1a1a" stroke-width="0.12" textLength="2.42" lengthAdjust="spacingAndGlyphs">3</text>
<line x1="428.3" y1="240.35" x2="429.5" y2="240.35" stroke="#222" stroke-width="0.4"/>
<line x1="428.3" y1="232.08" x2="429.5" y2="232.08" stroke="#222" stroke-width="0.4"/>
<line x1="428.3" y1="226.20" x2="429.5" y2="226.20" stroke="#222" stroke-width="0.4"/>
<line x1="428.3" y1="221.65" x2="429.5" y2="221.65" stroke="#222" stroke-width="0.4"/>
<line x1="428.3" y1="217.93" x2="429.5" y2="217.93" stroke="#222" stroke-width="0.4"/>
<line x1="428.3" y1="214.78" x2="429.5" y2="214.78" stroke="#222" stroke-width="0.4"/>
<line x1="428.3" y1="212.05" x2="429.5" y2="212.05" stroke="#222" stroke-width="0.4"/>
<line x1="428.3" y1="209.65" x2="429.5" y2="209.65" stroke="#222" stroke-width="0.4"/>
<line x1="427.3" y1="207.50" x2="429.5" y2="207.50" stroke="#222" stroke-width="0.6"/>
<text x="421.90" y="209.60" font-size="5.62" text-anchor="end" fill="#1a1a1a" stroke="#1a1a1a" stroke-width="0.12" textLength="6.87" lengthAdjust="spacingAndGlyphs">10</text><text x="422.10" y="207.40" font-size="3.95" fill="#1a1a1a" stroke="#1a1a1a" stroke-width="0.12" textLength="2.42" lengthAdjust="spacingAndGlyphs">4</text>
<line x1="428.3" y1="193.35" x2="429.5" y2="193.35" stroke="#222" stroke-width="0.4"/>
<line x1="428.3" y1="185.08" x2="429.5" y2="185.08" stroke="#222" stroke-width="0.4"/>
<text x="527.20" y="178.90" font-size="7.28" text-anchor="middle" fill="#1a1a1a" stroke="#1a1a1a" stroke-width="0.12" textLength="103.96" lengthAdjust="spacingAndGlyphs">GPU Memory vs Spot Number</text>
<text x="527.20" y="296.50" font-size="7.23" text-anchor="middle" fill="#1a1a1a" stroke="#1a1a1a" stroke-width="0.12" textLength="42.27" lengthAdjust="spacingAndGlyphs">Spot Counts</text>
<text transform="translate(412.00,228.30) rotate(-90)" font-size="6.86" text-anchor="middle" fill="#1a1a1a" stroke="#1a1a1a" stroke-width="0.12" textLength="58.90" lengthAdjust="spacingAndGlyphs">GPU Memory /Mib</text>
<line x1="633.2" y1="215.90" x2="644.5" y2="215.90" stroke="#ee6fcf" stroke-width="0.8"/>
<circle cx="638.80" cy="215.90" r="1.65" fill="#ee6fcf"/>
<text x="648.80" y="217.80" font-size="5.72" fill="#1a1a1a" stroke="#1a1a1a" stroke-width="0.12" textLength="18.78" lengthAdjust="spacingAndGlyphs">SMART</text>
<line x1="633.2" y1="224.13" x2="644.5" y2="224.13" stroke="#8c564b" stroke-width="0.8" stroke-dasharray="2.2,1.2"/>
<rect x="637.92" y="223.25" width="1.76" height="1.76" fill="#8c564b"/>
<text x="648.80" y="226.03" font-size="5.72" fill="#1a1a1a" stroke="#1a1a1a" stroke-width="0.12" textLength="31.60" lengthAdjust="spacingAndGlyphs">SpatialGlue</text>
<line x1="633.2" y1="232.36" x2="644.5" y2="232.36" stroke="#3fcdd6" stroke-width="0.8"/>
<circle cx="638.80" cy="232.36" r="1.21" fill="#3fcdd6"/>
<text x="648.80" y="234.26" font-size="5.72" fill="#1a1a1a" stroke="#1a1a1a" stroke-width="0.12" textLength="14.19" lengthAdjust="spacingAndGlyphs">MISO</text>
<line x1="633.2" y1="240.59" x2="644.5" y2="240.59" stroke="#d96fe0" stroke-width="0.8" stroke-dasharray="2,1"/>
<path d="M638.80,239.49L639.68,240.59L638.80,241.69L637.92,240.59Z" fill="#d96fe0"/>
<text x="648.80" y="242.49" font-size="5.72" fill="#1a1a1a" stroke="#1a1a1a" stroke-width="0.12" textLength="24.23" lengthAdjust="spacingAndGlyphs">COSMOS</text>
<line x1="633.2" y1="248.82" x2="644.5" y2="248.82" stroke="#b9c22e" stroke-width="0.8" stroke-dasharray="3.2,0.9"/>
<path d="M638.80,247.72L639.68,248.82L638.80,249.92L637.92,248.82Z" fill="#b9c22e"/>
<text x="648.80" y="250.72" font-size="5.72" fill="#1a1a1a" stroke="#1a1a1a" stroke-width="0.12" textLength="31.04" lengthAdjust="spacingAndGlyphs">CellCharter</text>
<line x1="633.2" y1="257.05" x2="644.5" y2="257.05" stroke="#d62728" stroke-width="0.8" stroke-dasharray="2.4,1,0.8,1"/>
<path d="M638.80,255.95L639.68,257.05L638.80,258.15L637.92,257.05Z" fill="#d62728"/>
<text x="648.80" y="258.95" font-size="5.72" fill="#1a1a1a" stroke="#1a1a1a" stroke-width="0.12" textLength="25.05" lengthAdjust="spacingAndGlyphs">PRESENT</text>
<line x1="633.2" y1="265.28" x2="644.5" y2="265.28" stroke="#808080" stroke-width="0.8" stroke-dasharray="3.5,1.3"/>
<path d="M638.80,264.07L639.95,266.16L637.64,266.16Z" fill="#808080"/>
<text x="648.80" y="267.18" font-size="5.72" fill="#1a1a1a" stroke="#1a1a1a" stroke-width="0.12" textLength="34.44" lengthAdjust="spacingAndGlyphs">SpaMultiVAE</text>
<text x="446.20" y="314.80" font-size="15.00" font-weight="bold" fill="#000">e</text>
<line x1="483.30" y1="316.5" x2="483.30" y2="414.5" stroke="#dcdcdc" stroke-width="0.7"/>
<line x1="499.16" y1="316.5" x2="499.16" y2="414.5" stroke="#dcdcdc" stroke-width="0.7"/>
<line x1="521.67" y1="316.5" x2="521.67" y2="414.5" stroke="#dcdcdc" stroke-width="0.7"/>
<line x1="560.40" y1="316.5" x2="560.40" y2="414.5" stroke="#dcdcdc" stroke-width="0.7"/>
<line x1="611.92" y1="316.5" x2="611.92" y2="414.5" stroke="#dcdcdc" stroke-width="0.7"/>
<line x1="650.97" y1="316.5" x2="650.97" y2="414.5" stroke="#dcdcdc" stroke-width="0.7"/>
<line x1="473.5" y1="398.90" x2="670.5" y2="398.90" stroke="#dcdcdc" stroke-width="0.7"/>
<line x1="473.5" y1="376.73" x2="670.5" y2="376.73" stroke="#dcdcdc" stroke-width="0.7"/>
<line x1="473.5" y1="354.56" x2="670.5" y2="354.56" stroke="#dcdcdc" stroke-width="0.7"/>
<line x1="473.5" y1="332.39" x2="670.5" y2="332.39" stroke="#dcdcdc" stroke-width="0.7"/>
<polyline points="483.30,349.39 499.16,348.79 521.67,340.19 560.40,326.98" fill="none" stroke="#808080" stroke-width="0.95" stroke-dasharray="3.5,1.3"/>
<path d="M483.30,347.19L485.40,350.99L481.20,350.99Z" fill="#808080"/>
<path d="M499.16,346.59L501.26,350.39L497.06,350.39Z" fill="#808080"/>
<path d="M521.67,337.99L523.77,341.79L519.57,341.79Z" fill="#808080"/>
<path d="M560.40,324.78L562.50,328.58L558.30,328.58Z" fill="#808080"/>
<polyline points="483.30,386.57 499.16,385.31 521.67,377.33 560.40,365.99" fill="none" stroke="#d62728" stroke-width="0.95" stroke-dasharray="2.4,1,0.8,1"/>
<path d="M483.30,384.97L484.58,386.57L483.30,388.17L482.02,386.57Z" fill="#d62728"/>
<path d="M499.16,383.71L500.44,385.31L499.16,386.91L497.88,385.31Z" fill="#d62728"/>
<path d="M521.67,375.73L522.95,377.33L521.67,378.93L520.39,377.33Z" fill="#d62728"/>
<path d="M560.40,364.39L561.68,365.99L560.40,367.59L559.12,365.99Z" fill="#d62728"/>
<polyline points="483.30,391.31 499.16,387.12 521.67,380.73" fill="none" stroke="#b9c22e" stroke-width="0.95" stroke-dasharray="3.2,0.9"/>
<path d="M483.30,389.71L484.58,391.31L483.30,392.91L482.02,391.31Z" fill="#b9c22e"/>
<path d="M499.16,385.52L500.44,387.12L499.16,388.72L497.88,387.12Z" fill="#b9c22e"/>
<path d="M521.67,379.13L522.95,380.73L521.67,382.33L520.39,380.73Z" fill="#b9c22e"/>
<polyline points="483.30,392.72 499.16,390.08 521.67,382.84 560.40,366.31" fill="none" stroke="#d96fe0" stroke-width="0.95" stroke-dasharray="2,1"/>
<path d="M483.30,391.12L484.58,392.72L483.30,394.32L482.02,392.72Z" fill="#d96fe0"/>
<path d="M499.16,388.48L500.44,390.08L499.16,391.68L497.88,390.08Z" fill="#d96fe0"/>
<path d="M521.67,381.24L522.95,382.84L521.67,384.44L520.39,382.84Z" fill="#d96fe0"/>
<path d="M560.40,364.71L561.68,366.31L560.40,367.91L559.12,366.31Z" fill="#d96fe0"/>
<polyline points="483.30,389.70 499.16,383.40 521.67,380.16 560.40,369.54" fill="none" stroke="#3fcdd6" stroke-width="0.95"/>
<circle cx="483.30" cy="389.70" r="1.76" fill="#3fcdd6"/>
<circle cx="499.16" cy="383.40" r="1.76" fill="#3fcdd6"/>
<circle cx="521.67" cy="380.16" r="1.76" fill="#3fcdd6"/>
<circle cx="560.40" cy="369.54" r="1.76" fill="#3fcdd6"/>
<polyline points="483.30,394.37 499.16,394.62 521.67,392.72 560.40,377.74" fill="none" stroke="#8c564b" stroke-width="0.95" stroke-dasharray="2.2,1.2"/>
<rect x="482.02" y="393.09" width="2.56" height="2.56" fill="#8c564b"/>
<rect x="497.88" y="393.34" width="2.56" height="2.56" fill="#8c564b"/>
<rect x="520.39" y="391.44" width="2.56" height="2.56" fill="#8c564b"/>
<rect x="559.12" y="376.46" width="2.56" height="2.56" fill="#8c564b"/>
<polyline points="483.30,408.22 499.16,398.90 521.67,398.34 560.40,399.50 611.92,386.57 650.97,381.81" fill="none" stroke="#ee6fcf" stroke-width="1.1"/>
<circle cx="483.30" cy="408.22" r="1.98" fill="#ee6fcf"/>
<circle cx="499.16" cy="398.90" r="1.98" fill="#ee6fcf"/>
<circle cx="521.67" cy="398.34" r="1.98" fill="#ee6fcf"/>
<circle cx="560.40" cy="399.50" r="1.98" fill="#ee6fcf"/>
<circle cx="611.92" cy="386.57" r="1.98" fill="#ee6fcf"/>
<circle cx="650.97" cy="381.81" r="1.98" fill="#ee6fcf"/>
<text x="561.60" y="328.50" font-size="4.99" fill="#808080" stroke="#808080" stroke-width="0.12" textLength="17.77" lengthAdjust="spacingAndGlyphs">17537s</text>
<text x="564.30" y="363.40" font-size="4.99" fill="#d96fe0" stroke="#d96fe0" stroke-width="0.12" textLength="11.66" lengthAdjust="spacingAndGlyphs">807s</text>
<text x="564.30" y="367.10" font-size="4.99" fill="#d62728" stroke="#d62728" stroke-width="0.12" textLength="11.66" lengthAdjust="spacingAndGlyphs">305s</text>
<text x="564.30" y="370.80" font-size="4.99" fill="#3fcdd6" stroke="#3fcdd6" stroke-width="0.12" textLength="11.66" lengthAdjust="spacingAndGlyphs">211s</text>
<text x="565.80" y="378.80" font-size="4.99" fill="#8c564b" stroke="#8c564b" stroke-width="0.12" textLength="8.61" lengthAdjust="spacingAndGlyphs">90s</text>
<text x="656.30" y="383.40" font-size="4.99" fill="#ee6fcf" stroke="#ee6fcf" stroke-width="0.12" textLength="8.61" lengthAdjust="spacingAndGlyphs">59s</text>
<text x="526.50" y="382.60" font-size="4.99" fill="#b9c22e" stroke="#b9c22e" stroke-width="0.12" textLength="8.61" lengthAdjust="spacingAndGlyphs">66s</text>
<rect x="473.5" y="316.5" width="197.00" height="98.00" fill="none" stroke="#222" stroke-width="0.8"/>
<line x1="483.30" y1="414.5" x2="483.30" y2="416.7" stroke="#222" stroke-width="0.6"/>
<text x="483.30" y="423.00" font-size="5.51" text-anchor="middle" fill="#1a1a1a" stroke="#1a1a1a" stroke-width="0.12" textLength="13.49" lengthAdjust="spacingAndGlyphs">2001</text>
<line x1="499.16" y1="414.5" x2="499.16" y2="416.7" stroke="#222" stroke-width="0.6"/>
<text x="499.16" y="423.00" font-size="5.51" text-anchor="middle" fill="#1a1a1a" stroke="#1a1a1a" stroke-width="0.12" textLength="13.49" lengthAdjust="spacingAndGlyphs">3507</text>
<line x1="521.67" y1="414.5" x2="521.67" y2="416.7" stroke="#222" stroke-width="0.6"/>
<text x="521.67" y="423.00" font-size="5.51" text-anchor="middle" fill="#1a1a1a" stroke="#1a1a1a" stroke-width="0.12" textLength="13.49" lengthAdjust="spacingAndGlyphs">7782</text>
<line x1="560.40" y1="414.5" x2="560.40" y2="416.7" stroke="#222" stroke-width="0.6"/>
<text x="560.40" y="423.00" font-size="5.51" text-anchor="middle" fill="#1a1a1a" stroke="#1a1a1a" stroke-width="0.12" textLength="16.86" lengthAdjust="spacingAndGlyphs">30652</text>
<line x1="611.92" y1="414.5" x2="611.92" y2="416.7" stroke="#222" stroke-width="0.6"/>
<text x="611.92" y="423.00" font-size="5.51" text-anchor="middle" fill="#1a1a1a" stroke="#1a1a1a" stroke-width="0.12" textLength="20.23" lengthAdjust="spacingAndGlyphs">189867</text>
<line x1="650.97" y1="414.5" x2="650.97" y2="416.7" stroke="#222" stroke-width="0.6"/>
<text x="650.97" y="423.00" font-size="5.51" text-anchor="middle" fill="#1a1a1a" stroke="#1a1a1a" stroke-width="0.12" textLength="20.23" lengthAdjust="spacingAndGlyphs">756430</text>
<line x1="483.29" y1="414.5" x2="483.29" y2="415.5" stroke="#222" stroke-width="0.4"/>
<line x1="494.74" y1="414.5" x2="494.74" y2="415.5" stroke="#222" stroke-width="0.4"/>
<line x1="502.87" y1="414.5" x2="502.87" y2="415.5" stroke="#222" stroke-width="0.4"/>
<line x1="509.17" y1="414.5" x2="509.17" y2="415.5" stroke="#222" stroke-width="0.4"/>
<line x1="514.33" y1="414.5" x2="514.33" y2="415.5" stroke="#222" stroke-width="0.4"/>
<line x1="518.68" y1="414.5" x2="518.68" y2="415.5" stroke="#222" stroke-width="0.4"/>
<line x1="522.45" y1="414.5" x2="522.45" y2="415.5" stroke="#222" stroke-width="0.4"/>
<line x1="525.78" y1="414.5" x2="525.78" y2="415.5" stroke="#222" stroke-width="0.4"/>
<line x1="528.76" y1="414.5" x2="528.76" y2="416.1" stroke="#222" stroke-width="0.4"/>
<line x1="548.34" y1="414.5" x2="548.34" y2="415.5" stroke="#222" stroke-width="0.4"/>
<line x1="559.79" y1="414.5" x2="559.79" y2="415.5" stroke="#222" stroke-width="0.4"/>
<line x1="567.92" y1="414.5" x2="567.92" y2="415.5" stroke="#222" stroke-width="0.4"/>
<line x1="574.22" y1="414.5" x2="574.22" y2="415.5" stroke="#222" stroke-width="0.4"/>
<line x1="579.38" y1="414.5" x2="579.38" y2="415.5" stroke="#222" stroke-width="0.4"/>
<line x1="583.73" y1="414.5" x2="583.73" y2="415.5" stroke="#222" stroke-width="0.4"/>
<line x1="587.50" y1="414.5" x2="587.50" y2="415.5" stroke="#222" stroke-width="0.4"/>
<line x1="590.83" y1="414.5" x2="590.83" y2="415.5" stroke="#222" stroke-width="0.4"/>
<line x1="593.81" y1="414.5" x2="593.81" y2="416.1" stroke="#222" stroke-width="0.4"/>
<line x1="613.39" y1="414.5" x2="613.39" y2="415.5" stroke="#222" stroke-width="0.4"/>
<line x1="624.84" y1="414.5" x2="624.84" y2="415.5" stroke="#222" stroke-width="0.4"/>
<line x1="632.97" y1="414.5" x2="632.97" y2="415.5" stroke="#222" stroke-width="0.4"/>
<line x1="639.27" y1="414.5" x2="639.27" y2="415.5" stroke="#222" stroke-width="0.4"/>
<line x1="644.43" y1="414.5" x2="644.43" y2="415.5" stroke="#222" stroke-width="0.4"/>
<line x1="648.78" y1="414.5" x2="648.78" y2="415.5" stroke="#222" stroke-width="0.4"/>
<line x1="652.55" y1="414.5" x2="652.55" y2="415.5" stroke="#222" stroke-width="0.4"/>
<line x1="655.88" y1="414.5" x2="655.88" y2="415.5" stroke="#222" stroke-width="0.4"/>
<line x1="658.86" y1="414.5" x2="658.86" y2="416.1" stroke="#222" stroke-width="0.4"/>
<line x1="471.3" y1="398.90" x2="473.5" y2="398.90" stroke="#222" stroke-width="0.6"/>
<text x="465.90" y="401.00" font-size="5.62" text-anchor="end" fill="#1a1a1a" stroke="#1a1a1a" stroke-width="0.12" textLength="6.87" lengthAdjust="spacingAndGlyphs">10</text><text x="466.10" y="398.80" font-size="3.95" fill="#1a1a1a" stroke="#1a1a1a" stroke-width="0.12" textLength="2.42" lengthAdjust="spacingAndGlyphs">1</text>
<line x1="472.3" y1="392.23" x2="473.5" y2="392.23" stroke="#222" stroke-width="0.4"/>
<line x1="472.3" y1="388.32" x2="473.5" y2="388.32" stroke="#222" stroke-width="0.4"/>
<line x1="472.3" y1="385.55" x2="473.5" y2="385.55" stroke="#222" stroke-width="0.4"/>
<line x1="472.3" y1="383.40" x2="473.5" y2="383.40" stroke="#222" stroke-width="0.4"/>
<line x1="472.3" y1="381.65" x2="473.5" y2="381.65" stroke="#222" stroke-width="0.4"/>
<line x1="472.3" y1="380.16" x2="473.5" y2="380.16" stroke="#222" stroke-width="0.4"/>
<line x1="472.3" y1="378.88" x2="473.5" y2="378.88" stroke="#222" stroke-width="0.4"/>
<line x1="472.3" y1="377.74" x2="473.5" y2="377.74" stroke="#222" stroke-width="0.4"/>
<line x1="471.3" y1="376.73" x2="473.5" y2="376.73" stroke="#222" stroke-width="0.6"/>
<text x="465.90" y="378.83" font-size="5.62" text-anchor="end" fill="#1a1a1a" stroke="#1a1a1a" stroke-width="0.12" textLength="6.87" lengthAdjust="spacingAndGlyphs">10</text><text x="466.10" y="376.63" font-size="3.95" fill="#1a1a1a" stroke="#1a1a1a" stroke-width="0.12" textLength="2.42" lengthAdjust="spacingAndGlyphs">2</text>
<line x1="472.3" y1="370.06" x2="473.5" y2="370.06" stroke="#222" stroke-width="0.4"/>
<line x1="472.3" y1="366.15" x2="473.5" y2="366.15" stroke="#222" stroke-width="0.4"/>
<line x1="472.3" y1="363.38" x2="473.5" y2="363.38" stroke="#222" stroke-width="0.4"/>
<line x1="472.3" y1="361.23" x2="473.5" y2="361.23" stroke="#222" stroke-width="0.4"/>
<line x1="472.3" y1="359.48" x2="473.5" y2="359.48" stroke="#222" stroke-width="0.4"/>
<line x1="472.3" y1="357.99" x2="473.5" y2="357.99" stroke="#222" stroke-width="0.4"/>
<line x1="472.3" y1="356.71" x2="473.5" y2="356.71" stroke="#222" stroke-width="0.4"/>
<line x1="472.3" y1="355.57" x2="473.5" y2="355.57" stroke="#222" stroke-width="0.4"/>
<line x1="471.3" y1="354.56" x2="473.5" y2="354.56" stroke="#222" stroke-width="0.6"/>
<text x="465.90" y="356.66" font-size="5.62" text-anchor="end" fill="#1a1a1a" stroke="#1a1a1a" stroke-width="0.12" textLength="6.87" lengthAdjust="spacingAndGlyphs">10</text><text x="466.10" y="354.46" font-size="3.95" fill="#1a1a1a" stroke="#1a1a1a" stroke-width="0.12" textLength="2.42" lengthAdjust="spacingAndGlyphs">3</text>
<line x1="472.3" y1="347.89" x2="473.5" y2="347.89" stroke="#222" stroke-width="0.4"/>
<line x1="472.3" y1="343.98" x2="473.5" y2="343.98" stroke="#222" stroke-width="0.4"/>
<line x1="472.3" y1="341.21" x2="473.5" y2="341.21" stroke="#222" stroke-width="0.4"/>
<line x1="472.3" y1="339.06" x2="473.5" y2="339.06" stroke="#222" stroke-width="0.4"/>
<line x1="472.3" y1="337.31" x2="473.5" y2="337.31" stroke="#222" stroke-width="0.4"/>
<line x1="472.3" y1="335.82" x2="473.5" y2="335.82" stroke="#222" stroke-width="0.4"/>
<line x1="472.3" y1="334.54" x2="473.5" y2="334.54" stroke="#222" stroke-width="0.4"/>
<line x1="472.3" y1="333.40" x2="473.5" y2="333.40" stroke="#222" stroke-width="0.4"/>
<line x1="471.3" y1="332.39" x2="473.5" y2="332.39" stroke="#222" stroke-width="0.6"/>
<text x="465.90" y="334.49" font-size="5.62" text-anchor="end" fill="#1a1a1a" stroke="#1a1a1a" stroke-width="0.12" textLength="6.87" lengthAdjust="spacingAndGlyphs">10</text><text x="466.10" y="332.29" font-size="3.95" fill="#1a1a1a" stroke="#1a1a1a" stroke-width="0.12" textLength="2.42" lengthAdjust="spacingAndGlyphs">4</text>
<line x1="472.3" y1="325.72" x2="473.5" y2="325.72" stroke="#222" stroke-width="0.4"/>
<line x1="472.3" y1="321.81" x2="473.5" y2="321.81" stroke="#222" stroke-width="0.4"/>
<line x1="472.3" y1="319.04" x2="473.5" y2="319.04" stroke="#222" stroke-width="0.4"/>
<line x1="472.3" y1="316.89" x2="473.5" y2="316.89" stroke="#222" stroke-width="0.4"/>
<text x="572.40" y="313.90" font-size="7.28" text-anchor="middle" fill="#1a1a1a" stroke="#1a1a1a" stroke-width="0.12" textLength="112.21" lengthAdjust="spacingAndGlyphs">Execution Time vs Spot Number</text>
<text x="572.40" y="431.00" font-size="7.23" text-anchor="middle" fill="#1a1a1a" stroke="#1a1a1a" stroke-width="0.12" textLength="42.27" lengthAdjust="spacingAndGlyphs">Spot Counts</text>
<text transform="translate(457.00,365.40) rotate(-90)" font-size="7.28" text-anchor="middle" fill="#1a1a1a" stroke="#1a1a1a" stroke-width="0.12" textLength="61.94" lengthAdjust="spacingAndGlyphs">Execution Time /s</text>

</svg>
</body></html>
